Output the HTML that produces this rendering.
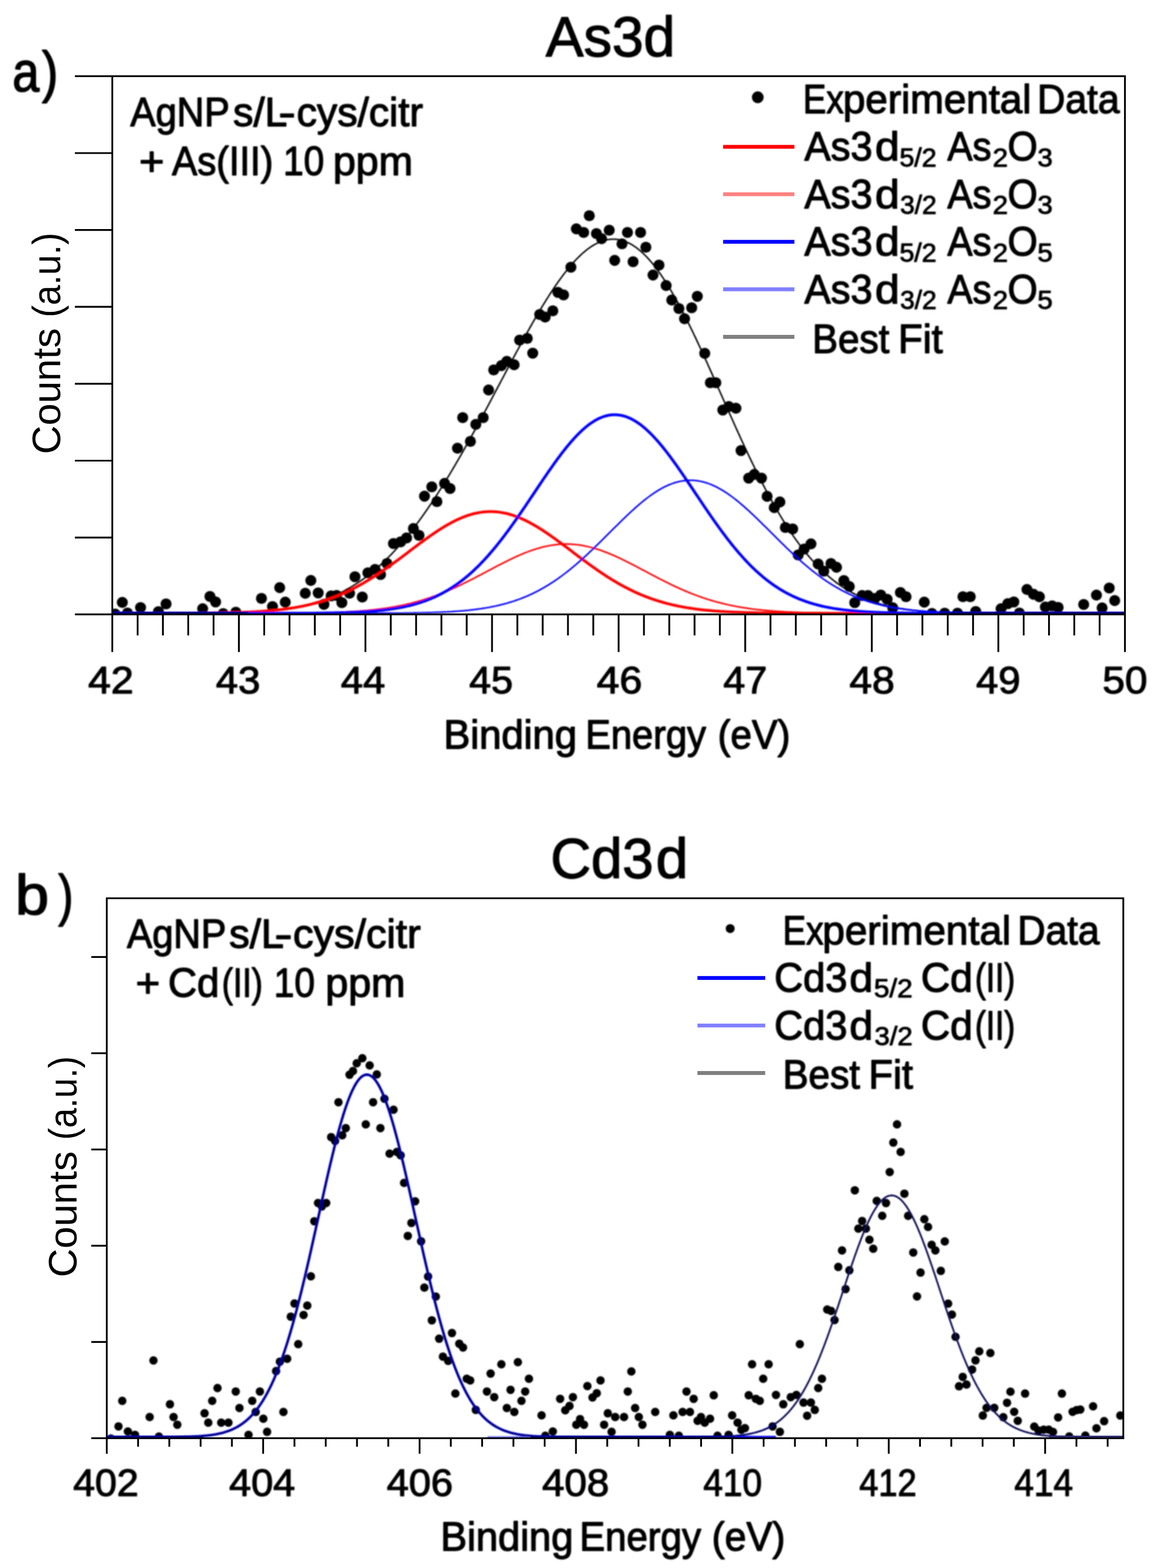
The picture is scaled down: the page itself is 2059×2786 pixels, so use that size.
<!DOCTYPE html>
<html lang="en">
<head>
<meta charset="utf-8">
<title>XPS spectra: As3d and Cd3d</title>
<style>
html,body{margin:0;padding:0;background:#fff;}
body{width:2059px;height:2786px;overflow:hidden;}
svg{display:block;}
text{font-family:"Liberation Sans", "DejaVu Sans", sans-serif;fill:#000;}
.ax{stroke:#000;stroke-width:3.2;fill:none;stroke-linecap:butt;}
.tk text{stroke:#000;stroke-width:1.6;stroke-linejoin:round;}
</style>
</head>
<body>
<svg xmlns="http://www.w3.org/2000/svg" width="2059" height="2786" viewBox="0 0 2059 2786">
<rect width="2059" height="2786" fill="#fff"/>
<defs>
<filter id="soft" x="0" y="0" width="2059" height="2786" filterUnits="userSpaceOnUse"><feGaussianBlur stdDeviation="0.9"/></filter>
<filter id="softY" x="0" y="0" width="2059" height="2786" filterUnits="userSpaceOnUse"><feGaussianBlur stdDeviation="0.45"/></filter>
<filter id="softT" x="0" y="0" width="2059" height="2786" filterUnits="userSpaceOnUse"><feGaussianBlur stdDeviation="0.8"/></filter>
<clipPath id="clipA"><rect x="199.5" y="135.4" width="1799.0" height="954.85"/></clipPath>
<clipPath id="clipB"><rect x="189.7" y="1596.0" width="1805.8999999999999" height="957.9500000000003"/></clipPath>
</defs>

<g id="chartA">
<g clip-path="url(#clipA)" filter="url(#soft)">
<path d="M199.5,1089.7 L201.5,1089.7 L203.5,1089.7 L205.5,1089.7 L207.5,1089.7 L209.5,1089.7 L211.5,1089.7 L213.5,1089.7 L215.5,1089.7 L217.5,1089.7 L219.5,1089.7 L221.5,1089.7 L223.5,1089.7 L225.5,1089.7 L227.5,1089.7 L229.5,1089.7 L231.5,1089.7 L233.5,1089.7 L235.5,1089.7 L237.5,1089.7 L239.5,1089.7 L241.5,1089.7 L243.5,1089.7 L245.5,1089.7 L247.5,1089.7 L249.5,1089.7 L251.5,1089.7 L253.5,1089.7 L255.5,1089.7 L257.5,1089.7 L259.5,1089.7 L261.5,1089.7 L263.5,1089.7 L265.5,1089.7 L267.5,1089.7 L269.5,1089.7 L271.5,1089.7 L273.5,1089.7 L275.5,1089.7 L277.5,1089.7 L279.5,1089.7 L281.5,1089.7 L283.5,1089.7 L285.5,1089.6 L287.5,1089.6 L289.5,1089.6 L291.5,1089.6 L293.5,1089.6 L295.5,1089.6 L297.5,1089.6 L299.5,1089.6 L301.5,1089.6 L303.5,1089.6 L305.5,1089.6 L307.5,1089.6 L309.5,1089.6 L311.5,1089.6 L313.5,1089.6 L315.5,1089.6 L317.5,1089.6 L319.5,1089.6 L321.5,1089.6 L323.5,1089.6 L325.5,1089.5 L327.5,1089.5 L329.5,1089.5 L331.5,1089.5 L333.5,1089.5 L335.5,1089.5 L337.5,1089.5 L339.5,1089.5 L341.5,1089.5 L343.5,1089.5 L345.5,1089.4 L347.5,1089.4 L349.5,1089.4 L351.5,1089.4 L353.5,1089.4 L355.5,1089.4 L357.5,1089.4 L359.5,1089.3 L361.5,1089.3 L363.5,1089.3 L365.5,1089.3 L367.5,1089.3 L369.5,1089.2 L371.5,1089.2 L373.5,1089.2 L375.5,1089.2 L377.5,1089.1 L379.5,1089.1 L381.5,1089.1 L383.5,1089.1 L385.5,1089.0 L387.5,1089.0 L389.5,1089.0 L391.5,1088.9 L393.5,1088.9 L395.5,1088.9 L397.5,1088.8 L399.5,1088.8 L401.5,1088.7 L403.5,1088.7 L405.5,1088.6 L407.5,1088.6 L409.5,1088.6 L411.5,1088.5 L413.5,1088.4 L415.5,1088.4 L417.5,1088.3 L419.5,1088.3 L421.5,1088.2 L423.5,1088.1 L425.5,1088.1 L427.5,1088.0 L429.5,1087.9 L431.5,1087.9 L433.5,1087.8 L435.5,1087.7 L437.5,1087.6 L439.5,1087.5 L441.5,1087.4 L443.5,1087.3 L445.5,1087.2 L447.5,1087.1 L449.5,1087.0 L451.5,1086.9 L453.5,1086.8 L455.5,1086.7 L457.5,1086.6 L459.5,1086.4 L461.5,1086.3 L463.5,1086.2 L465.5,1086.0 L467.5,1085.9 L469.5,1085.7 L471.5,1085.6 L473.5,1085.4 L475.5,1085.2 L477.5,1085.1 L479.5,1084.9 L481.5,1084.7 L483.5,1084.5 L485.5,1084.3 L487.5,1084.1 L489.5,1083.9 L491.5,1083.7 L493.5,1083.4 L495.5,1083.2 L497.5,1083.0 L499.5,1082.7 L501.5,1082.5 L503.5,1082.2 L505.5,1081.9 L507.5,1081.6 L509.5,1081.4 L511.5,1081.1 L513.5,1080.8 L515.5,1080.4 L517.5,1080.1 L519.5,1079.8 L521.5,1079.4 L523.5,1079.1 L525.5,1078.7 L527.5,1078.3 L529.5,1077.9 L531.5,1077.6 L533.5,1077.1 L535.5,1076.7 L537.5,1076.3 L539.5,1075.8 L541.5,1075.4 L543.5,1074.9 L545.5,1074.4 L547.5,1073.9 L549.5,1073.4 L551.5,1072.9 L553.5,1072.4 L555.5,1071.8 L557.5,1071.3 L559.5,1070.7 L561.5,1070.1 L563.5,1069.5 L565.5,1068.9 L567.5,1068.2 L569.5,1067.6 L571.5,1066.9 L573.5,1066.2 L575.5,1065.5 L577.5,1064.8 L579.5,1064.1 L581.5,1063.3 L583.5,1062.6 L585.5,1061.8 L587.5,1061.0 L589.5,1060.1 L591.5,1059.3 L593.5,1058.4 L595.5,1057.6 L597.5,1056.7 L599.5,1055.7 L601.5,1054.8 L603.5,1053.8 L605.5,1052.9 L607.5,1051.9 L609.5,1050.8 L611.5,1049.8 L613.5,1048.7 L615.5,1047.6 L617.5,1046.5 L619.5,1045.4 L621.5,1044.3 L623.5,1043.1 L625.5,1041.9 L627.5,1040.7 L629.5,1039.4 L631.5,1038.2 L633.5,1036.9 L635.5,1035.6 L637.5,1034.2 L639.5,1032.9 L641.5,1031.5 L643.5,1030.1 L645.5,1028.7 L647.5,1027.2 L649.5,1025.7 L651.5,1024.2 L653.5,1022.7 L655.5,1021.1 L657.5,1019.6 L659.5,1018.0 L661.5,1016.3 L663.5,1014.7 L665.5,1013.0 L667.5,1011.3 L669.5,1009.5 L671.5,1007.8 L673.5,1006.0 L675.5,1004.2 L677.5,1002.3 L679.5,1000.5 L681.5,998.6 L683.5,996.7 L685.5,994.7 L687.5,992.7 L689.5,990.7 L691.5,988.7 L693.5,986.7 L695.5,984.6 L697.5,982.5 L699.5,980.3 L701.5,978.2 L703.5,976.0 L705.5,973.8 L707.5,971.5 L709.5,969.3 L711.5,967.0 L713.5,964.7 L715.5,962.3 L717.5,960.0 L719.5,957.6 L721.5,955.1 L723.5,952.7 L725.5,950.2 L727.5,947.7 L729.5,945.2 L731.5,942.6 L733.5,940.0 L735.5,937.4 L737.5,934.8 L739.5,932.1 L741.5,929.5 L743.5,926.7 L745.5,924.0 L747.5,921.3 L749.5,918.5 L751.5,915.7 L753.5,912.8 L755.5,910.0 L757.5,907.1 L759.5,904.2 L761.5,901.3 L763.5,898.3 L765.5,895.4 L767.5,892.4 L769.5,889.4 L771.5,886.3 L773.5,883.3 L775.5,880.2 L777.5,877.1 L779.5,873.9 L781.5,870.8 L783.5,867.6 L785.5,864.4 L787.5,861.2 L789.5,858.0 L791.5,854.8 L793.5,851.5 L795.5,848.2 L797.5,844.9 L799.5,841.6 L801.5,838.2 L803.5,834.9 L805.5,831.5 L807.5,828.1 L809.5,824.7 L811.5,821.2 L813.5,817.8 L815.5,814.3 L817.5,810.9 L819.5,807.4 L821.5,803.8 L823.5,800.3 L825.5,796.8 L827.5,793.2 L829.5,789.7 L831.5,786.1 L833.5,782.5 L835.5,778.9 L837.5,775.3 L839.5,771.6 L841.5,768.0 L843.5,764.3 L845.5,760.7 L847.5,757.0 L849.5,753.3 L851.5,749.6 L853.5,745.9 L855.5,742.2 L857.5,738.5 L859.5,734.8 L861.5,731.0 L863.5,727.3 L865.5,723.6 L867.5,719.8 L869.5,716.1 L871.5,712.3 L873.5,708.5 L875.5,704.8 L877.5,701.0 L879.5,697.2 L881.5,693.4 L883.5,689.7 L885.5,685.9 L887.5,682.1 L889.5,678.3 L891.5,674.5 L893.5,670.8 L895.5,667.0 L897.5,663.2 L899.5,659.4 L901.5,655.7 L903.5,651.9 L905.5,648.1 L907.5,644.4 L909.5,640.6 L911.5,636.9 L913.5,633.2 L915.5,629.4 L917.5,625.7 L919.5,622.0 L921.5,618.3 L923.5,614.6 L925.5,610.9 L927.5,607.3 L929.5,603.6 L931.5,600.0 L933.5,596.3 L935.5,592.7 L937.5,589.1 L939.5,585.6 L941.5,582.0 L943.5,578.5 L945.5,574.9 L947.5,571.4 L949.5,568.0 L951.5,564.5 L953.5,561.1 L955.5,557.6 L957.5,554.2 L959.5,550.9 L961.5,547.5 L963.5,544.2 L965.5,540.9 L967.5,537.7 L969.5,534.4 L971.5,531.2 L973.5,528.1 L975.5,524.9 L977.5,521.8 L979.5,518.7 L981.5,515.7 L983.5,512.7 L985.5,509.7 L987.5,506.8 L989.5,503.9 L991.5,501.0 L993.5,498.2 L995.5,495.4 L997.5,492.7 L999.5,490.0 L1001.5,487.3 L1003.5,484.7 L1005.5,482.2 L1007.5,479.6 L1009.5,477.2 L1011.5,474.8 L1013.5,472.4 L1015.5,470.0 L1017.5,467.8 L1019.5,465.5 L1021.5,463.4 L1023.5,461.2 L1025.5,459.2 L1027.5,457.1 L1029.5,455.2 L1031.5,453.3 L1033.5,451.4 L1035.5,449.6 L1037.5,447.9 L1039.5,446.2 L1041.5,444.6 L1043.5,443.0 L1045.5,441.5 L1047.5,440.1 L1049.5,438.7 L1051.5,437.4 L1053.5,436.1 L1055.5,435.0 L1057.5,433.8 L1059.5,432.8 L1061.5,431.8 L1063.5,430.8 L1065.5,430.0 L1067.5,429.2 L1069.5,428.5 L1071.5,427.8 L1073.5,427.2 L1075.5,426.7 L1077.5,426.2 L1079.5,425.8 L1081.5,425.5 L1083.5,425.3 L1085.5,425.1 L1087.5,425.0 L1089.5,425.0 L1091.5,425.0 L1093.5,425.1 L1095.5,425.3 L1097.5,425.5 L1099.5,425.9 L1101.5,426.3 L1103.5,426.7 L1105.5,427.3 L1107.5,427.9 L1109.5,428.6 L1111.5,429.3 L1113.5,430.2 L1115.5,431.1 L1117.5,432.0 L1119.5,433.1 L1121.5,434.2 L1123.5,435.4 L1125.5,436.6 L1127.5,438.0 L1129.5,439.4 L1131.5,440.8 L1133.5,442.4 L1135.5,444.0 L1137.5,445.7 L1139.5,447.4 L1141.5,449.2 L1143.5,451.1 L1145.5,453.1 L1147.5,455.1 L1149.5,457.2 L1151.5,459.4 L1153.5,461.6 L1155.5,463.9 L1157.5,466.2 L1159.5,468.6 L1161.5,471.1 L1163.5,473.7 L1165.5,476.3 L1167.5,478.9 L1169.5,481.7 L1171.5,484.4 L1173.5,487.3 L1175.5,490.2 L1177.5,493.2 L1179.5,496.2 L1181.5,499.2 L1183.5,502.4 L1185.5,505.6 L1187.5,508.8 L1189.5,512.1 L1191.5,515.4 L1193.5,518.8 L1195.5,522.3 L1197.5,525.8 L1199.5,529.3 L1201.5,532.9 L1203.5,536.5 L1205.5,540.2 L1207.5,543.9 L1209.5,547.7 L1211.5,551.5 L1213.5,555.3 L1215.5,559.2 L1217.5,563.1 L1219.5,567.1 L1221.5,571.1 L1223.5,575.1 L1225.5,579.1 L1227.5,583.2 L1229.5,587.4 L1231.5,591.5 L1233.5,595.7 L1235.5,599.9 L1237.5,604.1 L1239.5,608.4 L1241.5,612.7 L1243.5,617.0 L1245.5,621.3 L1247.5,625.7 L1249.5,630.1 L1251.5,634.5 L1253.5,638.9 L1255.5,643.3 L1257.5,647.7 L1259.5,652.2 L1261.5,656.6 L1263.5,661.1 L1265.5,665.6 L1267.5,670.1 L1269.5,674.6 L1271.5,679.1 L1273.5,683.6 L1275.5,688.2 L1277.5,692.7 L1279.5,697.2 L1281.5,701.7 L1283.5,706.3 L1285.5,710.8 L1287.5,715.3 L1289.5,719.8 L1291.5,724.3 L1293.5,728.8 L1295.5,733.4 L1297.5,737.8 L1299.5,742.3 L1301.5,746.8 L1303.5,751.3 L1305.5,755.7 L1307.5,760.2 L1309.5,764.6 L1311.5,769.0 L1313.5,773.4 L1315.5,777.8 L1317.5,782.2 L1319.5,786.5 L1321.5,790.8 L1323.5,795.2 L1325.5,799.4 L1327.5,803.7 L1329.5,808.0 L1331.5,812.2 L1333.5,816.4 L1335.5,820.6 L1337.5,824.7 L1339.5,828.8 L1341.5,832.9 L1343.5,837.0 L1345.5,841.0 L1347.5,845.0 L1349.5,849.0 L1351.5,853.0 L1353.5,856.9 L1355.5,860.8 L1357.5,864.6 L1359.5,868.5 L1361.5,872.3 L1363.5,876.0 L1365.5,879.8 L1367.5,883.5 L1369.5,887.1 L1371.5,890.7 L1373.5,894.3 L1375.5,897.9 L1377.5,901.4 L1379.5,904.9 L1381.5,908.3 L1383.5,911.7 L1385.5,915.1 L1387.5,918.4 L1389.5,921.7 L1391.5,925.0 L1393.5,928.2 L1395.5,931.4 L1397.5,934.5 L1399.5,937.6 L1401.5,940.7 L1403.5,943.7 L1405.5,946.7 L1407.5,949.6 L1409.5,952.6 L1411.5,955.4 L1413.5,958.3 L1415.5,961.0 L1417.5,963.8 L1419.5,966.5 L1421.5,969.2 L1423.5,971.8 L1425.5,974.4 L1427.5,977.0 L1429.5,979.5 L1431.5,982.0 L1433.5,984.4 L1435.5,986.8 L1437.5,989.2 L1439.5,991.5 L1441.5,993.8 L1443.5,996.0 L1445.5,998.2 L1447.5,1000.4 L1449.5,1002.5 L1451.5,1004.6 L1453.5,1006.7 L1455.5,1008.7 L1457.5,1010.7 L1459.5,1012.7 L1461.5,1014.6 L1463.5,1016.5 L1465.5,1018.3 L1467.5,1020.1 L1469.5,1021.9 L1471.5,1023.6 L1473.5,1025.3 L1475.5,1027.0 L1477.5,1028.6 L1479.5,1030.3 L1481.5,1031.8 L1483.5,1033.4 L1485.5,1034.9 L1487.5,1036.4 L1489.5,1037.8 L1491.5,1039.2 L1493.5,1040.6 L1495.5,1042.0 L1497.5,1043.3 L1499.5,1044.6 L1501.5,1045.9 L1503.5,1047.1 L1505.5,1048.3 L1507.5,1049.5 L1509.5,1050.7 L1511.5,1051.8 L1513.5,1052.9 L1515.5,1054.0 L1517.5,1055.0 L1519.5,1056.1 L1521.5,1057.1 L1523.5,1058.0 L1525.5,1059.0 L1527.5,1059.9 L1529.5,1060.8 L1531.5,1061.7 L1533.5,1062.6 L1535.5,1063.4 L1537.5,1064.2 L1539.5,1065.0 L1541.5,1065.8 L1543.5,1066.6 L1545.5,1067.3 L1547.5,1068.0 L1549.5,1068.7 L1551.5,1069.4 L1553.5,1070.1 L1555.5,1070.7 L1557.5,1071.3 L1559.5,1071.9 L1561.5,1072.5 L1563.5,1073.1 L1565.5,1073.7 L1567.5,1074.2 L1569.5,1074.7 L1571.5,1075.2 L1573.5,1075.7 L1575.5,1076.2 L1577.5,1076.7 L1579.5,1077.1 L1581.5,1077.6 L1583.5,1078.0 L1585.5,1078.4 L1587.5,1078.8 L1589.5,1079.2 L1591.5,1079.6 L1593.5,1079.9 L1595.5,1080.3 L1597.5,1080.6 L1599.5,1081.0 L1601.5,1081.3 L1603.5,1081.6 L1605.5,1081.9 L1607.5,1082.2 L1609.5,1082.5 L1611.5,1082.7 L1613.5,1083.0 L1615.5,1083.3 L1617.5,1083.5 L1619.5,1083.7 L1621.5,1084.0 L1623.5,1084.2 L1625.5,1084.4 L1627.5,1084.6 L1629.5,1084.8 L1631.5,1085.0 L1633.5,1085.2 L1635.5,1085.4 L1637.5,1085.5 L1639.5,1085.7 L1641.5,1085.9 L1643.5,1086.0 L1645.5,1086.2 L1647.5,1086.3 L1649.5,1086.4 L1651.5,1086.6 L1653.5,1086.7 L1655.5,1086.8 L1657.5,1087.0 L1659.5,1087.1 L1661.5,1087.2 L1663.5,1087.3 L1665.5,1087.4 L1667.5,1087.5 L1669.5,1087.6 L1671.5,1087.7 L1673.5,1087.8 L1675.5,1087.8 L1677.5,1087.9 L1679.5,1088.0 L1681.5,1088.1 L1683.5,1088.1 L1685.5,1088.2 L1687.5,1088.3 L1689.5,1088.3 L1691.5,1088.4 L1693.5,1088.5 L1695.5,1088.5 L1697.5,1088.6 L1699.5,1088.6 L1701.5,1088.7 L1703.5,1088.7 L1705.5,1088.8 L1707.5,1088.8 L1709.5,1088.8 L1711.5,1088.9 L1713.5,1088.9 L1715.5,1089.0 L1717.5,1089.0 L1719.5,1089.0 L1721.5,1089.1 L1723.5,1089.1 L1725.5,1089.1 L1727.5,1089.1 L1729.5,1089.2 L1731.5,1089.2 L1733.5,1089.2 L1735.5,1089.2 L1737.5,1089.3 L1739.5,1089.3 L1741.5,1089.3 L1743.5,1089.3 L1745.5,1089.3 L1747.5,1089.4 L1749.5,1089.4 L1751.5,1089.4 L1753.5,1089.4 L1755.5,1089.4 L1757.5,1089.4 L1759.5,1089.5 L1761.5,1089.5 L1763.5,1089.5 L1765.5,1089.5 L1767.5,1089.5 L1769.5,1089.5 L1771.5,1089.5 L1773.5,1089.5 L1775.5,1089.5 L1777.5,1089.5 L1779.5,1089.6 L1781.5,1089.6 L1783.5,1089.6 L1785.5,1089.6 L1787.5,1089.6 L1789.5,1089.6 L1791.5,1089.6 L1793.5,1089.6 L1795.5,1089.6 L1797.5,1089.6 L1799.5,1089.6 L1801.5,1089.6 L1803.5,1089.6 L1805.5,1089.6 L1807.5,1089.6 L1809.5,1089.6 L1811.5,1089.6 L1813.5,1089.6 L1815.5,1089.6 L1817.5,1089.7 L1819.5,1089.7 L1821.5,1089.7 L1823.5,1089.7 L1825.5,1089.7 L1827.5,1089.7 L1829.5,1089.7 L1831.5,1089.7 L1833.5,1089.7 L1835.5,1089.7 L1837.5,1089.7 L1839.5,1089.7 L1841.5,1089.7 L1843.5,1089.7 L1845.5,1089.7 L1847.5,1089.7 L1849.5,1089.7 L1851.5,1089.7 L1853.5,1089.7 L1855.5,1089.7 L1857.5,1089.7 L1859.5,1089.7 L1861.5,1089.7 L1863.5,1089.7 L1865.5,1089.7 L1867.5,1089.7 L1869.5,1089.7 L1871.5,1089.7 L1873.5,1089.7 L1875.5,1089.7 L1877.5,1089.7 L1879.5,1089.7 L1881.5,1089.7 L1883.5,1089.7 L1885.5,1089.7 L1887.5,1089.7 L1889.5,1089.7 L1891.5,1089.7 L1893.5,1089.7 L1895.5,1089.7 L1897.5,1089.7 L1899.5,1089.7 L1901.5,1089.7 L1903.5,1089.7 L1905.5,1089.7 L1907.5,1089.7 L1909.5,1089.7 L1911.5,1089.7 L1913.5,1089.7 L1915.5,1089.7 L1917.5,1089.7 L1919.5,1089.7 L1921.5,1089.7 L1923.5,1089.7 L1925.5,1089.7 L1927.5,1089.7 L1929.5,1089.7 L1931.5,1089.7 L1933.5,1089.7 L1935.5,1089.7 L1937.5,1089.7 L1939.5,1089.7 L1941.5,1089.7 L1943.5,1089.7 L1945.5,1089.7 L1947.5,1089.7 L1949.5,1089.7 L1951.5,1089.7 L1953.5,1089.7 L1955.5,1089.7 L1957.5,1089.7 L1959.5,1089.7 L1961.5,1089.7 L1963.5,1089.7 L1965.5,1089.7 L1967.5,1089.7 L1969.5,1089.7 L1971.5,1089.7 L1973.5,1089.7 L1975.5,1089.7 L1977.5,1089.7 L1979.5,1089.7 L1981.5,1089.7 L1983.5,1089.7 L1985.5,1089.7 L1987.5,1089.7 L1989.5,1089.7 L1991.5,1089.7 L1993.5,1089.7 L1995.5,1089.7 L1997.5,1089.7 L1998.5,1089.7" fill="none" stroke="#000000" stroke-width="2.6" stroke-linejoin="round"/>
<g id="dotsA" fill="#000">
<circle cx="217.3" cy="1070.4" r="9.8"/>
<circle cx="204.5" cy="1091" r="9.8"/>
<circle cx="226.5" cy="1089.3" r="9.8"/>
<circle cx="249.7" cy="1079.5" r="9.8"/>
<circle cx="281.5" cy="1086.8" r="9.8"/>
<circle cx="295" cy="1073" r="9.8"/>
<circle cx="360" cy="1081.6" r="9.8"/>
<circle cx="373" cy="1059.8" r="9.8"/>
<circle cx="383" cy="1069.5" r="9.8"/>
<circle cx="396.5" cy="1090.2" r="9.8"/>
<circle cx="419" cy="1087.8" r="9.8"/>
<circle cx="464.5" cy="1063.2" r="9.8"/>
<circle cx="484.1" cy="1077.7" r="9.8"/>
<circle cx="496.9" cy="1044.1" r="9.8"/>
<circle cx="506.8" cy="1069.9" r="9.8"/>
<circle cx="542.3" cy="1054.1" r="9.8"/>
<circle cx="552.2" cy="1031.4" r="9.8"/>
<circle cx="565.3" cy="1053.5" r="9.8"/>
<circle cx="575.5" cy="1073.8" r="9.8"/>
<circle cx="588.3" cy="1058.7" r="9.8"/>
<circle cx="598" cy="1058" r="9.8"/>
<circle cx="607.3" cy="1070.8" r="9.8"/>
<circle cx="621" cy="1054" r="9.8"/>
<circle cx="630.6" cy="1024.8" r="9.8"/>
<circle cx="643.6" cy="1060.8" r="9.8"/>
<circle cx="653.6" cy="1017.8" r="9.8"/>
<circle cx="666.3" cy="1011.7" r="9.8"/>
<circle cx="676" cy="1020.8" r="9.8"/>
<circle cx="687.5" cy="1001.2" r="9.8"/>
<circle cx="699" cy="965.7" r="9.8"/>
<circle cx="711.7" cy="962.7" r="9.8"/>
<circle cx="722.3" cy="955.8" r="9.8"/>
<circle cx="734.4" cy="939.1" r="9.8"/>
<circle cx="744.4" cy="951.2" r="9.8"/>
<circle cx="754.1" cy="881.6" r="9.8"/>
<circle cx="767.1" cy="865" r="9.8"/>
<circle cx="776.2" cy="891.3" r="9.8"/>
<circle cx="789.8" cy="858.9" r="9.8"/>
<circle cx="799.5" cy="868" r="9.8"/>
<circle cx="812.7" cy="796.4" r="9.8"/>
<circle cx="822" cy="742" r="9.8"/>
<circle cx="835.7" cy="784.3" r="9.8"/>
<circle cx="845.3" cy="754" r="9.8"/>
<circle cx="858.4" cy="742" r="9.8"/>
<circle cx="868" cy="692.9" r="9.8"/>
<circle cx="877.1" cy="657.2" r="9.8"/>
<circle cx="890.7" cy="649.6" r="9.8"/>
<circle cx="900.4" cy="642" r="9.8"/>
<circle cx="913.4" cy="648.1" r="9.8"/>
<circle cx="923.1" cy="604.2" r="9.8"/>
<circle cx="936.7" cy="601.2" r="9.8"/>
<circle cx="946.4" cy="627.5" r="9.8"/>
<circle cx="958.8" cy="558.8" r="9.8"/>
<circle cx="968.5" cy="563.4" r="9.8"/>
<circle cx="982.1" cy="552.2" r="9.8"/>
<circle cx="991.2" cy="519.5" r="9.8"/>
<circle cx="1001.2" cy="524" r="9.8"/>
<circle cx="1014.2" cy="474.7" r="9.8"/>
<circle cx="1023.9" cy="406.6" r="9.8"/>
<circle cx="1036.9" cy="413" r="9.8"/>
<circle cx="1046.9" cy="383.3" r="9.8"/>
<circle cx="1059.6" cy="415" r="9.8"/>
<circle cx="1068.7" cy="424.1" r="9.8"/>
<circle cx="1082.3" cy="409" r="9.8"/>
<circle cx="1092" cy="462.6" r="9.8"/>
<circle cx="1105" cy="433.2" r="9.8"/>
<circle cx="1114.7" cy="413" r="9.8"/>
<circle cx="1124.7" cy="465" r="9.8"/>
<circle cx="1138" cy="413" r="9.8"/>
<circle cx="1147.4" cy="439.3" r="9.8"/>
<circle cx="1160.1" cy="488.6" r="9.8"/>
<circle cx="1170.7" cy="471" r="9.8"/>
<circle cx="1183.4" cy="507.4" r="9.8"/>
<circle cx="1193.4" cy="533.1" r="9.8"/>
<circle cx="1206.1" cy="548.2" r="9.8"/>
<circle cx="1216.1" cy="566.4" r="9.8"/>
<circle cx="1228.8" cy="546.7" r="9.8"/>
<circle cx="1238.8" cy="526.5" r="9.8"/>
<circle cx="1252" cy="627.7" r="9.8"/>
<circle cx="1262" cy="680" r="9.8"/>
<circle cx="1271.7" cy="680" r="9.8"/>
<circle cx="1284.1" cy="728.5" r="9.8"/>
<circle cx="1294.7" cy="722.4" r="9.8"/>
<circle cx="1307.4" cy="725.4" r="9.8"/>
<circle cx="1316.5" cy="800.5" r="9.8"/>
<circle cx="1330.1" cy="849.5" r="9.8"/>
<circle cx="1340.1" cy="842.9" r="9.8"/>
<circle cx="1352.8" cy="849.5" r="9.8"/>
<circle cx="1362.8" cy="881.9" r="9.8"/>
<circle cx="1375.5" cy="901.9" r="9.8"/>
<circle cx="1385.5" cy="891.9" r="9.8"/>
<circle cx="1395.2" cy="937.3" r="9.8"/>
<circle cx="1408.2" cy="939.7" r="9.8"/>
<circle cx="1418" cy="986" r="9.8"/>
<circle cx="1428.6" cy="975.5" r="9.8"/>
<circle cx="1440.7" cy="966.4" r="9.8"/>
<circle cx="1453.5" cy="1002.1" r="9.8"/>
<circle cx="1463.4" cy="1014.8" r="9.8"/>
<circle cx="1476.2" cy="1001.2" r="9.8"/>
<circle cx="1486.1" cy="1007.9" r="9.8"/>
<circle cx="1499.2" cy="1031.5" r="9.8"/>
<circle cx="1508.8" cy="1042.1" r="9.8"/>
<circle cx="1518.5" cy="1070.8" r="9.8"/>
<circle cx="1531.5" cy="1058.1" r="9.8"/>
<circle cx="1542.1" cy="1058.1" r="9.8"/>
<circle cx="1554.2" cy="1063.3" r="9.8"/>
<circle cx="1564.8" cy="1057.2" r="9.8"/>
<circle cx="1576" cy="1064.8" r="9.8"/>
<circle cx="1586" cy="1079.9" r="9.8"/>
<circle cx="1599.6" cy="1052.7" r="9.8"/>
<circle cx="1609.6" cy="1060.2" r="9.8"/>
<circle cx="1642" cy="1069.9" r="9.8"/>
<circle cx="1655.6" cy="1090" r="9.8"/>
<circle cx="1678.3" cy="1089.5" r="9.8"/>
<circle cx="1701" cy="1089.5" r="9.8"/>
<circle cx="1710.7" cy="1060.2" r="9.8"/>
<circle cx="1723.7" cy="1060.2" r="9.8"/>
<circle cx="1733.4" cy="1086.5" r="9.8"/>
<circle cx="1778.4" cy="1081.6" r="9.8"/>
<circle cx="1790.5" cy="1072.5" r="9.8"/>
<circle cx="1801.1" cy="1069.5" r="9.8"/>
<circle cx="1811" cy="1089.2" r="9.8"/>
<circle cx="1824.4" cy="1047.4" r="9.8"/>
<circle cx="1836" cy="1055.9" r="9.8"/>
<circle cx="1846.5" cy="1060.4" r="9.8"/>
<circle cx="1857.1" cy="1078.6" r="9.8"/>
<circle cx="1869.2" cy="1076.5" r="9.8"/>
<circle cx="1879.8" cy="1079.2" r="9.8"/>
<circle cx="1925.2" cy="1074" r="9.8"/>
<circle cx="1947.9" cy="1057.4" r="9.8"/>
<circle cx="1957.9" cy="1080.1" r="9.8"/>
<circle cx="1970.6" cy="1044.7" r="9.8"/>
<circle cx="1980.3" cy="1067.1" r="9.8"/>
</g>
<path d="M199.5,1089.7 L201.5,1089.7 L203.5,1089.7 L205.5,1089.7 L207.5,1089.7 L209.5,1089.7 L211.5,1089.7 L213.5,1089.7 L215.5,1089.7 L217.5,1089.7 L219.5,1089.7 L221.5,1089.7 L223.5,1089.7 L225.5,1089.7 L227.5,1089.7 L229.5,1089.7 L231.5,1089.7 L233.5,1089.7 L235.5,1089.7 L237.5,1089.7 L239.5,1089.7 L241.5,1089.7 L243.5,1089.7 L245.5,1089.7 L247.5,1089.7 L249.5,1089.7 L251.5,1089.7 L253.5,1089.7 L255.5,1089.7 L257.5,1089.7 L259.5,1089.7 L261.5,1089.7 L263.5,1089.7 L265.5,1089.7 L267.5,1089.7 L269.5,1089.7 L271.5,1089.7 L273.5,1089.7 L275.5,1089.7 L277.5,1089.7 L279.5,1089.7 L281.5,1089.7 L283.5,1089.7 L285.5,1089.6 L287.5,1089.6 L289.5,1089.6 L291.5,1089.6 L293.5,1089.6 L295.5,1089.6 L297.5,1089.6 L299.5,1089.6 L301.5,1089.6 L303.5,1089.6 L305.5,1089.6 L307.5,1089.6 L309.5,1089.6 L311.5,1089.6 L313.5,1089.6 L315.5,1089.6 L317.5,1089.6 L319.5,1089.6 L321.5,1089.6 L323.5,1089.6 L325.5,1089.5 L327.5,1089.5 L329.5,1089.5 L331.5,1089.5 L333.5,1089.5 L335.5,1089.5 L337.5,1089.5 L339.5,1089.5 L341.5,1089.5 L343.5,1089.5 L345.5,1089.4 L347.5,1089.4 L349.5,1089.4 L351.5,1089.4 L353.5,1089.4 L355.5,1089.4 L357.5,1089.4 L359.5,1089.3 L361.5,1089.3 L363.5,1089.3 L365.5,1089.3 L367.5,1089.3 L369.5,1089.2 L371.5,1089.2 L373.5,1089.2 L375.5,1089.2 L377.5,1089.2 L379.5,1089.1 L381.5,1089.1 L383.5,1089.1 L385.5,1089.0 L387.5,1089.0 L389.5,1089.0 L391.5,1088.9 L393.5,1088.9 L395.5,1088.9 L397.5,1088.8 L399.5,1088.8 L401.5,1088.8 L403.5,1088.7 L405.5,1088.7 L407.5,1088.6 L409.5,1088.6 L411.5,1088.5 L413.5,1088.5 L415.5,1088.4 L417.5,1088.4 L419.5,1088.3 L421.5,1088.2 L423.5,1088.2 L425.5,1088.1 L427.5,1088.0 L429.5,1088.0 L431.5,1087.9 L433.5,1087.8 L435.5,1087.7 L437.5,1087.7 L439.5,1087.6 L441.5,1087.5 L443.5,1087.4 L445.5,1087.3 L447.5,1087.2 L449.5,1087.1 L451.5,1087.0 L453.5,1086.9 L455.5,1086.8 L457.5,1086.6 L459.5,1086.5 L461.5,1086.4 L463.5,1086.3 L465.5,1086.1 L467.5,1086.0 L469.5,1085.8 L471.5,1085.7 L473.5,1085.5 L475.5,1085.4 L477.5,1085.2 L479.5,1085.0 L481.5,1084.8 L483.5,1084.7 L485.5,1084.5 L487.5,1084.3 L489.5,1084.1 L491.5,1083.9 L493.5,1083.7 L495.5,1083.4 L497.5,1083.2 L499.5,1083.0 L501.5,1082.7 L503.5,1082.5 L505.5,1082.2 L507.5,1082.0 L509.5,1081.7 L511.5,1081.4 L513.5,1081.1 L515.5,1080.8 L517.5,1080.5 L519.5,1080.2 L521.5,1079.9 L523.5,1079.6 L525.5,1079.2 L527.5,1078.9 L529.5,1078.5 L531.5,1078.1 L533.5,1077.8 L535.5,1077.4 L537.5,1077.0 L539.5,1076.6 L541.5,1076.1 L543.5,1075.7 L545.5,1075.3 L547.5,1074.8 L549.5,1074.4 L551.5,1073.9 L553.5,1073.4 L555.5,1072.9 L557.5,1072.4 L559.5,1071.9 L561.5,1071.3 L563.5,1070.8 L565.5,1070.2 L567.5,1069.6 L569.5,1069.0 L571.5,1068.4 L573.5,1067.8 L575.5,1067.2 L577.5,1066.6 L579.5,1065.9 L581.5,1065.2 L583.5,1064.6 L585.5,1063.9 L587.5,1063.2 L589.5,1062.4 L591.5,1061.7 L593.5,1060.9 L595.5,1060.2 L597.5,1059.4 L599.5,1058.6 L601.5,1057.8 L603.5,1057.0 L605.5,1056.1 L607.5,1055.3 L609.5,1054.4 L611.5,1053.5 L613.5,1052.6 L615.5,1051.7 L617.5,1050.7 L619.5,1049.8 L621.5,1048.8 L623.5,1047.8 L625.5,1046.9 L627.5,1045.8 L629.5,1044.8 L631.5,1043.8 L633.5,1042.7 L635.5,1041.6 L637.5,1040.6 L639.5,1039.5 L641.5,1038.3 L643.5,1037.2 L645.5,1036.1 L647.5,1034.9 L649.5,1033.7 L651.5,1032.5 L653.5,1031.3 L655.5,1030.1 L657.5,1028.9 L659.5,1027.6 L661.5,1026.4 L663.5,1025.1 L665.5,1023.8 L667.5,1022.5 L669.5,1021.2 L671.5,1019.9 L673.5,1018.6 L675.5,1017.2 L677.5,1015.9 L679.5,1014.5 L681.5,1013.1 L683.5,1011.7 L685.5,1010.3 L687.5,1008.9 L689.5,1007.5 L691.5,1006.1 L693.5,1004.6 L695.5,1003.2 L697.5,1001.7 L699.5,1000.3 L701.5,998.8 L703.5,997.3 L705.5,995.9 L707.5,994.4 L709.5,992.9 L711.5,991.4 L713.5,989.9 L715.5,988.4 L717.5,986.9 L719.5,985.4 L721.5,983.9 L723.5,982.4 L725.5,980.9 L727.5,979.3 L729.5,977.8 L731.5,976.3 L733.5,974.8 L735.5,973.3 L737.5,971.8 L739.5,970.3 L741.5,968.8 L743.5,967.3 L745.5,965.8 L747.5,964.3 L749.5,962.9 L751.5,961.4 L753.5,959.9 L755.5,958.5 L757.5,957.0 L759.5,955.6 L761.5,954.2 L763.5,952.8 L765.5,951.4 L767.5,950.0 L769.5,948.6 L771.5,947.2 L773.5,945.9 L775.5,944.6 L777.5,943.2 L779.5,941.9 L781.5,940.7 L783.5,939.4 L785.5,938.1 L787.5,936.9 L789.5,935.7 L791.5,934.5 L793.5,933.3 L795.5,932.2 L797.5,931.1 L799.5,930.0 L801.5,928.9 L803.5,927.8 L805.5,926.8 L807.5,925.8 L809.5,924.8 L811.5,923.8 L813.5,922.9 L815.5,922.0 L817.5,921.1 L819.5,920.3 L821.5,919.4 L823.5,918.6 L825.5,917.9 L827.5,917.1 L829.5,916.4 L831.5,915.7 L833.5,915.1 L835.5,914.5 L837.5,913.9 L839.5,913.3 L841.5,912.8 L843.5,912.3 L845.5,911.9 L847.5,911.5 L849.5,911.1 L851.5,910.7 L853.5,910.4 L855.5,910.1 L857.5,909.8 L859.5,909.6 L861.5,909.4 L863.5,909.3 L865.5,909.2 L867.5,909.1 L869.5,909.0 L871.5,909.0 L873.5,909.0 L875.5,909.1 L877.5,909.2 L879.5,909.3 L881.5,909.4 L883.5,909.6 L885.5,909.8 L887.5,910.1 L889.5,910.4 L891.5,910.7 L893.5,911.1 L895.5,911.5 L897.5,911.9 L899.5,912.3 L901.5,912.8 L903.5,913.3 L905.5,913.9 L907.5,914.5 L909.5,915.1 L911.5,915.7 L913.5,916.4 L915.5,917.1 L917.5,917.9 L919.5,918.6 L921.5,919.4 L923.5,920.3 L925.5,921.1 L927.5,922.0 L929.5,922.9 L931.5,923.8 L933.5,924.8 L935.5,925.8 L937.5,926.8 L939.5,927.8 L941.5,928.9 L943.5,930.0 L945.5,931.1 L947.5,932.2 L949.5,933.3 L951.5,934.5 L953.5,935.7 L955.5,936.9 L957.5,938.1 L959.5,939.4 L961.5,940.7 L963.5,941.9 L965.5,943.2 L967.5,944.6 L969.5,945.9 L971.5,947.2 L973.5,948.6 L975.5,950.0 L977.5,951.4 L979.5,952.8 L981.5,954.2 L983.5,955.6 L985.5,957.0 L987.5,958.5 L989.5,959.9 L991.5,961.4 L993.5,962.9 L995.5,964.3 L997.5,965.8 L999.5,967.3 L1001.5,968.8 L1003.5,970.3 L1005.5,971.8 L1007.5,973.3 L1009.5,974.8 L1011.5,976.3 L1013.5,977.8 L1015.5,979.3 L1017.5,980.9 L1019.5,982.4 L1021.5,983.9 L1023.5,985.4 L1025.5,986.9 L1027.5,988.4 L1029.5,989.9 L1031.5,991.4 L1033.5,992.9 L1035.5,994.4 L1037.5,995.9 L1039.5,997.3 L1041.5,998.8 L1043.5,1000.3 L1045.5,1001.7 L1047.5,1003.2 L1049.5,1004.6 L1051.5,1006.1 L1053.5,1007.5 L1055.5,1008.9 L1057.5,1010.3 L1059.5,1011.7 L1061.5,1013.1 L1063.5,1014.5 L1065.5,1015.9 L1067.5,1017.2 L1069.5,1018.6 L1071.5,1019.9 L1073.5,1021.2 L1075.5,1022.5 L1077.5,1023.8 L1079.5,1025.1 L1081.5,1026.4 L1083.5,1027.6 L1085.5,1028.9 L1087.5,1030.1 L1089.5,1031.3 L1091.5,1032.5 L1093.5,1033.7 L1095.5,1034.9 L1097.5,1036.1 L1099.5,1037.2 L1101.5,1038.3 L1103.5,1039.5 L1105.5,1040.6 L1107.5,1041.6 L1109.5,1042.7 L1111.5,1043.8 L1113.5,1044.8 L1115.5,1045.8 L1117.5,1046.9 L1119.5,1047.8 L1121.5,1048.8 L1123.5,1049.8 L1125.5,1050.7 L1127.5,1051.7 L1129.5,1052.6 L1131.5,1053.5 L1133.5,1054.4 L1135.5,1055.3 L1137.5,1056.1 L1139.5,1057.0 L1141.5,1057.8 L1143.5,1058.6 L1145.5,1059.4 L1147.5,1060.2 L1149.5,1060.9 L1151.5,1061.7 L1153.5,1062.4 L1155.5,1063.2 L1157.5,1063.9 L1159.5,1064.6 L1161.5,1065.2 L1163.5,1065.9 L1165.5,1066.6 L1167.5,1067.2 L1169.5,1067.8 L1171.5,1068.4 L1173.5,1069.0 L1175.5,1069.6 L1177.5,1070.2 L1179.5,1070.8 L1181.5,1071.3 L1183.5,1071.9 L1185.5,1072.4 L1187.5,1072.9 L1189.5,1073.4 L1191.5,1073.9 L1193.5,1074.4 L1195.5,1074.8 L1197.5,1075.3 L1199.5,1075.7 L1201.5,1076.1 L1203.5,1076.6 L1205.5,1077.0 L1207.5,1077.4 L1209.5,1077.8 L1211.5,1078.1 L1213.5,1078.5 L1215.5,1078.9 L1217.5,1079.2 L1219.5,1079.6 L1221.5,1079.9 L1223.5,1080.2 L1225.5,1080.5 L1227.5,1080.8 L1229.5,1081.1 L1231.5,1081.4 L1233.5,1081.7 L1235.5,1082.0 L1237.5,1082.2 L1239.5,1082.5 L1241.5,1082.7 L1243.5,1083.0 L1245.5,1083.2 L1247.5,1083.4 L1249.5,1083.7 L1251.5,1083.9 L1253.5,1084.1 L1255.5,1084.3 L1257.5,1084.5 L1259.5,1084.7 L1261.5,1084.8 L1263.5,1085.0 L1265.5,1085.2 L1267.5,1085.4 L1269.5,1085.5 L1271.5,1085.7 L1273.5,1085.8 L1275.5,1086.0 L1277.5,1086.1 L1279.5,1086.3 L1281.5,1086.4 L1283.5,1086.5 L1285.5,1086.6 L1287.5,1086.8 L1289.5,1086.9 L1291.5,1087.0 L1293.5,1087.1 L1295.5,1087.2 L1297.5,1087.3 L1299.5,1087.4 L1301.5,1087.5 L1303.5,1087.6 L1305.5,1087.7 L1307.5,1087.7 L1309.5,1087.8 L1311.5,1087.9 L1313.5,1088.0 L1315.5,1088.0 L1317.5,1088.1 L1319.5,1088.2 L1321.5,1088.2 L1323.5,1088.3 L1325.5,1088.4 L1327.5,1088.4 L1329.5,1088.5 L1331.5,1088.5 L1333.5,1088.6 L1335.5,1088.6 L1337.5,1088.7 L1339.5,1088.7 L1341.5,1088.8 L1343.5,1088.8 L1345.5,1088.8 L1347.5,1088.9 L1349.5,1088.9 L1351.5,1088.9 L1353.5,1089.0 L1355.5,1089.0 L1357.5,1089.0 L1359.5,1089.1 L1361.5,1089.1 L1363.5,1089.1 L1365.5,1089.2 L1367.5,1089.2 L1369.5,1089.2 L1371.5,1089.2 L1373.5,1089.2 L1375.5,1089.3 L1377.5,1089.3 L1379.5,1089.3 L1381.5,1089.3 L1383.5,1089.3 L1385.5,1089.4 L1387.5,1089.4 L1389.5,1089.4 L1391.5,1089.4 L1393.5,1089.4 L1395.5,1089.4 L1397.5,1089.4 L1399.5,1089.5 L1401.5,1089.5 L1403.5,1089.5 L1405.5,1089.5 L1407.5,1089.5 L1409.5,1089.5 L1411.5,1089.5 L1413.5,1089.5 L1415.5,1089.5 L1417.5,1089.5 L1419.5,1089.6 L1421.5,1089.6 L1423.5,1089.6 L1425.5,1089.6 L1427.5,1089.6 L1429.5,1089.6 L1431.5,1089.6 L1433.5,1089.6 L1435.5,1089.6 L1437.5,1089.6 L1439.5,1089.6 L1441.5,1089.6 L1443.5,1089.6 L1445.5,1089.6 L1447.5,1089.6 L1449.5,1089.6 L1451.5,1089.6 L1453.5,1089.6 L1455.5,1089.6 L1457.5,1089.6 L1459.5,1089.7 L1461.5,1089.7 L1463.5,1089.7 L1465.5,1089.7 L1467.5,1089.7 L1469.5,1089.7 L1471.5,1089.7 L1473.5,1089.7 L1475.5,1089.7 L1477.5,1089.7 L1479.5,1089.7 L1481.5,1089.7 L1483.5,1089.7 L1485.5,1089.7 L1487.5,1089.7 L1489.5,1089.7 L1491.5,1089.7 L1493.5,1089.7 L1495.5,1089.7 L1497.5,1089.7 L1499.5,1089.7 L1501.5,1089.7 L1503.5,1089.7 L1505.5,1089.7 L1507.5,1089.7 L1509.5,1089.7 L1511.5,1089.7 L1513.5,1089.7 L1515.5,1089.7 L1517.5,1089.7 L1519.5,1089.7 L1521.5,1089.7 L1523.5,1089.7 L1525.5,1089.7 L1527.5,1089.7 L1529.5,1089.7 L1531.5,1089.7 L1533.5,1089.7 L1535.5,1089.7 L1537.5,1089.7 L1539.5,1089.7 L1541.5,1089.7 L1543.5,1089.7 L1545.5,1089.7 L1547.5,1089.7 L1549.5,1089.7 L1551.5,1089.7 L1553.5,1089.7 L1555.5,1089.7 L1557.5,1089.7 L1559.5,1089.7 L1561.5,1089.7 L1563.5,1089.7 L1565.5,1089.7 L1567.5,1089.7 L1569.5,1089.7 L1571.5,1089.7 L1573.5,1089.7 L1575.5,1089.7 L1577.5,1089.7 L1579.5,1089.7 L1581.5,1089.7 L1583.5,1089.7 L1585.5,1089.7 L1587.5,1089.7 L1589.5,1089.7 L1591.5,1089.7 L1593.5,1089.7 L1595.5,1089.7 L1597.5,1089.7 L1599.5,1089.7 L1601.5,1089.7 L1603.5,1089.7 L1605.5,1089.7 L1607.5,1089.7 L1609.5,1089.7 L1611.5,1089.7 L1613.5,1089.7 L1615.5,1089.7 L1617.5,1089.7 L1619.5,1089.7 L1621.5,1089.7 L1623.5,1089.7 L1625.5,1089.7 L1627.5,1089.7 L1629.5,1089.7 L1631.5,1089.7 L1633.5,1089.7 L1635.5,1089.7 L1637.5,1089.7 L1639.5,1089.7 L1641.5,1089.7 L1643.5,1089.7 L1645.5,1089.7 L1647.5,1089.7 L1649.5,1089.7 L1651.5,1089.7 L1653.5,1089.7 L1655.5,1089.7 L1657.5,1089.7 L1659.5,1089.7 L1661.5,1089.7 L1663.5,1089.7 L1665.5,1089.7 L1667.5,1089.7 L1669.5,1089.7 L1671.5,1089.7 L1673.5,1089.7 L1675.5,1089.7 L1677.5,1089.7 L1679.5,1089.7 L1681.5,1089.7 L1683.5,1089.7 L1685.5,1089.7 L1687.5,1089.7 L1689.5,1089.7 L1691.5,1089.7 L1693.5,1089.7 L1695.5,1089.7 L1697.5,1089.7 L1699.5,1089.7 L1701.5,1089.7 L1703.5,1089.7 L1705.5,1089.7 L1707.5,1089.7 L1709.5,1089.7 L1711.5,1089.7 L1713.5,1089.7 L1715.5,1089.7 L1717.5,1089.7 L1719.5,1089.7 L1721.5,1089.7 L1723.5,1089.7 L1725.5,1089.7 L1727.5,1089.7 L1729.5,1089.7 L1731.5,1089.7 L1733.5,1089.7 L1735.5,1089.7 L1737.5,1089.7 L1739.5,1089.7 L1741.5,1089.7 L1743.5,1089.7 L1745.5,1089.7 L1747.5,1089.7 L1749.5,1089.7 L1751.5,1089.7 L1753.5,1089.7 L1755.5,1089.7 L1757.5,1089.7 L1759.5,1089.7 L1761.5,1089.7 L1763.5,1089.7 L1765.5,1089.7 L1767.5,1089.7 L1769.5,1089.7 L1771.5,1089.7 L1773.5,1089.7 L1775.5,1089.7 L1777.5,1089.7 L1779.5,1089.7 L1781.5,1089.7 L1783.5,1089.7 L1785.5,1089.7 L1787.5,1089.7 L1789.5,1089.7 L1791.5,1089.7 L1793.5,1089.7 L1795.5,1089.7 L1797.5,1089.7 L1799.5,1089.7 L1801.5,1089.7 L1803.5,1089.7 L1805.5,1089.7 L1807.5,1089.7 L1809.5,1089.7 L1811.5,1089.7 L1813.5,1089.7 L1815.5,1089.7 L1817.5,1089.7 L1819.5,1089.7 L1821.5,1089.7 L1823.5,1089.7 L1825.5,1089.7 L1827.5,1089.7 L1829.5,1089.7 L1831.5,1089.7 L1833.5,1089.7 L1835.5,1089.7 L1837.5,1089.7 L1839.5,1089.7 L1841.5,1089.7 L1843.5,1089.7 L1845.5,1089.7 L1847.5,1089.7 L1849.5,1089.7 L1851.5,1089.7 L1853.5,1089.7 L1855.5,1089.7 L1857.5,1089.7 L1859.5,1089.7 L1861.5,1089.7 L1863.5,1089.7 L1865.5,1089.7 L1867.5,1089.7 L1869.5,1089.7 L1871.5,1089.7 L1873.5,1089.7 L1875.5,1089.7 L1877.5,1089.7 L1879.5,1089.7 L1881.5,1089.7 L1883.5,1089.7 L1885.5,1089.7 L1887.5,1089.7 L1889.5,1089.7 L1891.5,1089.7 L1893.5,1089.7 L1895.5,1089.7 L1897.5,1089.7 L1899.5,1089.7 L1901.5,1089.7 L1903.5,1089.7 L1905.5,1089.7 L1907.5,1089.7 L1909.5,1089.7 L1911.5,1089.7 L1913.5,1089.7 L1915.5,1089.7 L1917.5,1089.7 L1919.5,1089.7 L1921.5,1089.7 L1923.5,1089.7 L1925.5,1089.7 L1927.5,1089.7 L1929.5,1089.7 L1931.5,1089.7 L1933.5,1089.7 L1935.5,1089.7 L1937.5,1089.7 L1939.5,1089.7 L1941.5,1089.7 L1943.5,1089.7 L1945.5,1089.7 L1947.5,1089.7 L1949.5,1089.7 L1951.5,1089.7 L1953.5,1089.7 L1955.5,1089.7 L1957.5,1089.7 L1959.5,1089.7 L1961.5,1089.7 L1963.5,1089.7 L1965.5,1089.7 L1967.5,1089.7 L1969.5,1089.7 L1971.5,1089.7 L1973.5,1089.7 L1975.5,1089.7 L1977.5,1089.7 L1979.5,1089.7 L1981.5,1089.7 L1983.5,1089.7 L1985.5,1089.7 L1987.5,1089.7 L1989.5,1089.7 L1991.5,1089.7 L1993.5,1089.7 L1995.5,1089.7 L1997.5,1089.7 L1998.5,1089.7" fill="none" stroke="#ff0000" stroke-width="5.0" stroke-linejoin="round"/>
<path d="M199.5,1089.7 L201.5,1089.7 L203.5,1089.7 L205.5,1089.7 L207.5,1089.7 L209.5,1089.7 L211.5,1089.7 L213.5,1089.7 L215.5,1089.7 L217.5,1089.7 L219.5,1089.7 L221.5,1089.7 L223.5,1089.7 L225.5,1089.7 L227.5,1089.7 L229.5,1089.7 L231.5,1089.7 L233.5,1089.7 L235.5,1089.7 L237.5,1089.7 L239.5,1089.7 L241.5,1089.7 L243.5,1089.7 L245.5,1089.7 L247.5,1089.7 L249.5,1089.7 L251.5,1089.7 L253.5,1089.7 L255.5,1089.7 L257.5,1089.7 L259.5,1089.7 L261.5,1089.7 L263.5,1089.7 L265.5,1089.7 L267.5,1089.7 L269.5,1089.7 L271.5,1089.7 L273.5,1089.7 L275.5,1089.7 L277.5,1089.7 L279.5,1089.7 L281.5,1089.7 L283.5,1089.7 L285.5,1089.7 L287.5,1089.7 L289.5,1089.7 L291.5,1089.7 L293.5,1089.7 L295.5,1089.7 L297.5,1089.7 L299.5,1089.7 L301.5,1089.7 L303.5,1089.7 L305.5,1089.7 L307.5,1089.7 L309.5,1089.7 L311.5,1089.7 L313.5,1089.7 L315.5,1089.7 L317.5,1089.7 L319.5,1089.7 L321.5,1089.7 L323.5,1089.7 L325.5,1089.7 L327.5,1089.7 L329.5,1089.7 L331.5,1089.7 L333.5,1089.7 L335.5,1089.7 L337.5,1089.7 L339.5,1089.7 L341.5,1089.7 L343.5,1089.7 L345.5,1089.7 L347.5,1089.7 L349.5,1089.7 L351.5,1089.7 L353.5,1089.7 L355.5,1089.7 L357.5,1089.7 L359.5,1089.7 L361.5,1089.7 L363.5,1089.7 L365.5,1089.7 L367.5,1089.7 L369.5,1089.7 L371.5,1089.7 L373.5,1089.7 L375.5,1089.7 L377.5,1089.7 L379.5,1089.7 L381.5,1089.7 L383.5,1089.7 L385.5,1089.7 L387.5,1089.7 L389.5,1089.7 L391.5,1089.7 L393.5,1089.7 L395.5,1089.7 L397.5,1089.7 L399.5,1089.7 L401.5,1089.7 L403.5,1089.7 L405.5,1089.7 L407.5,1089.7 L409.5,1089.7 L411.5,1089.7 L413.5,1089.7 L415.5,1089.7 L417.5,1089.7 L419.5,1089.7 L421.5,1089.7 L423.5,1089.7 L425.5,1089.7 L427.5,1089.7 L429.5,1089.7 L431.5,1089.7 L433.5,1089.7 L435.5,1089.7 L437.5,1089.7 L439.5,1089.7 L441.5,1089.7 L443.5,1089.7 L445.5,1089.7 L447.5,1089.7 L449.5,1089.7 L451.5,1089.6 L453.5,1089.6 L455.5,1089.6 L457.5,1089.6 L459.5,1089.6 L461.5,1089.6 L463.5,1089.6 L465.5,1089.6 L467.5,1089.6 L469.5,1089.6 L471.5,1089.6 L473.5,1089.6 L475.5,1089.6 L477.5,1089.6 L479.5,1089.6 L481.5,1089.6 L483.5,1089.6 L485.5,1089.6 L487.5,1089.6 L489.5,1089.6 L491.5,1089.5 L493.5,1089.5 L495.5,1089.5 L497.5,1089.5 L499.5,1089.5 L501.5,1089.5 L503.5,1089.5 L505.5,1089.5 L507.5,1089.5 L509.5,1089.5 L511.5,1089.4 L513.5,1089.4 L515.5,1089.4 L517.5,1089.4 L519.5,1089.4 L521.5,1089.4 L523.5,1089.4 L525.5,1089.3 L527.5,1089.3 L529.5,1089.3 L531.5,1089.3 L533.5,1089.3 L535.5,1089.2 L537.5,1089.2 L539.5,1089.2 L541.5,1089.2 L543.5,1089.2 L545.5,1089.1 L547.5,1089.1 L549.5,1089.1 L551.5,1089.0 L553.5,1089.0 L555.5,1089.0 L557.5,1088.9 L559.5,1088.9 L561.5,1088.9 L563.5,1088.8 L565.5,1088.8 L567.5,1088.8 L569.5,1088.7 L571.5,1088.7 L573.5,1088.6 L575.5,1088.6 L577.5,1088.5 L579.5,1088.5 L581.5,1088.4 L583.5,1088.4 L585.5,1088.3 L587.5,1088.2 L589.5,1088.2 L591.5,1088.1 L593.5,1088.0 L595.5,1088.0 L597.5,1087.9 L599.5,1087.8 L601.5,1087.7 L603.5,1087.7 L605.5,1087.6 L607.5,1087.5 L609.5,1087.4 L611.5,1087.3 L613.5,1087.2 L615.5,1087.1 L617.5,1087.0 L619.5,1086.9 L621.5,1086.8 L623.5,1086.7 L625.5,1086.6 L627.5,1086.4 L629.5,1086.3 L631.5,1086.2 L633.5,1086.0 L635.5,1085.9 L637.5,1085.8 L639.5,1085.6 L641.5,1085.4 L643.5,1085.3 L645.5,1085.1 L647.5,1085.0 L649.5,1084.8 L651.5,1084.6 L653.5,1084.4 L655.5,1084.2 L657.5,1084.0 L659.5,1083.8 L661.5,1083.6 L663.5,1083.4 L665.5,1083.2 L667.5,1082.9 L669.5,1082.7 L671.5,1082.5 L673.5,1082.2 L675.5,1082.0 L677.5,1081.7 L679.5,1081.4 L681.5,1081.2 L683.5,1080.9 L685.5,1080.6 L687.5,1080.3 L689.5,1080.0 L691.5,1079.7 L693.5,1079.3 L695.5,1079.0 L697.5,1078.7 L699.5,1078.3 L701.5,1078.0 L703.5,1077.6 L705.5,1077.2 L707.5,1076.8 L709.5,1076.4 L711.5,1076.0 L713.5,1075.6 L715.5,1075.2 L717.5,1074.8 L719.5,1074.3 L721.5,1073.9 L723.5,1073.4 L725.5,1072.9 L727.5,1072.5 L729.5,1072.0 L731.5,1071.5 L733.5,1070.9 L735.5,1070.4 L737.5,1069.9 L739.5,1069.3 L741.5,1068.8 L743.5,1068.2 L745.5,1067.6 L747.5,1067.1 L749.5,1066.5 L751.5,1065.9 L753.5,1065.2 L755.5,1064.6 L757.5,1064.0 L759.5,1063.3 L761.5,1062.6 L763.5,1062.0 L765.5,1061.3 L767.5,1060.6 L769.5,1059.9 L771.5,1059.2 L773.5,1058.4 L775.5,1057.7 L777.5,1056.9 L779.5,1056.2 L781.5,1055.4 L783.5,1054.6 L785.5,1053.8 L787.5,1053.0 L789.5,1052.2 L791.5,1051.3 L793.5,1050.5 L795.5,1049.7 L797.5,1048.8 L799.5,1047.9 L801.5,1047.1 L803.5,1046.2 L805.5,1045.3 L807.5,1044.4 L809.5,1043.4 L811.5,1042.5 L813.5,1041.6 L815.5,1040.6 L817.5,1039.7 L819.5,1038.7 L821.5,1037.8 L823.5,1036.8 L825.5,1035.8 L827.5,1034.8 L829.5,1033.8 L831.5,1032.8 L833.5,1031.8 L835.5,1030.8 L837.5,1029.8 L839.5,1028.8 L841.5,1027.7 L843.5,1026.7 L845.5,1025.6 L847.5,1024.6 L849.5,1023.6 L851.5,1022.5 L853.5,1021.5 L855.5,1020.4 L857.5,1019.3 L859.5,1018.3 L861.5,1017.2 L863.5,1016.2 L865.5,1015.1 L867.5,1014.0 L869.5,1013.0 L871.5,1011.9 L873.5,1010.9 L875.5,1009.8 L877.5,1008.7 L879.5,1007.7 L881.5,1006.6 L883.5,1005.6 L885.5,1004.6 L887.5,1003.5 L889.5,1002.5 L891.5,1001.5 L893.5,1000.4 L895.5,999.4 L897.5,998.4 L899.5,997.4 L901.5,996.4 L903.5,995.4 L905.5,994.5 L907.5,993.5 L909.5,992.5 L911.5,991.6 L913.5,990.7 L915.5,989.7 L917.5,988.8 L919.5,987.9 L921.5,987.0 L923.5,986.2 L925.5,985.3 L927.5,984.5 L929.5,983.6 L931.5,982.8 L933.5,982.0 L935.5,981.2 L937.5,980.5 L939.5,979.7 L941.5,979.0 L943.5,978.3 L945.5,977.6 L947.5,976.9 L949.5,976.3 L951.5,975.6 L953.5,975.0 L955.5,974.4 L957.5,973.8 L959.5,973.3 L961.5,972.7 L963.5,972.2 L965.5,971.7 L967.5,971.2 L969.5,970.8 L971.5,970.4 L973.5,969.9 L975.5,969.6 L977.5,969.2 L979.5,968.9 L981.5,968.6 L983.5,968.3 L985.5,968.0 L987.5,967.8 L989.5,967.5 L991.5,967.4 L993.5,967.2 L995.5,967.0 L997.5,966.9 L999.5,966.8 L1001.5,966.8 L1003.5,966.7 L1005.5,966.7 L1007.5,966.7 L1009.5,966.7 L1011.5,966.8 L1013.5,966.9 L1015.5,967.0 L1017.5,967.1 L1019.5,967.3 L1021.5,967.4 L1023.5,967.7 L1025.5,967.9 L1027.5,968.1 L1029.5,968.4 L1031.5,968.7 L1033.5,969.0 L1035.5,969.4 L1037.5,969.8 L1039.5,970.1 L1041.5,970.6 L1043.5,971.0 L1045.5,971.5 L1047.5,972.0 L1049.5,972.5 L1051.5,973.0 L1053.5,973.5 L1055.5,974.1 L1057.5,974.7 L1059.5,975.3 L1061.5,975.9 L1063.5,976.6 L1065.5,977.2 L1067.5,977.9 L1069.5,978.6 L1071.5,979.4 L1073.5,980.1 L1075.5,980.9 L1077.5,981.6 L1079.5,982.4 L1081.5,983.2 L1083.5,984.1 L1085.5,984.9 L1087.5,985.7 L1089.5,986.6 L1091.5,987.5 L1093.5,988.4 L1095.5,989.3 L1097.5,990.2 L1099.5,991.1 L1101.5,992.1 L1103.5,993.0 L1105.5,994.0 L1107.5,995.0 L1109.5,995.9 L1111.5,996.9 L1113.5,997.9 L1115.5,998.9 L1117.5,999.9 L1119.5,1000.9 L1121.5,1002.0 L1123.5,1003.0 L1125.5,1004.0 L1127.5,1005.1 L1129.5,1006.1 L1131.5,1007.2 L1133.5,1008.2 L1135.5,1009.3 L1137.5,1010.3 L1139.5,1011.4 L1141.5,1012.4 L1143.5,1013.5 L1145.5,1014.6 L1147.5,1015.6 L1149.5,1016.7 L1151.5,1017.8 L1153.5,1018.8 L1155.5,1019.9 L1157.5,1020.9 L1159.5,1022.0 L1161.5,1023.0 L1163.5,1024.1 L1165.5,1025.1 L1167.5,1026.2 L1169.5,1027.2 L1171.5,1028.2 L1173.5,1029.3 L1175.5,1030.3 L1177.5,1031.3 L1179.5,1032.3 L1181.5,1033.3 L1183.5,1034.3 L1185.5,1035.3 L1187.5,1036.3 L1189.5,1037.3 L1191.5,1038.3 L1193.5,1039.2 L1195.5,1040.2 L1197.5,1041.1 L1199.5,1042.1 L1201.5,1043.0 L1203.5,1043.9 L1205.5,1044.8 L1207.5,1045.7 L1209.5,1046.6 L1211.5,1047.5 L1213.5,1048.4 L1215.5,1049.2 L1217.5,1050.1 L1219.5,1050.9 L1221.5,1051.8 L1223.5,1052.6 L1225.5,1053.4 L1227.5,1054.2 L1229.5,1055.0 L1231.5,1055.8 L1233.5,1056.5 L1235.5,1057.3 L1237.5,1058.0 L1239.5,1058.8 L1241.5,1059.5 L1243.5,1060.2 L1245.5,1060.9 L1247.5,1061.6 L1249.5,1062.3 L1251.5,1063.0 L1253.5,1063.6 L1255.5,1064.3 L1257.5,1064.9 L1259.5,1065.5 L1261.5,1066.2 L1263.5,1066.8 L1265.5,1067.4 L1267.5,1067.9 L1269.5,1068.5 L1271.5,1069.1 L1273.5,1069.6 L1275.5,1070.2 L1277.5,1070.7 L1279.5,1071.2 L1281.5,1071.7 L1283.5,1072.2 L1285.5,1072.7 L1287.5,1073.2 L1289.5,1073.6 L1291.5,1074.1 L1293.5,1074.5 L1295.5,1075.0 L1297.5,1075.4 L1299.5,1075.8 L1301.5,1076.2 L1303.5,1076.6 L1305.5,1077.0 L1307.5,1077.4 L1309.5,1077.8 L1311.5,1078.1 L1313.5,1078.5 L1315.5,1078.8 L1317.5,1079.2 L1319.5,1079.5 L1321.5,1079.8 L1323.5,1080.1 L1325.5,1080.4 L1327.5,1080.7 L1329.5,1081.0 L1331.5,1081.3 L1333.5,1081.6 L1335.5,1081.8 L1337.5,1082.1 L1339.5,1082.3 L1341.5,1082.6 L1343.5,1082.8 L1345.5,1083.1 L1347.5,1083.3 L1349.5,1083.5 L1351.5,1083.7 L1353.5,1083.9 L1355.5,1084.1 L1357.5,1084.3 L1359.5,1084.5 L1361.5,1084.7 L1363.5,1084.9 L1365.5,1085.0 L1367.5,1085.2 L1369.5,1085.4 L1371.5,1085.5 L1373.5,1085.7 L1375.5,1085.8 L1377.5,1086.0 L1379.5,1086.1 L1381.5,1086.2 L1383.5,1086.4 L1385.5,1086.5 L1387.5,1086.6 L1389.5,1086.7 L1391.5,1086.8 L1393.5,1087.0 L1395.5,1087.1 L1397.5,1087.2 L1399.5,1087.3 L1401.5,1087.4 L1403.5,1087.5 L1405.5,1087.5 L1407.5,1087.6 L1409.5,1087.7 L1411.5,1087.8 L1413.5,1087.9 L1415.5,1087.9 L1417.5,1088.0 L1419.5,1088.1 L1421.5,1088.1 L1423.5,1088.2 L1425.5,1088.3 L1427.5,1088.3 L1429.5,1088.4 L1431.5,1088.4 L1433.5,1088.5 L1435.5,1088.6 L1437.5,1088.6 L1439.5,1088.6 L1441.5,1088.7 L1443.5,1088.7 L1445.5,1088.8 L1447.5,1088.8 L1449.5,1088.9 L1451.5,1088.9 L1453.5,1088.9 L1455.5,1089.0 L1457.5,1089.0 L1459.5,1089.0 L1461.5,1089.1 L1463.5,1089.1 L1465.5,1089.1 L1467.5,1089.1 L1469.5,1089.2 L1471.5,1089.2 L1473.5,1089.2 L1475.5,1089.2 L1477.5,1089.3 L1479.5,1089.3 L1481.5,1089.3 L1483.5,1089.3 L1485.5,1089.3 L1487.5,1089.4 L1489.5,1089.4 L1491.5,1089.4 L1493.5,1089.4 L1495.5,1089.4 L1497.5,1089.4 L1499.5,1089.4 L1501.5,1089.5 L1503.5,1089.5 L1505.5,1089.5 L1507.5,1089.5 L1509.5,1089.5 L1511.5,1089.5 L1513.5,1089.5 L1515.5,1089.5 L1517.5,1089.5 L1519.5,1089.5 L1521.5,1089.6 L1523.5,1089.6 L1525.5,1089.6 L1527.5,1089.6 L1529.5,1089.6 L1531.5,1089.6 L1533.5,1089.6 L1535.5,1089.6 L1537.5,1089.6 L1539.5,1089.6 L1541.5,1089.6 L1543.5,1089.6 L1545.5,1089.6 L1547.5,1089.6 L1549.5,1089.6 L1551.5,1089.6 L1553.5,1089.6 L1555.5,1089.6 L1557.5,1089.6 L1559.5,1089.6 L1561.5,1089.7 L1563.5,1089.7 L1565.5,1089.7 L1567.5,1089.7 L1569.5,1089.7 L1571.5,1089.7 L1573.5,1089.7 L1575.5,1089.7 L1577.5,1089.7 L1579.5,1089.7 L1581.5,1089.7 L1583.5,1089.7 L1585.5,1089.7 L1587.5,1089.7 L1589.5,1089.7 L1591.5,1089.7 L1593.5,1089.7 L1595.5,1089.7 L1597.5,1089.7 L1599.5,1089.7 L1601.5,1089.7 L1603.5,1089.7 L1605.5,1089.7 L1607.5,1089.7 L1609.5,1089.7 L1611.5,1089.7 L1613.5,1089.7 L1615.5,1089.7 L1617.5,1089.7 L1619.5,1089.7 L1621.5,1089.7 L1623.5,1089.7 L1625.5,1089.7 L1627.5,1089.7 L1629.5,1089.7 L1631.5,1089.7 L1633.5,1089.7 L1635.5,1089.7 L1637.5,1089.7 L1639.5,1089.7 L1641.5,1089.7 L1643.5,1089.7 L1645.5,1089.7 L1647.5,1089.7 L1649.5,1089.7 L1651.5,1089.7 L1653.5,1089.7 L1655.5,1089.7 L1657.5,1089.7 L1659.5,1089.7 L1661.5,1089.7 L1663.5,1089.7 L1665.5,1089.7 L1667.5,1089.7 L1669.5,1089.7 L1671.5,1089.7 L1673.5,1089.7 L1675.5,1089.7 L1677.5,1089.7 L1679.5,1089.7 L1681.5,1089.7 L1683.5,1089.7 L1685.5,1089.7 L1687.5,1089.7 L1689.5,1089.7 L1691.5,1089.7 L1693.5,1089.7 L1695.5,1089.7 L1697.5,1089.7 L1699.5,1089.7 L1701.5,1089.7 L1703.5,1089.7 L1705.5,1089.7 L1707.5,1089.7 L1709.5,1089.7 L1711.5,1089.7 L1713.5,1089.7 L1715.5,1089.7 L1717.5,1089.7 L1719.5,1089.7 L1721.5,1089.7 L1723.5,1089.7 L1725.5,1089.7 L1727.5,1089.7 L1729.5,1089.7 L1731.5,1089.7 L1733.5,1089.7 L1735.5,1089.7 L1737.5,1089.7 L1739.5,1089.7 L1741.5,1089.7 L1743.5,1089.7 L1745.5,1089.7 L1747.5,1089.7 L1749.5,1089.7 L1751.5,1089.7 L1753.5,1089.7 L1755.5,1089.7 L1757.5,1089.7 L1759.5,1089.7 L1761.5,1089.7 L1763.5,1089.7 L1765.5,1089.7 L1767.5,1089.7 L1769.5,1089.7 L1771.5,1089.7 L1773.5,1089.7 L1775.5,1089.7 L1777.5,1089.7 L1779.5,1089.7 L1781.5,1089.7 L1783.5,1089.7 L1785.5,1089.7 L1787.5,1089.7 L1789.5,1089.7 L1791.5,1089.7 L1793.5,1089.7 L1795.5,1089.7 L1797.5,1089.7 L1799.5,1089.7 L1801.5,1089.7 L1803.5,1089.7 L1805.5,1089.7 L1807.5,1089.7 L1809.5,1089.7 L1811.5,1089.7 L1813.5,1089.7 L1815.5,1089.7 L1817.5,1089.7 L1819.5,1089.7 L1821.5,1089.7 L1823.5,1089.7 L1825.5,1089.7 L1827.5,1089.7 L1829.5,1089.7 L1831.5,1089.7 L1833.5,1089.7 L1835.5,1089.7 L1837.5,1089.7 L1839.5,1089.7 L1841.5,1089.7 L1843.5,1089.7 L1845.5,1089.7 L1847.5,1089.7 L1849.5,1089.7 L1851.5,1089.7 L1853.5,1089.7 L1855.5,1089.7 L1857.5,1089.7 L1859.5,1089.7 L1861.5,1089.7 L1863.5,1089.7 L1865.5,1089.7 L1867.5,1089.7 L1869.5,1089.7 L1871.5,1089.7 L1873.5,1089.7 L1875.5,1089.7 L1877.5,1089.7 L1879.5,1089.7 L1881.5,1089.7 L1883.5,1089.7 L1885.5,1089.7 L1887.5,1089.7 L1889.5,1089.7 L1891.5,1089.7 L1893.5,1089.7 L1895.5,1089.7 L1897.5,1089.7 L1899.5,1089.7 L1901.5,1089.7 L1903.5,1089.7 L1905.5,1089.7 L1907.5,1089.7 L1909.5,1089.7 L1911.5,1089.7 L1913.5,1089.7 L1915.5,1089.7 L1917.5,1089.7 L1919.5,1089.7 L1921.5,1089.7 L1923.5,1089.7 L1925.5,1089.7 L1927.5,1089.7 L1929.5,1089.7 L1931.5,1089.7 L1933.5,1089.7 L1935.5,1089.7 L1937.5,1089.7 L1939.5,1089.7 L1941.5,1089.7 L1943.5,1089.7 L1945.5,1089.7 L1947.5,1089.7 L1949.5,1089.7 L1951.5,1089.7 L1953.5,1089.7 L1955.5,1089.7 L1957.5,1089.7 L1959.5,1089.7 L1961.5,1089.7 L1963.5,1089.7 L1965.5,1089.7 L1967.5,1089.7 L1969.5,1089.7 L1971.5,1089.7 L1973.5,1089.7 L1975.5,1089.7 L1977.5,1089.7 L1979.5,1089.7 L1981.5,1089.7 L1983.5,1089.7 L1985.5,1089.7 L1987.5,1089.7 L1989.5,1089.7 L1991.5,1089.7 L1993.5,1089.7 L1995.5,1089.7 L1997.5,1089.7 L1998.5,1089.7" fill="none" stroke="#ff0000" stroke-width="2.8" stroke-linejoin="round"/>
<path d="M199.5,1089.7 L201.5,1089.7 L203.5,1089.7 L205.5,1089.7 L207.5,1089.7 L209.5,1089.7 L211.5,1089.7 L213.5,1089.7 L215.5,1089.7 L217.5,1089.7 L219.5,1089.7 L221.5,1089.7 L223.5,1089.7 L225.5,1089.7 L227.5,1089.7 L229.5,1089.7 L231.5,1089.7 L233.5,1089.7 L235.5,1089.7 L237.5,1089.7 L239.5,1089.7 L241.5,1089.7 L243.5,1089.7 L245.5,1089.7 L247.5,1089.7 L249.5,1089.7 L251.5,1089.7 L253.5,1089.7 L255.5,1089.7 L257.5,1089.7 L259.5,1089.7 L261.5,1089.7 L263.5,1089.7 L265.5,1089.7 L267.5,1089.7 L269.5,1089.7 L271.5,1089.7 L273.5,1089.7 L275.5,1089.7 L277.5,1089.7 L279.5,1089.7 L281.5,1089.7 L283.5,1089.7 L285.5,1089.7 L287.5,1089.7 L289.5,1089.7 L291.5,1089.7 L293.5,1089.7 L295.5,1089.7 L297.5,1089.7 L299.5,1089.7 L301.5,1089.7 L303.5,1089.7 L305.5,1089.7 L307.5,1089.7 L309.5,1089.7 L311.5,1089.7 L313.5,1089.7 L315.5,1089.7 L317.5,1089.7 L319.5,1089.7 L321.5,1089.7 L323.5,1089.7 L325.5,1089.7 L327.5,1089.7 L329.5,1089.7 L331.5,1089.7 L333.5,1089.7 L335.5,1089.7 L337.5,1089.7 L339.5,1089.7 L341.5,1089.7 L343.5,1089.7 L345.5,1089.7 L347.5,1089.7 L349.5,1089.7 L351.5,1089.7 L353.5,1089.7 L355.5,1089.7 L357.5,1089.7 L359.5,1089.7 L361.5,1089.7 L363.5,1089.7 L365.5,1089.7 L367.5,1089.7 L369.5,1089.7 L371.5,1089.7 L373.5,1089.7 L375.5,1089.7 L377.5,1089.7 L379.5,1089.7 L381.5,1089.7 L383.5,1089.7 L385.5,1089.7 L387.5,1089.7 L389.5,1089.7 L391.5,1089.7 L393.5,1089.7 L395.5,1089.7 L397.5,1089.7 L399.5,1089.7 L401.5,1089.7 L403.5,1089.7 L405.5,1089.7 L407.5,1089.7 L409.5,1089.7 L411.5,1089.7 L413.5,1089.7 L415.5,1089.7 L417.5,1089.7 L419.5,1089.7 L421.5,1089.7 L423.5,1089.7 L425.5,1089.7 L427.5,1089.7 L429.5,1089.7 L431.5,1089.7 L433.5,1089.7 L435.5,1089.7 L437.5,1089.7 L439.5,1089.7 L441.5,1089.7 L443.5,1089.7 L445.5,1089.7 L447.5,1089.7 L449.5,1089.7 L451.5,1089.7 L453.5,1089.7 L455.5,1089.7 L457.5,1089.7 L459.5,1089.7 L461.5,1089.7 L463.5,1089.7 L465.5,1089.7 L467.5,1089.7 L469.5,1089.7 L471.5,1089.7 L473.5,1089.7 L475.5,1089.7 L477.5,1089.7 L479.5,1089.7 L481.5,1089.7 L483.5,1089.7 L485.5,1089.7 L487.5,1089.7 L489.5,1089.7 L491.5,1089.6 L493.5,1089.6 L495.5,1089.6 L497.5,1089.6 L499.5,1089.6 L501.5,1089.6 L503.5,1089.6 L505.5,1089.6 L507.5,1089.6 L509.5,1089.6 L511.5,1089.6 L513.5,1089.6 L515.5,1089.6 L517.5,1089.6 L519.5,1089.6 L521.5,1089.6 L523.5,1089.6 L525.5,1089.6 L527.5,1089.6 L529.5,1089.5 L531.5,1089.5 L533.5,1089.5 L535.5,1089.5 L537.5,1089.5 L539.5,1089.5 L541.5,1089.5 L543.5,1089.5 L545.5,1089.5 L547.5,1089.4 L549.5,1089.4 L551.5,1089.4 L553.5,1089.4 L555.5,1089.4 L557.5,1089.4 L559.5,1089.4 L561.5,1089.3 L563.5,1089.3 L565.5,1089.3 L567.5,1089.3 L569.5,1089.3 L571.5,1089.2 L573.5,1089.2 L575.5,1089.2 L577.5,1089.2 L579.5,1089.1 L581.5,1089.1 L583.5,1089.1 L585.5,1089.0 L587.5,1089.0 L589.5,1089.0 L591.5,1088.9 L593.5,1088.9 L595.5,1088.8 L597.5,1088.8 L599.5,1088.8 L601.5,1088.7 L603.5,1088.7 L605.5,1088.6 L607.5,1088.6 L609.5,1088.5 L611.5,1088.5 L613.5,1088.4 L615.5,1088.3 L617.5,1088.3 L619.5,1088.2 L621.5,1088.1 L623.5,1088.1 L625.5,1088.0 L627.5,1087.9 L629.5,1087.8 L631.5,1087.7 L633.5,1087.6 L635.5,1087.5 L637.5,1087.4 L639.5,1087.3 L641.5,1087.2 L643.5,1087.1 L645.5,1087.0 L647.5,1086.9 L649.5,1086.8 L651.5,1086.6 L653.5,1086.5 L655.5,1086.4 L657.5,1086.2 L659.5,1086.1 L661.5,1085.9 L663.5,1085.7 L665.5,1085.6 L667.5,1085.4 L669.5,1085.2 L671.5,1085.0 L673.5,1084.8 L675.5,1084.6 L677.5,1084.4 L679.5,1084.2 L681.5,1084.0 L683.5,1083.7 L685.5,1083.5 L687.5,1083.2 L689.5,1083.0 L691.5,1082.7 L693.5,1082.4 L695.5,1082.1 L697.5,1081.8 L699.5,1081.5 L701.5,1081.2 L703.5,1080.9 L705.5,1080.6 L707.5,1080.2 L709.5,1079.8 L711.5,1079.5 L713.5,1079.1 L715.5,1078.7 L717.5,1078.3 L719.5,1077.8 L721.5,1077.4 L723.5,1076.9 L725.5,1076.5 L727.5,1076.0 L729.5,1075.5 L731.5,1075.0 L733.5,1074.5 L735.5,1073.9 L737.5,1073.4 L739.5,1072.8 L741.5,1072.2 L743.5,1071.6 L745.5,1071.0 L747.5,1070.3 L749.5,1069.7 L751.5,1069.0 L753.5,1068.3 L755.5,1067.6 L757.5,1066.8 L759.5,1066.1 L761.5,1065.3 L763.5,1064.5 L765.5,1063.7 L767.5,1062.8 L769.5,1062.0 L771.5,1061.1 L773.5,1060.2 L775.5,1059.2 L777.5,1058.3 L779.5,1057.3 L781.5,1056.3 L783.5,1055.3 L785.5,1054.2 L787.5,1053.1 L789.5,1052.0 L791.5,1050.9 L793.5,1049.8 L795.5,1048.6 L797.5,1047.4 L799.5,1046.1 L801.5,1044.9 L803.5,1043.6 L805.5,1042.3 L807.5,1040.9 L809.5,1039.6 L811.5,1038.2 L813.5,1036.7 L815.5,1035.3 L817.5,1033.8 L819.5,1032.3 L821.5,1030.7 L823.5,1029.2 L825.5,1027.6 L827.5,1025.9 L829.5,1024.3 L831.5,1022.6 L833.5,1020.8 L835.5,1019.1 L837.5,1017.3 L839.5,1015.5 L841.5,1013.6 L843.5,1011.8 L845.5,1009.8 L847.5,1007.9 L849.5,1005.9 L851.5,1003.9 L853.5,1001.9 L855.5,999.8 L857.5,997.7 L859.5,995.6 L861.5,993.5 L863.5,991.3 L865.5,989.1 L867.5,986.8 L869.5,984.5 L871.5,982.2 L873.5,979.9 L875.5,977.6 L877.5,975.2 L879.5,972.7 L881.5,970.3 L883.5,967.8 L885.5,965.3 L887.5,962.8 L889.5,960.3 L891.5,957.7 L893.5,955.1 L895.5,952.5 L897.5,949.8 L899.5,947.1 L901.5,944.4 L903.5,941.7 L905.5,939.0 L907.5,936.2 L909.5,933.4 L911.5,930.6 L913.5,927.8 L915.5,925.0 L917.5,922.1 L919.5,919.3 L921.5,916.4 L923.5,913.5 L925.5,910.6 L927.5,907.7 L929.5,904.7 L931.5,901.8 L933.5,898.8 L935.5,895.9 L937.5,892.9 L939.5,889.9 L941.5,886.9 L943.5,883.9 L945.5,881.0 L947.5,878.0 L949.5,875.0 L951.5,872.0 L953.5,869.0 L955.5,866.0 L957.5,863.0 L959.5,860.0 L961.5,857.1 L963.5,854.1 L965.5,851.1 L967.5,848.2 L969.5,845.3 L971.5,842.3 L973.5,839.4 L975.5,836.5 L977.5,833.7 L979.5,830.8 L981.5,828.0 L983.5,825.1 L985.5,822.3 L987.5,819.6 L989.5,816.8 L991.5,814.1 L993.5,811.4 L995.5,808.7 L997.5,806.1 L999.5,803.5 L1001.5,800.9 L1003.5,798.4 L1005.5,795.9 L1007.5,793.4 L1009.5,791.0 L1011.5,788.6 L1013.5,786.2 L1015.5,783.9 L1017.5,781.7 L1019.5,779.4 L1021.5,777.3 L1023.5,775.1 L1025.5,773.1 L1027.5,771.0 L1029.5,769.0 L1031.5,767.1 L1033.5,765.2 L1035.5,763.4 L1037.5,761.6 L1039.5,759.9 L1041.5,758.2 L1043.5,756.6 L1045.5,755.1 L1047.5,753.6 L1049.5,752.1 L1051.5,750.8 L1053.5,749.5 L1055.5,748.2 L1057.5,747.0 L1059.5,745.9 L1061.5,744.8 L1063.5,743.8 L1065.5,742.9 L1067.5,742.0 L1069.5,741.2 L1071.5,740.5 L1073.5,739.8 L1075.5,739.2 L1077.5,738.7 L1079.5,738.2 L1081.5,737.8 L1083.5,737.5 L1085.5,737.3 L1087.5,737.1 L1089.5,737.0 L1091.5,736.9 L1093.5,736.9 L1095.5,737.0 L1097.5,737.2 L1099.5,737.4 L1101.5,737.7 L1103.5,738.0 L1105.5,738.5 L1107.5,739.0 L1109.5,739.5 L1111.5,740.2 L1113.5,740.9 L1115.5,741.6 L1117.5,742.5 L1119.5,743.4 L1121.5,744.3 L1123.5,745.4 L1125.5,746.4 L1127.5,747.6 L1129.5,748.8 L1131.5,750.1 L1133.5,751.4 L1135.5,752.9 L1137.5,754.3 L1139.5,755.8 L1141.5,757.4 L1143.5,759.1 L1145.5,760.7 L1147.5,762.5 L1149.5,764.3 L1151.5,766.2 L1153.5,768.1 L1155.5,770.0 L1157.5,772.0 L1159.5,774.1 L1161.5,776.2 L1163.5,778.4 L1165.5,780.6 L1167.5,782.8 L1169.5,785.1 L1171.5,787.4 L1173.5,789.8 L1175.5,792.2 L1177.5,794.6 L1179.5,797.1 L1181.5,799.7 L1183.5,802.2 L1185.5,804.8 L1187.5,807.4 L1189.5,810.1 L1191.5,812.8 L1193.5,815.5 L1195.5,818.2 L1197.5,821.0 L1199.5,823.7 L1201.5,826.5 L1203.5,829.4 L1205.5,832.2 L1207.5,835.1 L1209.5,838.0 L1211.5,840.9 L1213.5,843.8 L1215.5,846.7 L1217.5,849.7 L1219.5,852.6 L1221.5,855.6 L1223.5,858.5 L1225.5,861.5 L1227.5,864.5 L1229.5,867.5 L1231.5,870.5 L1233.5,873.5 L1235.5,876.5 L1237.5,879.5 L1239.5,882.4 L1241.5,885.4 L1243.5,888.4 L1245.5,891.4 L1247.5,894.4 L1249.5,897.3 L1251.5,900.3 L1253.5,903.3 L1255.5,906.2 L1257.5,909.1 L1259.5,912.0 L1261.5,914.9 L1263.5,917.8 L1265.5,920.7 L1267.5,923.6 L1269.5,926.4 L1271.5,929.2 L1273.5,932.0 L1275.5,934.8 L1277.5,937.6 L1279.5,940.3 L1281.5,943.1 L1283.5,945.8 L1285.5,948.5 L1287.5,951.1 L1289.5,953.8 L1291.5,956.4 L1293.5,959.0 L1295.5,961.5 L1297.5,964.1 L1299.5,966.6 L1301.5,969.1 L1303.5,971.5 L1305.5,974.0 L1307.5,976.4 L1309.5,978.7 L1311.5,981.1 L1313.5,983.4 L1315.5,985.7 L1317.5,987.9 L1319.5,990.2 L1321.5,992.4 L1323.5,994.5 L1325.5,996.7 L1327.5,998.8 L1329.5,1000.9 L1331.5,1002.9 L1333.5,1004.9 L1335.5,1006.9 L1337.5,1008.9 L1339.5,1010.8 L1341.5,1012.7 L1343.5,1014.6 L1345.5,1016.4 L1347.5,1018.2 L1349.5,1020.0 L1351.5,1021.7 L1353.5,1023.4 L1355.5,1025.1 L1357.5,1026.8 L1359.5,1028.4 L1361.5,1030.0 L1363.5,1031.5 L1365.5,1033.0 L1367.5,1034.5 L1369.5,1036.0 L1371.5,1037.5 L1373.5,1038.9 L1375.5,1040.3 L1377.5,1041.6 L1379.5,1042.9 L1381.5,1044.2 L1383.5,1045.5 L1385.5,1046.8 L1387.5,1048.0 L1389.5,1049.2 L1391.5,1050.3 L1393.5,1051.5 L1395.5,1052.6 L1397.5,1053.7 L1399.5,1054.8 L1401.5,1055.8 L1403.5,1056.8 L1405.5,1057.8 L1407.5,1058.8 L1409.5,1059.7 L1411.5,1060.6 L1413.5,1061.5 L1415.5,1062.4 L1417.5,1063.2 L1419.5,1064.1 L1421.5,1064.9 L1423.5,1065.7 L1425.5,1066.4 L1427.5,1067.2 L1429.5,1067.9 L1431.5,1068.6 L1433.5,1069.3 L1435.5,1070.0 L1437.5,1070.6 L1439.5,1071.3 L1441.5,1071.9 L1443.5,1072.5 L1445.5,1073.1 L1447.5,1073.6 L1449.5,1074.2 L1451.5,1074.7 L1453.5,1075.3 L1455.5,1075.8 L1457.5,1076.2 L1459.5,1076.7 L1461.5,1077.2 L1463.5,1077.6 L1465.5,1078.1 L1467.5,1078.5 L1469.5,1078.9 L1471.5,1079.3 L1473.5,1079.7 L1475.5,1080.0 L1477.5,1080.4 L1479.5,1080.7 L1481.5,1081.1 L1483.5,1081.4 L1485.5,1081.7 L1487.5,1082.0 L1489.5,1082.3 L1491.5,1082.6 L1493.5,1082.8 L1495.5,1083.1 L1497.5,1083.4 L1499.5,1083.6 L1501.5,1083.9 L1503.5,1084.1 L1505.5,1084.3 L1507.5,1084.5 L1509.5,1084.7 L1511.5,1084.9 L1513.5,1085.1 L1515.5,1085.3 L1517.5,1085.5 L1519.5,1085.7 L1521.5,1085.8 L1523.5,1086.0 L1525.5,1086.1 L1527.5,1086.3 L1529.5,1086.4 L1531.5,1086.6 L1533.5,1086.7 L1535.5,1086.8 L1537.5,1086.9 L1539.5,1087.1 L1541.5,1087.2 L1543.5,1087.3 L1545.5,1087.4 L1547.5,1087.5 L1549.5,1087.6 L1551.5,1087.7 L1553.5,1087.8 L1555.5,1087.9 L1557.5,1087.9 L1559.5,1088.0 L1561.5,1088.1 L1563.5,1088.2 L1565.5,1088.2 L1567.5,1088.3 L1569.5,1088.4 L1571.5,1088.4 L1573.5,1088.5 L1575.5,1088.5 L1577.5,1088.6 L1579.5,1088.6 L1581.5,1088.7 L1583.5,1088.7 L1585.5,1088.8 L1587.5,1088.8 L1589.5,1088.9 L1591.5,1088.9 L1593.5,1088.9 L1595.5,1089.0 L1597.5,1089.0 L1599.5,1089.1 L1601.5,1089.1 L1603.5,1089.1 L1605.5,1089.1 L1607.5,1089.2 L1609.5,1089.2 L1611.5,1089.2 L1613.5,1089.2 L1615.5,1089.3 L1617.5,1089.3 L1619.5,1089.3 L1621.5,1089.3 L1623.5,1089.3 L1625.5,1089.4 L1627.5,1089.4 L1629.5,1089.4 L1631.5,1089.4 L1633.5,1089.4 L1635.5,1089.4 L1637.5,1089.5 L1639.5,1089.5 L1641.5,1089.5 L1643.5,1089.5 L1645.5,1089.5 L1647.5,1089.5 L1649.5,1089.5 L1651.5,1089.5 L1653.5,1089.5 L1655.5,1089.6 L1657.5,1089.6 L1659.5,1089.6 L1661.5,1089.6 L1663.5,1089.6 L1665.5,1089.6 L1667.5,1089.6 L1669.5,1089.6 L1671.5,1089.6 L1673.5,1089.6 L1675.5,1089.6 L1677.5,1089.6 L1679.5,1089.6 L1681.5,1089.6 L1683.5,1089.6 L1685.5,1089.6 L1687.5,1089.6 L1689.5,1089.6 L1691.5,1089.6 L1693.5,1089.6 L1695.5,1089.7 L1697.5,1089.7 L1699.5,1089.7 L1701.5,1089.7 L1703.5,1089.7 L1705.5,1089.7 L1707.5,1089.7 L1709.5,1089.7 L1711.5,1089.7 L1713.5,1089.7 L1715.5,1089.7 L1717.5,1089.7 L1719.5,1089.7 L1721.5,1089.7 L1723.5,1089.7 L1725.5,1089.7 L1727.5,1089.7 L1729.5,1089.7 L1731.5,1089.7 L1733.5,1089.7 L1735.5,1089.7 L1737.5,1089.7 L1739.5,1089.7 L1741.5,1089.7 L1743.5,1089.7 L1745.5,1089.7 L1747.5,1089.7 L1749.5,1089.7 L1751.5,1089.7 L1753.5,1089.7 L1755.5,1089.7 L1757.5,1089.7 L1759.5,1089.7 L1761.5,1089.7 L1763.5,1089.7 L1765.5,1089.7 L1767.5,1089.7 L1769.5,1089.7 L1771.5,1089.7 L1773.5,1089.7 L1775.5,1089.7 L1777.5,1089.7 L1779.5,1089.7 L1781.5,1089.7 L1783.5,1089.7 L1785.5,1089.7 L1787.5,1089.7 L1789.5,1089.7 L1791.5,1089.7 L1793.5,1089.7 L1795.5,1089.7 L1797.5,1089.7 L1799.5,1089.7 L1801.5,1089.7 L1803.5,1089.7 L1805.5,1089.7 L1807.5,1089.7 L1809.5,1089.7 L1811.5,1089.7 L1813.5,1089.7 L1815.5,1089.7 L1817.5,1089.7 L1819.5,1089.7 L1821.5,1089.7 L1823.5,1089.7 L1825.5,1089.7 L1827.5,1089.7 L1829.5,1089.7 L1831.5,1089.7 L1833.5,1089.7 L1835.5,1089.7 L1837.5,1089.7 L1839.5,1089.7 L1841.5,1089.7 L1843.5,1089.7 L1845.5,1089.7 L1847.5,1089.7 L1849.5,1089.7 L1851.5,1089.7 L1853.5,1089.7 L1855.5,1089.7 L1857.5,1089.7 L1859.5,1089.7 L1861.5,1089.7 L1863.5,1089.7 L1865.5,1089.7 L1867.5,1089.7 L1869.5,1089.7 L1871.5,1089.7 L1873.5,1089.7 L1875.5,1089.7 L1877.5,1089.7 L1879.5,1089.7 L1881.5,1089.7 L1883.5,1089.7 L1885.5,1089.7 L1887.5,1089.7 L1889.5,1089.7 L1891.5,1089.7 L1893.5,1089.7 L1895.5,1089.7 L1897.5,1089.7 L1899.5,1089.7 L1901.5,1089.7 L1903.5,1089.7 L1905.5,1089.7 L1907.5,1089.7 L1909.5,1089.7 L1911.5,1089.7 L1913.5,1089.7 L1915.5,1089.7 L1917.5,1089.7 L1919.5,1089.7 L1921.5,1089.7 L1923.5,1089.7 L1925.5,1089.7 L1927.5,1089.7 L1929.5,1089.7 L1931.5,1089.7 L1933.5,1089.7 L1935.5,1089.7 L1937.5,1089.7 L1939.5,1089.7 L1941.5,1089.7 L1943.5,1089.7 L1945.5,1089.7 L1947.5,1089.7 L1949.5,1089.7 L1951.5,1089.7 L1953.5,1089.7 L1955.5,1089.7 L1957.5,1089.7 L1959.5,1089.7 L1961.5,1089.7 L1963.5,1089.7 L1965.5,1089.7 L1967.5,1089.7 L1969.5,1089.7 L1971.5,1089.7 L1973.5,1089.7 L1975.5,1089.7 L1977.5,1089.7 L1979.5,1089.7 L1981.5,1089.7 L1983.5,1089.7 L1985.5,1089.7 L1987.5,1089.7 L1989.5,1089.7 L1991.5,1089.7 L1993.5,1089.7 L1995.5,1089.7 L1997.5,1089.7 L1998.5,1089.7" fill="none" stroke="#0000ff" stroke-width="5.0" stroke-linejoin="round"/>
<path d="M199.5,1089.7 L201.5,1089.7 L203.5,1089.7 L205.5,1089.7 L207.5,1089.7 L209.5,1089.7 L211.5,1089.7 L213.5,1089.7 L215.5,1089.7 L217.5,1089.7 L219.5,1089.7 L221.5,1089.7 L223.5,1089.7 L225.5,1089.7 L227.5,1089.7 L229.5,1089.7 L231.5,1089.7 L233.5,1089.7 L235.5,1089.7 L237.5,1089.7 L239.5,1089.7 L241.5,1089.7 L243.5,1089.7 L245.5,1089.7 L247.5,1089.7 L249.5,1089.7 L251.5,1089.7 L253.5,1089.7 L255.5,1089.7 L257.5,1089.7 L259.5,1089.7 L261.5,1089.7 L263.5,1089.7 L265.5,1089.7 L267.5,1089.7 L269.5,1089.7 L271.5,1089.7 L273.5,1089.7 L275.5,1089.7 L277.5,1089.7 L279.5,1089.7 L281.5,1089.7 L283.5,1089.7 L285.5,1089.7 L287.5,1089.7 L289.5,1089.7 L291.5,1089.7 L293.5,1089.7 L295.5,1089.7 L297.5,1089.7 L299.5,1089.7 L301.5,1089.7 L303.5,1089.7 L305.5,1089.7 L307.5,1089.7 L309.5,1089.7 L311.5,1089.7 L313.5,1089.7 L315.5,1089.7 L317.5,1089.7 L319.5,1089.7 L321.5,1089.7 L323.5,1089.7 L325.5,1089.7 L327.5,1089.7 L329.5,1089.7 L331.5,1089.7 L333.5,1089.7 L335.5,1089.7 L337.5,1089.7 L339.5,1089.7 L341.5,1089.7 L343.5,1089.7 L345.5,1089.7 L347.5,1089.7 L349.5,1089.7 L351.5,1089.7 L353.5,1089.7 L355.5,1089.7 L357.5,1089.7 L359.5,1089.7 L361.5,1089.7 L363.5,1089.7 L365.5,1089.7 L367.5,1089.7 L369.5,1089.7 L371.5,1089.7 L373.5,1089.7 L375.5,1089.7 L377.5,1089.7 L379.5,1089.7 L381.5,1089.7 L383.5,1089.7 L385.5,1089.7 L387.5,1089.7 L389.5,1089.7 L391.5,1089.7 L393.5,1089.7 L395.5,1089.7 L397.5,1089.7 L399.5,1089.7 L401.5,1089.7 L403.5,1089.7 L405.5,1089.7 L407.5,1089.7 L409.5,1089.7 L411.5,1089.7 L413.5,1089.7 L415.5,1089.7 L417.5,1089.7 L419.5,1089.7 L421.5,1089.7 L423.5,1089.7 L425.5,1089.7 L427.5,1089.7 L429.5,1089.7 L431.5,1089.7 L433.5,1089.7 L435.5,1089.7 L437.5,1089.7 L439.5,1089.7 L441.5,1089.7 L443.5,1089.7 L445.5,1089.7 L447.5,1089.7 L449.5,1089.7 L451.5,1089.7 L453.5,1089.7 L455.5,1089.7 L457.5,1089.7 L459.5,1089.7 L461.5,1089.7 L463.5,1089.7 L465.5,1089.7 L467.5,1089.7 L469.5,1089.7 L471.5,1089.7 L473.5,1089.7 L475.5,1089.7 L477.5,1089.7 L479.5,1089.7 L481.5,1089.7 L483.5,1089.7 L485.5,1089.7 L487.5,1089.7 L489.5,1089.7 L491.5,1089.7 L493.5,1089.7 L495.5,1089.7 L497.5,1089.7 L499.5,1089.7 L501.5,1089.7 L503.5,1089.7 L505.5,1089.7 L507.5,1089.7 L509.5,1089.7 L511.5,1089.7 L513.5,1089.7 L515.5,1089.7 L517.5,1089.7 L519.5,1089.7 L521.5,1089.7 L523.5,1089.7 L525.5,1089.7 L527.5,1089.7 L529.5,1089.7 L531.5,1089.7 L533.5,1089.7 L535.5,1089.7 L537.5,1089.7 L539.5,1089.7 L541.5,1089.7 L543.5,1089.7 L545.5,1089.7 L547.5,1089.7 L549.5,1089.7 L551.5,1089.7 L553.5,1089.7 L555.5,1089.7 L557.5,1089.7 L559.5,1089.7 L561.5,1089.7 L563.5,1089.7 L565.5,1089.7 L567.5,1089.7 L569.5,1089.7 L571.5,1089.7 L573.5,1089.7 L575.5,1089.7 L577.5,1089.7 L579.5,1089.7 L581.5,1089.7 L583.5,1089.7 L585.5,1089.7 L587.5,1089.7 L589.5,1089.7 L591.5,1089.7 L593.5,1089.7 L595.5,1089.7 L597.5,1089.7 L599.5,1089.7 L601.5,1089.7 L603.5,1089.7 L605.5,1089.7 L607.5,1089.7 L609.5,1089.7 L611.5,1089.7 L613.5,1089.7 L615.5,1089.7 L617.5,1089.7 L619.5,1089.7 L621.5,1089.7 L623.5,1089.7 L625.5,1089.7 L627.5,1089.7 L629.5,1089.7 L631.5,1089.7 L633.5,1089.7 L635.5,1089.7 L637.5,1089.6 L639.5,1089.6 L641.5,1089.6 L643.5,1089.6 L645.5,1089.6 L647.5,1089.6 L649.5,1089.6 L651.5,1089.6 L653.5,1089.6 L655.5,1089.6 L657.5,1089.6 L659.5,1089.6 L661.5,1089.6 L663.5,1089.6 L665.5,1089.6 L667.5,1089.6 L669.5,1089.6 L671.5,1089.6 L673.5,1089.6 L675.5,1089.6 L677.5,1089.5 L679.5,1089.5 L681.5,1089.5 L683.5,1089.5 L685.5,1089.5 L687.5,1089.5 L689.5,1089.5 L691.5,1089.5 L693.5,1089.5 L695.5,1089.4 L697.5,1089.4 L699.5,1089.4 L701.5,1089.4 L703.5,1089.4 L705.5,1089.4 L707.5,1089.4 L709.5,1089.3 L711.5,1089.3 L713.5,1089.3 L715.5,1089.3 L717.5,1089.3 L719.5,1089.2 L721.5,1089.2 L723.5,1089.2 L725.5,1089.2 L727.5,1089.1 L729.5,1089.1 L731.5,1089.1 L733.5,1089.1 L735.5,1089.0 L737.5,1089.0 L739.5,1089.0 L741.5,1088.9 L743.5,1088.9 L745.5,1088.8 L747.5,1088.8 L749.5,1088.8 L751.5,1088.7 L753.5,1088.7 L755.5,1088.6 L757.5,1088.6 L759.5,1088.5 L761.5,1088.5 L763.5,1088.4 L765.5,1088.3 L767.5,1088.3 L769.5,1088.2 L771.5,1088.1 L773.5,1088.1 L775.5,1088.0 L777.5,1087.9 L779.5,1087.9 L781.5,1087.8 L783.5,1087.7 L785.5,1087.6 L787.5,1087.5 L789.5,1087.4 L791.5,1087.3 L793.5,1087.2 L795.5,1087.1 L797.5,1087.0 L799.5,1086.9 L801.5,1086.8 L803.5,1086.6 L805.5,1086.5 L807.5,1086.4 L809.5,1086.2 L811.5,1086.1 L813.5,1085.9 L815.5,1085.8 L817.5,1085.6 L819.5,1085.5 L821.5,1085.3 L823.5,1085.1 L825.5,1084.9 L827.5,1084.7 L829.5,1084.6 L831.5,1084.4 L833.5,1084.1 L835.5,1083.9 L837.5,1083.7 L839.5,1083.5 L841.5,1083.2 L843.5,1083.0 L845.5,1082.7 L847.5,1082.5 L849.5,1082.2 L851.5,1081.9 L853.5,1081.6 L855.5,1081.3 L857.5,1081.0 L859.5,1080.7 L861.5,1080.4 L863.5,1080.1 L865.5,1079.7 L867.5,1079.4 L869.5,1079.0 L871.5,1078.6 L873.5,1078.2 L875.5,1077.8 L877.5,1077.4 L879.5,1077.0 L881.5,1076.6 L883.5,1076.1 L885.5,1075.7 L887.5,1075.2 L889.5,1074.7 L891.5,1074.2 L893.5,1073.7 L895.5,1073.2 L897.5,1072.6 L899.5,1072.1 L901.5,1071.5 L903.5,1070.9 L905.5,1070.3 L907.5,1069.7 L909.5,1069.1 L911.5,1068.5 L913.5,1067.8 L915.5,1067.1 L917.5,1066.4 L919.5,1065.7 L921.5,1065.0 L923.5,1064.3 L925.5,1063.5 L927.5,1062.7 L929.5,1061.9 L931.5,1061.1 L933.5,1060.3 L935.5,1059.5 L937.5,1058.6 L939.5,1057.7 L941.5,1056.8 L943.5,1055.9 L945.5,1054.9 L947.5,1054.0 L949.5,1053.0 L951.5,1052.0 L953.5,1051.0 L955.5,1050.0 L957.5,1048.9 L959.5,1047.8 L961.5,1046.7 L963.5,1045.6 L965.5,1044.5 L967.5,1043.3 L969.5,1042.1 L971.5,1041.0 L973.5,1039.7 L975.5,1038.5 L977.5,1037.2 L979.5,1036.0 L981.5,1034.7 L983.5,1033.3 L985.5,1032.0 L987.5,1030.6 L989.5,1029.3 L991.5,1027.9 L993.5,1026.4 L995.5,1025.0 L997.5,1023.5 L999.5,1022.0 L1001.5,1020.5 L1003.5,1019.0 L1005.5,1017.5 L1007.5,1015.9 L1009.5,1014.3 L1011.5,1012.8 L1013.5,1011.1 L1015.5,1009.5 L1017.5,1007.8 L1019.5,1006.2 L1021.5,1004.5 L1023.5,1002.8 L1025.5,1001.1 L1027.5,999.3 L1029.5,997.6 L1031.5,995.8 L1033.5,994.0 L1035.5,992.2 L1037.5,990.4 L1039.5,988.6 L1041.5,986.7 L1043.5,984.9 L1045.5,983.0 L1047.5,981.1 L1049.5,979.2 L1051.5,977.3 L1053.5,975.4 L1055.5,973.5 L1057.5,971.5 L1059.5,969.6 L1061.5,967.6 L1063.5,965.7 L1065.5,963.7 L1067.5,961.7 L1069.5,959.8 L1071.5,957.8 L1073.5,955.8 L1075.5,953.8 L1077.5,951.8 L1079.5,949.8 L1081.5,947.8 L1083.5,945.8 L1085.5,943.8 L1087.5,941.8 L1089.5,939.8 L1091.5,937.8 L1093.5,935.8 L1095.5,933.9 L1097.5,931.9 L1099.5,929.9 L1101.5,927.9 L1103.5,926.0 L1105.5,924.0 L1107.5,922.1 L1109.5,920.2 L1111.5,918.2 L1113.5,916.3 L1115.5,914.4 L1117.5,912.5 L1119.5,910.7 L1121.5,908.8 L1123.5,907.0 L1125.5,905.2 L1127.5,903.4 L1129.5,901.6 L1131.5,899.8 L1133.5,898.1 L1135.5,896.4 L1137.5,894.7 L1139.5,893.0 L1141.5,891.3 L1143.5,889.7 L1145.5,888.1 L1147.5,886.5 L1149.5,885.0 L1151.5,883.5 L1153.5,882.0 L1155.5,880.5 L1157.5,879.1 L1159.5,877.7 L1161.5,876.3 L1163.5,875.0 L1165.5,873.7 L1167.5,872.5 L1169.5,871.2 L1171.5,870.0 L1173.5,868.9 L1175.5,867.8 L1177.5,866.7 L1179.5,865.6 L1181.5,864.6 L1183.5,863.7 L1185.5,862.8 L1187.5,861.9 L1189.5,861.0 L1191.5,860.2 L1193.5,859.5 L1195.5,858.8 L1197.5,858.1 L1199.5,857.4 L1201.5,856.9 L1203.5,856.3 L1205.5,855.8 L1207.5,855.4 L1209.5,855.0 L1211.5,854.6 L1213.5,854.3 L1215.5,854.0 L1217.5,853.8 L1219.5,853.6 L1221.5,853.4 L1223.5,853.4 L1225.5,853.3 L1227.5,853.3 L1229.5,853.4 L1231.5,853.4 L1233.5,853.6 L1235.5,853.8 L1237.5,854.0 L1239.5,854.3 L1241.5,854.6 L1243.5,855.0 L1245.5,855.4 L1247.5,855.8 L1249.5,856.3 L1251.5,856.9 L1253.5,857.4 L1255.5,858.1 L1257.5,858.8 L1259.5,859.5 L1261.5,860.2 L1263.5,861.0 L1265.5,861.9 L1267.5,862.8 L1269.5,863.7 L1271.5,864.6 L1273.5,865.6 L1275.5,866.7 L1277.5,867.8 L1279.5,868.9 L1281.5,870.0 L1283.5,871.2 L1285.5,872.5 L1287.5,873.7 L1289.5,875.0 L1291.5,876.3 L1293.5,877.7 L1295.5,879.1 L1297.5,880.5 L1299.5,882.0 L1301.5,883.5 L1303.5,885.0 L1305.5,886.5 L1307.5,888.1 L1309.5,889.7 L1311.5,891.3 L1313.5,893.0 L1315.5,894.7 L1317.5,896.4 L1319.5,898.1 L1321.5,899.8 L1323.5,901.6 L1325.5,903.4 L1327.5,905.2 L1329.5,907.0 L1331.5,908.8 L1333.5,910.7 L1335.5,912.5 L1337.5,914.4 L1339.5,916.3 L1341.5,918.2 L1343.5,920.2 L1345.5,922.1 L1347.5,924.0 L1349.5,926.0 L1351.5,927.9 L1353.5,929.9 L1355.5,931.9 L1357.5,933.9 L1359.5,935.8 L1361.5,937.8 L1363.5,939.8 L1365.5,941.8 L1367.5,943.8 L1369.5,945.8 L1371.5,947.8 L1373.5,949.8 L1375.5,951.8 L1377.5,953.8 L1379.5,955.8 L1381.5,957.8 L1383.5,959.8 L1385.5,961.7 L1387.5,963.7 L1389.5,965.7 L1391.5,967.6 L1393.5,969.6 L1395.5,971.5 L1397.5,973.5 L1399.5,975.4 L1401.5,977.3 L1403.5,979.2 L1405.5,981.1 L1407.5,983.0 L1409.5,984.9 L1411.5,986.7 L1413.5,988.6 L1415.5,990.4 L1417.5,992.2 L1419.5,994.0 L1421.5,995.8 L1423.5,997.6 L1425.5,999.3 L1427.5,1001.1 L1429.5,1002.8 L1431.5,1004.5 L1433.5,1006.2 L1435.5,1007.8 L1437.5,1009.5 L1439.5,1011.1 L1441.5,1012.8 L1443.5,1014.3 L1445.5,1015.9 L1447.5,1017.5 L1449.5,1019.0 L1451.5,1020.5 L1453.5,1022.0 L1455.5,1023.5 L1457.5,1025.0 L1459.5,1026.4 L1461.5,1027.9 L1463.5,1029.3 L1465.5,1030.6 L1467.5,1032.0 L1469.5,1033.3 L1471.5,1034.7 L1473.5,1036.0 L1475.5,1037.2 L1477.5,1038.5 L1479.5,1039.7 L1481.5,1041.0 L1483.5,1042.1 L1485.5,1043.3 L1487.5,1044.5 L1489.5,1045.6 L1491.5,1046.7 L1493.5,1047.8 L1495.5,1048.9 L1497.5,1050.0 L1499.5,1051.0 L1501.5,1052.0 L1503.5,1053.0 L1505.5,1054.0 L1507.5,1054.9 L1509.5,1055.9 L1511.5,1056.8 L1513.5,1057.7 L1515.5,1058.6 L1517.5,1059.5 L1519.5,1060.3 L1521.5,1061.1 L1523.5,1061.9 L1525.5,1062.7 L1527.5,1063.5 L1529.5,1064.3 L1531.5,1065.0 L1533.5,1065.7 L1535.5,1066.4 L1537.5,1067.1 L1539.5,1067.8 L1541.5,1068.5 L1543.5,1069.1 L1545.5,1069.7 L1547.5,1070.3 L1549.5,1070.9 L1551.5,1071.5 L1553.5,1072.1 L1555.5,1072.6 L1557.5,1073.2 L1559.5,1073.7 L1561.5,1074.2 L1563.5,1074.7 L1565.5,1075.2 L1567.5,1075.7 L1569.5,1076.1 L1571.5,1076.6 L1573.5,1077.0 L1575.5,1077.4 L1577.5,1077.8 L1579.5,1078.2 L1581.5,1078.6 L1583.5,1079.0 L1585.5,1079.4 L1587.5,1079.7 L1589.5,1080.1 L1591.5,1080.4 L1593.5,1080.7 L1595.5,1081.0 L1597.5,1081.3 L1599.5,1081.6 L1601.5,1081.9 L1603.5,1082.2 L1605.5,1082.5 L1607.5,1082.7 L1609.5,1083.0 L1611.5,1083.2 L1613.5,1083.5 L1615.5,1083.7 L1617.5,1083.9 L1619.5,1084.1 L1621.5,1084.4 L1623.5,1084.6 L1625.5,1084.7 L1627.5,1084.9 L1629.5,1085.1 L1631.5,1085.3 L1633.5,1085.5 L1635.5,1085.6 L1637.5,1085.8 L1639.5,1085.9 L1641.5,1086.1 L1643.5,1086.2 L1645.5,1086.4 L1647.5,1086.5 L1649.5,1086.6 L1651.5,1086.8 L1653.5,1086.9 L1655.5,1087.0 L1657.5,1087.1 L1659.5,1087.2 L1661.5,1087.3 L1663.5,1087.4 L1665.5,1087.5 L1667.5,1087.6 L1669.5,1087.7 L1671.5,1087.8 L1673.5,1087.9 L1675.5,1087.9 L1677.5,1088.0 L1679.5,1088.1 L1681.5,1088.1 L1683.5,1088.2 L1685.5,1088.3 L1687.5,1088.3 L1689.5,1088.4 L1691.5,1088.5 L1693.5,1088.5 L1695.5,1088.6 L1697.5,1088.6 L1699.5,1088.7 L1701.5,1088.7 L1703.5,1088.8 L1705.5,1088.8 L1707.5,1088.8 L1709.5,1088.9 L1711.5,1088.9 L1713.5,1089.0 L1715.5,1089.0 L1717.5,1089.0 L1719.5,1089.1 L1721.5,1089.1 L1723.5,1089.1 L1725.5,1089.1 L1727.5,1089.2 L1729.5,1089.2 L1731.5,1089.2 L1733.5,1089.2 L1735.5,1089.3 L1737.5,1089.3 L1739.5,1089.3 L1741.5,1089.3 L1743.5,1089.3 L1745.5,1089.4 L1747.5,1089.4 L1749.5,1089.4 L1751.5,1089.4 L1753.5,1089.4 L1755.5,1089.4 L1757.5,1089.4 L1759.5,1089.5 L1761.5,1089.5 L1763.5,1089.5 L1765.5,1089.5 L1767.5,1089.5 L1769.5,1089.5 L1771.5,1089.5 L1773.5,1089.5 L1775.5,1089.5 L1777.5,1089.6 L1779.5,1089.6 L1781.5,1089.6 L1783.5,1089.6 L1785.5,1089.6 L1787.5,1089.6 L1789.5,1089.6 L1791.5,1089.6 L1793.5,1089.6 L1795.5,1089.6 L1797.5,1089.6 L1799.5,1089.6 L1801.5,1089.6 L1803.5,1089.6 L1805.5,1089.6 L1807.5,1089.6 L1809.5,1089.6 L1811.5,1089.6 L1813.5,1089.6 L1815.5,1089.6 L1817.5,1089.7 L1819.5,1089.7 L1821.5,1089.7 L1823.5,1089.7 L1825.5,1089.7 L1827.5,1089.7 L1829.5,1089.7 L1831.5,1089.7 L1833.5,1089.7 L1835.5,1089.7 L1837.5,1089.7 L1839.5,1089.7 L1841.5,1089.7 L1843.5,1089.7 L1845.5,1089.7 L1847.5,1089.7 L1849.5,1089.7 L1851.5,1089.7 L1853.5,1089.7 L1855.5,1089.7 L1857.5,1089.7 L1859.5,1089.7 L1861.5,1089.7 L1863.5,1089.7 L1865.5,1089.7 L1867.5,1089.7 L1869.5,1089.7 L1871.5,1089.7 L1873.5,1089.7 L1875.5,1089.7 L1877.5,1089.7 L1879.5,1089.7 L1881.5,1089.7 L1883.5,1089.7 L1885.5,1089.7 L1887.5,1089.7 L1889.5,1089.7 L1891.5,1089.7 L1893.5,1089.7 L1895.5,1089.7 L1897.5,1089.7 L1899.5,1089.7 L1901.5,1089.7 L1903.5,1089.7 L1905.5,1089.7 L1907.5,1089.7 L1909.5,1089.7 L1911.5,1089.7 L1913.5,1089.7 L1915.5,1089.7 L1917.5,1089.7 L1919.5,1089.7 L1921.5,1089.7 L1923.5,1089.7 L1925.5,1089.7 L1927.5,1089.7 L1929.5,1089.7 L1931.5,1089.7 L1933.5,1089.7 L1935.5,1089.7 L1937.5,1089.7 L1939.5,1089.7 L1941.5,1089.7 L1943.5,1089.7 L1945.5,1089.7 L1947.5,1089.7 L1949.5,1089.7 L1951.5,1089.7 L1953.5,1089.7 L1955.5,1089.7 L1957.5,1089.7 L1959.5,1089.7 L1961.5,1089.7 L1963.5,1089.7 L1965.5,1089.7 L1967.5,1089.7 L1969.5,1089.7 L1971.5,1089.7 L1973.5,1089.7 L1975.5,1089.7 L1977.5,1089.7 L1979.5,1089.7 L1981.5,1089.7 L1983.5,1089.7 L1985.5,1089.7 L1987.5,1089.7 L1989.5,1089.7 L1991.5,1089.7 L1993.5,1089.7 L1995.5,1089.7 L1997.5,1089.7 L1998.5,1089.7" fill="none" stroke="#0000ff" stroke-width="2.8" stroke-linejoin="round"/>
</g>
<g clip-path="url(#clipA)">
<path d="M199.5,1088.7 H440.5" stroke="#00008c" stroke-width="3.2" fill="none"/>
<path d="M1668.5,1088.7 H1998.5" stroke="#00008c" stroke-width="3.2" fill="none"/>
</g>
<g class="ax">
<path d="M133,135.4 H2000.0"/>
<path d="M199.5,133.9 V1158.4"/>
<path d="M1998.5,133.9 V1158.4"/>
<path d="M133,1091.7 H1998.5"/>
<path d="M133,272.0 H199.5 M133,408.6 H199.5 M133,545.2 H199.5 M133,681.9 H199.5 M133,818.5 H199.5 M133,955.1 H199.5 "/>
<path d="M244.5,1091.7 V1129 M289.4,1091.7 V1129 M334.4,1091.7 V1129 M379.4,1091.7 V1129 M424.4,1091.7 V1158.4 M469.4,1091.7 V1129 M514.3,1091.7 V1129 M559.3,1091.7 V1129 M604.3,1091.7 V1129 M649.2,1091.7 V1158.4 M694.2,1091.7 V1129 M739.2,1091.7 V1129 M784.2,1091.7 V1129 M829.1,1091.7 V1129 M874.1,1091.7 V1158.4 M919.1,1091.7 V1129 M964.1,1091.7 V1129 M1009.0,1091.7 V1129 M1054.0,1091.7 V1129 M1099.0,1091.7 V1158.4 M1144.0,1091.7 V1129 M1189.0,1091.7 V1129 M1233.9,1091.7 V1129 M1278.9,1091.7 V1129 M1323.9,1091.7 V1158.4 M1368.8,1091.7 V1129 M1413.8,1091.7 V1129 M1458.8,1091.7 V1129 M1503.8,1091.7 V1129 M1548.8,1091.7 V1158.4 M1593.7,1091.7 V1129 M1638.7,1091.7 V1129 M1683.7,1091.7 V1129 M1728.7,1091.7 V1129 M1773.6,1091.7 V1158.4 M1818.6,1091.7 V1129 M1863.6,1091.7 V1129 M1908.5,1091.7 V1129 M1953.5,1091.7 V1129 "/>
</g>
<g filter="url(#softT)">
<text><tspan x="156.5" y="1232.30" font-size="68.5" textLength="80.86" lengthAdjust="spacingAndGlyphs" stroke="#000" stroke-width="1.6" stroke-linejoin="round">42</tspan></text>
<text><tspan x="383.5" y="1232.30" font-size="68.5" textLength="78.88" lengthAdjust="spacingAndGlyphs" stroke="#000" stroke-width="1.6" stroke-linejoin="round">43</tspan></text>
<text><tspan x="605.5" y="1232.30" font-size="68.5" textLength="78.9" lengthAdjust="spacingAndGlyphs" stroke="#000" stroke-width="1.6" stroke-linejoin="round">44</tspan></text>
<text><tspan x="833.5" y="1232.30" font-size="68.5" textLength="77.86" lengthAdjust="spacingAndGlyphs" stroke="#000" stroke-width="1.6" stroke-linejoin="round">45</tspan></text>
<text><tspan x="1060.0" y="1232.30" font-size="68.5" textLength="80.89" lengthAdjust="spacingAndGlyphs" stroke="#000" stroke-width="1.6" stroke-linejoin="round">46</tspan></text>
<text><tspan x="1285.0" y="1232.30" font-size="68.5" textLength="77.88" lengthAdjust="spacingAndGlyphs" stroke="#000" stroke-width="1.6" stroke-linejoin="round">47</tspan></text>
<text><tspan x="1509.0" y="1232.30" font-size="68.5" textLength="80.42" lengthAdjust="spacingAndGlyphs" stroke="#000" stroke-width="1.6" stroke-linejoin="round">48</tspan></text>
<text><tspan x="1734.0" y="1232.30" font-size="68.5" textLength="78.88" lengthAdjust="spacingAndGlyphs" stroke="#000" stroke-width="1.6" stroke-linejoin="round">49</tspan></text>
<text><tspan x="1958.5" y="1232.30" font-size="68.5" textLength="79.91" lengthAdjust="spacingAndGlyphs" stroke="#000" stroke-width="1.6" stroke-linejoin="round">50</tspan></text>
</g>
<g filter="url(#softT)">
<text><tspan x="788.0" y="1329.90" font-size="72.8" textLength="237.11" lengthAdjust="spacingAndGlyphs" stroke="#000" stroke-width="1.8" stroke-linejoin="round">Binding</tspan> <tspan x="1040.0" y="1329.90" font-size="72.8" textLength="214.46" lengthAdjust="spacingAndGlyphs" stroke="#000" stroke-width="1.8" stroke-linejoin="round">Energy</tspan> <tspan x="1275.0" y="1329.90" font-size="72.8" textLength="129.04" lengthAdjust="spacingAndGlyphs" stroke="#000" stroke-width="1.8" stroke-linejoin="round">(eV)</tspan></text>
</g>
<g filter="url(#softT)">
<text><tspan x="969.5" y="99.50" font-size="100.4" textLength="229.99" lengthAdjust="spacingAndGlyphs" stroke="#000" stroke-width="1.8" stroke-linejoin="round">As3d</tspan></text>
</g>
<g filter="url(#softT)">
<text><tspan x="22.0" y="161.80" font-size="101" textLength="47.84" lengthAdjust="spacingAndGlyphs" stroke="#000" stroke-width="2.2" stroke-linejoin="round">a</tspan><tspan x="74.5" y="161.80" font-size="101" textLength="28.77" lengthAdjust="spacingAndGlyphs" stroke="#000" stroke-width="2.2" stroke-linejoin="round">)</tspan></text>
</g>
<g filter="url(#softY)">
<text transform="translate(106.8,0) rotate(-90)"><tspan x="-807.0" y="0.00" font-size="70.5" textLength="224.02" lengthAdjust="spacingAndGlyphs">Counts</tspan> <tspan x="-564.0" y="0.00" font-size="70.5" textLength="150.69" lengthAdjust="spacingAndGlyphs">(a.u.)</tspan></text>
</g>
<g filter="url(#softT)">
<text><tspan x="231.5" y="223.60" font-size="72.8" textLength="176.45" lengthAdjust="spacingAndGlyphs" stroke="#000" stroke-width="1.8" stroke-linejoin="round">AgNP</tspan><tspan x="414.0" y="223.60" font-size="72.8" textLength="96.4" lengthAdjust="spacingAndGlyphs" stroke="#000" stroke-width="1.8" stroke-linejoin="round">s/L</tspan><tspan x="494.5" y="223.60" font-size="72.8" textLength="30.93" lengthAdjust="spacingAndGlyphs" stroke="#000" stroke-width="1.8" stroke-linejoin="round">-</tspan><tspan x="527.0" y="223.60" font-size="72.8" textLength="224.46" lengthAdjust="spacingAndGlyphs" stroke="#000" stroke-width="1.8" stroke-linejoin="round">cys/citr</tspan></text>
<text><tspan x="247.0" y="310.70" font-size="72.8" textLength="45.0" lengthAdjust="spacingAndGlyphs" stroke="#000" stroke-width="1.8" stroke-linejoin="round">+</tspan> <tspan x="305.5" y="310.70" font-size="72.8" textLength="179.97" lengthAdjust="spacingAndGlyphs" stroke="#000" stroke-width="1.8" stroke-linejoin="round">As(III)</tspan> <tspan x="503.0" y="310.70" font-size="72.8" textLength="73.0" lengthAdjust="spacingAndGlyphs" stroke="#000" stroke-width="1.8" stroke-linejoin="round">10</tspan> <tspan x="591.5" y="310.70" font-size="72.8" textLength="142.1" lengthAdjust="spacingAndGlyphs" stroke="#000" stroke-width="1.8" stroke-linejoin="round">ppm</tspan></text>
</g>
<g id="legendA">
<circle cx="1346.2" cy="172.8" r="10.5" filter="url(#soft)"/>
<g filter="url(#softT)">
<text><tspan x="1426.5" y="200.80" font-size="72.8" textLength="72.41" lengthAdjust="spacingAndGlyphs" stroke="#000" stroke-width="1.8" stroke-linejoin="round">Ex</tspan><tspan x="1497.5" y="200.80" font-size="72.8" textLength="334.56" lengthAdjust="spacingAndGlyphs" stroke="#000" stroke-width="1.8" stroke-linejoin="round">perimental</tspan> <tspan x="1842.5" y="200.80" font-size="72.8" textLength="146.44" lengthAdjust="spacingAndGlyphs" stroke="#000" stroke-width="1.8" stroke-linejoin="round">Data</tspan></text>
</g>
<path d="M1284.6,260.8 H1411.3" stroke="#ff0000" stroke-width="6.8" fill="none"/>
<g filter="url(#softT)">
<text><tspan x="1429.0" y="285.30" font-size="72.8" textLength="120.93" lengthAdjust="spacingAndGlyphs" stroke="#000" stroke-width="1.8" stroke-linejoin="round">As3</tspan><tspan x="1554.5" y="285.30" font-size="72.8" textLength="43.66" lengthAdjust="spacingAndGlyphs" stroke="#000" stroke-width="1.8" stroke-linejoin="round">d</tspan><tspan x="1598.0" y="295.55" font-size="46" textLength="65.91" lengthAdjust="spacingAndGlyphs" stroke="#000" stroke-width="1.3" stroke-linejoin="round">5/2</tspan> <tspan x="1683.0" y="285.30" font-size="72.8" textLength="78.4" lengthAdjust="spacingAndGlyphs" stroke="#000" stroke-width="1.8" stroke-linejoin="round">As</tspan><tspan x="1763.5" y="295.55" font-size="46" textLength="27.21" lengthAdjust="spacingAndGlyphs" stroke="#000" stroke-width="1.3" stroke-linejoin="round">2</tspan><tspan x="1790.0" y="285.30" font-size="72.8" textLength="53.4" lengthAdjust="spacingAndGlyphs" stroke="#000" stroke-width="1.8" stroke-linejoin="round">O</tspan><tspan x="1843.0" y="295.55" font-size="46" textLength="27.13" lengthAdjust="spacingAndGlyphs" stroke="#000" stroke-width="1.3" stroke-linejoin="round">3</tspan></text>
</g>
<path d="M1284.6,345.2 H1411.3" stroke="#ff8080" stroke-width="6.8" fill="none"/>
<g filter="url(#softT)">
<text><tspan x="1429.0" y="369.80" font-size="72.8" textLength="120.93" lengthAdjust="spacingAndGlyphs" stroke="#000" stroke-width="1.8" stroke-linejoin="round">As3</tspan><tspan x="1554.5" y="369.80" font-size="72.8" textLength="43.66" lengthAdjust="spacingAndGlyphs" stroke="#000" stroke-width="1.8" stroke-linejoin="round">d</tspan><tspan x="1599.0" y="380.05" font-size="46" textLength="64.88" lengthAdjust="spacingAndGlyphs" stroke="#000" stroke-width="1.3" stroke-linejoin="round">3/2</tspan> <tspan x="1683.0" y="369.80" font-size="72.8" textLength="78.4" lengthAdjust="spacingAndGlyphs" stroke="#000" stroke-width="1.8" stroke-linejoin="round">As</tspan><tspan x="1763.5" y="380.05" font-size="46" textLength="27.21" lengthAdjust="spacingAndGlyphs" stroke="#000" stroke-width="1.3" stroke-linejoin="round">2</tspan><tspan x="1790.0" y="369.80" font-size="72.8" textLength="53.4" lengthAdjust="spacingAndGlyphs" stroke="#000" stroke-width="1.8" stroke-linejoin="round">O</tspan><tspan x="1843.0" y="380.05" font-size="46" textLength="27.13" lengthAdjust="spacingAndGlyphs" stroke="#000" stroke-width="1.3" stroke-linejoin="round">3</tspan></text>
</g>
<path d="M1284.6,429.6 H1411.3" stroke="#0000ff" stroke-width="6.8" fill="none"/>
<g filter="url(#softT)">
<text><tspan x="1429.0" y="454.30" font-size="72.8" textLength="120.93" lengthAdjust="spacingAndGlyphs" stroke="#000" stroke-width="1.8" stroke-linejoin="round">As3</tspan><tspan x="1554.5" y="454.30" font-size="72.8" textLength="43.66" lengthAdjust="spacingAndGlyphs" stroke="#000" stroke-width="1.8" stroke-linejoin="round">d</tspan><tspan x="1598.0" y="464.55" font-size="46" textLength="65.91" lengthAdjust="spacingAndGlyphs" stroke="#000" stroke-width="1.3" stroke-linejoin="round">5/2</tspan> <tspan x="1683.0" y="454.30" font-size="72.8" textLength="78.4" lengthAdjust="spacingAndGlyphs" stroke="#000" stroke-width="1.8" stroke-linejoin="round">As</tspan><tspan x="1763.5" y="464.55" font-size="46" textLength="27.21" lengthAdjust="spacingAndGlyphs" stroke="#000" stroke-width="1.3" stroke-linejoin="round">2</tspan><tspan x="1790.0" y="454.30" font-size="72.8" textLength="53.4" lengthAdjust="spacingAndGlyphs" stroke="#000" stroke-width="1.8" stroke-linejoin="round">O</tspan><tspan x="1843.0" y="464.55" font-size="46" textLength="27.13" lengthAdjust="spacingAndGlyphs" stroke="#000" stroke-width="1.3" stroke-linejoin="round">5</tspan></text>
</g>
<path d="M1284.6,514.0 H1411.3" stroke="#8080ff" stroke-width="6.8" fill="none"/>
<g filter="url(#softT)">
<text><tspan x="1429.0" y="538.70" font-size="72.8" textLength="120.93" lengthAdjust="spacingAndGlyphs" stroke="#000" stroke-width="1.8" stroke-linejoin="round">As3</tspan><tspan x="1554.5" y="538.70" font-size="72.8" textLength="43.66" lengthAdjust="spacingAndGlyphs" stroke="#000" stroke-width="1.8" stroke-linejoin="round">d</tspan><tspan x="1599.0" y="548.95" font-size="46" textLength="64.88" lengthAdjust="spacingAndGlyphs" stroke="#000" stroke-width="1.3" stroke-linejoin="round">3/2</tspan> <tspan x="1683.0" y="538.70" font-size="72.8" textLength="78.4" lengthAdjust="spacingAndGlyphs" stroke="#000" stroke-width="1.8" stroke-linejoin="round">As</tspan><tspan x="1763.5" y="548.95" font-size="46" textLength="27.21" lengthAdjust="spacingAndGlyphs" stroke="#000" stroke-width="1.3" stroke-linejoin="round">2</tspan><tspan x="1790.0" y="538.70" font-size="72.8" textLength="53.4" lengthAdjust="spacingAndGlyphs" stroke="#000" stroke-width="1.8" stroke-linejoin="round">O</tspan><tspan x="1843.0" y="548.95" font-size="46" textLength="27.13" lengthAdjust="spacingAndGlyphs" stroke="#000" stroke-width="1.3" stroke-linejoin="round">5</tspan></text>
</g>
<path d="M1284.6,598.5 H1411.3" stroke="#808080" stroke-width="6.8" fill="none"/>
<g filter="url(#softT)">
<text><tspan x="1443.0" y="626.50" font-size="72.8" textLength="136.95" lengthAdjust="spacingAndGlyphs" stroke="#000" stroke-width="1.8" stroke-linejoin="round">Best</tspan> <tspan x="1595.5" y="626.50" font-size="72.8" textLength="79.45" lengthAdjust="spacingAndGlyphs" stroke="#000" stroke-width="1.8" stroke-linejoin="round">Fit</tspan></text>
</g>
</g>
</g>
<g id="chartB">
<g class="ax">
<path d="M162.2,2555.4 H1995.6"/>
</g>
<g clip-path="url(#clipB)" filter="url(#soft)">
<g id="dotsB" fill="#000">
<circle cx="197" cy="2556" r="7.5"/>
<circle cx="210.5" cy="2534.4" r="7.5"/>
<circle cx="217.2" cy="2489" r="7.5"/>
<circle cx="227.2" cy="2543.5" r="7.5"/>
<circle cx="239.9" cy="2549.6" r="7.5"/>
<circle cx="265.9" cy="2517.8" r="7.5"/>
<circle cx="272.6" cy="2417.3" r="7.5"/>
<circle cx="282.3" cy="2552.6" r="7.5"/>
<circle cx="301.9" cy="2495.1" r="7.5"/>
<circle cx="308.3" cy="2517.8" r="7.5"/>
<circle cx="315" cy="2531.4" r="7.5"/>
<circle cx="363.4" cy="2511.1" r="7.5"/>
<circle cx="370" cy="2527.8" r="7.5"/>
<circle cx="377" cy="2489" r="7.5"/>
<circle cx="386.4" cy="2466.3" r="7.5"/>
<circle cx="393" cy="2527.8" r="7.5"/>
<circle cx="405.8" cy="2527.8" r="7.5"/>
<circle cx="418.8" cy="2472.4" r="7.5"/>
<circle cx="425.4" cy="2501.8" r="7.5"/>
<circle cx="441.5" cy="2549.6" r="7.5"/>
<circle cx="448.1" cy="2489" r="7.5"/>
<circle cx="454.2" cy="2508.7" r="7.5"/>
<circle cx="461.7" cy="2472.4" r="7.5"/>
<circle cx="467.8" cy="2520.8" r="7.5"/>
<circle cx="474.5" cy="2544.1" r="7.5"/>
<circle cx="490.5" cy="2436.1" r="7.5"/>
<circle cx="497.2" cy="2419.4" r="7.5"/>
<circle cx="503.5" cy="2508.7" r="7.5"/>
<circle cx="510.2" cy="2414.3" r="7.5"/>
<circle cx="516.6" cy="2339.4" r="7.5"/>
<circle cx="523.2" cy="2316.1" r="7.5"/>
<circle cx="529.8" cy="2388.3" r="7.5"/>
<circle cx="539.3" cy="2336.4" r="7.5"/>
<circle cx="545.9" cy="2319.7" r="7.5"/>
<circle cx="552.3" cy="2267.7" r="7.5"/>
<circle cx="558.4" cy="2169.9" r="7.5"/>
<circle cx="565" cy="2137.5" r="7.5"/>
<circle cx="571.7" cy="2143.6" r="7.5"/>
<circle cx="579.5" cy="2137.5" r="7.5"/>
<circle cx="588.3" cy="2020.4" r="7.5"/>
<circle cx="595.3" cy="2027.1" r="7.5"/>
<circle cx="601.3" cy="1958.4" r="7.5"/>
<circle cx="608" cy="2017.1" r="7.5"/>
<circle cx="614.3" cy="2004.4" r="7.5"/>
<circle cx="621" cy="1909.6" r="7.5"/>
<circle cx="627.1" cy="1903" r="7.5"/>
<circle cx="633.7" cy="1889.3" r="7.5"/>
<circle cx="643.7" cy="1880.3" r="7.5"/>
<circle cx="649.8" cy="1997.7" r="7.5"/>
<circle cx="656.7" cy="1893" r="7.5"/>
<circle cx="662.8" cy="1958.4" r="7.5"/>
<circle cx="669.4" cy="1909" r="7.5"/>
<circle cx="675.8" cy="2004.4" r="7.5"/>
<circle cx="683" cy="1952.3" r="7.5"/>
<circle cx="692.1" cy="2049.8" r="7.5"/>
<circle cx="699.1" cy="1971.7" r="7.5"/>
<circle cx="705.1" cy="2046.7" r="7.5"/>
<circle cx="711.8" cy="2052.8" r="7.5"/>
<circle cx="717.9" cy="2101.8" r="7.5"/>
<circle cx="724.5" cy="2195.9" r="7.5"/>
<circle cx="730.9" cy="2172.9" r="7.5"/>
<circle cx="737.5" cy="2134.5" r="7.5"/>
<circle cx="748.1" cy="2205.6" r="7.5"/>
<circle cx="753.9" cy="2287.8" r="7.5"/>
<circle cx="760.5" cy="2268.1" r="7.5"/>
<circle cx="767.2" cy="2345.9" r="7.5"/>
<circle cx="774.2" cy="2303.8" r="7.5"/>
<circle cx="780.2" cy="2378.6" r="7.5"/>
<circle cx="786.9" cy="2410.4" r="7.5"/>
<circle cx="796.2" cy="2417.9" r="7.5"/>
<circle cx="802.9" cy="2368.6" r="7.5"/>
<circle cx="809" cy="2476" r="7.5"/>
<circle cx="815.9" cy="2387.6" r="7.5"/>
<circle cx="822.6" cy="2394.3" r="7.5"/>
<circle cx="829.2" cy="2449.7" r="7.5"/>
<circle cx="835.3" cy="2452.7" r="7.5"/>
<circle cx="845.3" cy="2505.1" r="7.5"/>
<circle cx="865" cy="2472.4" r="7.5"/>
<circle cx="871.6" cy="2440.6" r="7.5"/>
<circle cx="878" cy="2482.4" r="7.5"/>
<circle cx="890.7" cy="2424" r="7.5"/>
<circle cx="900.4" cy="2501.8" r="7.5"/>
<circle cx="907" cy="2469.4" r="7.5"/>
<circle cx="913.7" cy="2508.7" r="7.5"/>
<circle cx="920" cy="2420.3" r="7.5"/>
<circle cx="926.4" cy="2489" r="7.5"/>
<circle cx="933" cy="2472.4" r="7.5"/>
<circle cx="939.7" cy="2449.7" r="7.5"/>
<circle cx="962.1" cy="2514.8" r="7.5"/>
<circle cx="968.8" cy="2551" r="7.5"/>
<circle cx="982.1" cy="2543.5" r="7.5"/>
<circle cx="995.1" cy="2485.4" r="7.5"/>
<circle cx="1004.2" cy="2505.7" r="7.5"/>
<circle cx="1011.7" cy="2498.1" r="7.5"/>
<circle cx="1017.8" cy="2482.4" r="7.5"/>
<circle cx="1023.8" cy="2531.4" r="7.5"/>
<circle cx="1030.5" cy="2521.4" r="7.5"/>
<circle cx="1037.5" cy="2531.4" r="7.5"/>
<circle cx="1043.5" cy="2462.7" r="7.5"/>
<circle cx="1052.6" cy="2483" r="7.5"/>
<circle cx="1060.2" cy="2475.4" r="7.5"/>
<circle cx="1066.8" cy="2452.7" r="7.5"/>
<circle cx="1073.2" cy="2531.4" r="7.5"/>
<circle cx="1079.8" cy="2511.1" r="7.5"/>
<circle cx="1086.5" cy="2544.1" r="7.5"/>
<circle cx="1092.9" cy="2517.8" r="7.5"/>
<circle cx="1108.6" cy="2517.8" r="7.5"/>
<circle cx="1115.3" cy="2472.4" r="7.5"/>
<circle cx="1121.6" cy="2436.7" r="7.5"/>
<circle cx="1128.3" cy="2501.8" r="7.5"/>
<circle cx="1134.9" cy="2517.8" r="7.5"/>
<circle cx="1141.3" cy="2531.4" r="7.5"/>
<circle cx="1164" cy="2508.7" r="7.5"/>
<circle cx="1190" cy="2549.6" r="7.5"/>
<circle cx="1196.3" cy="2514.8" r="7.5"/>
<circle cx="1206" cy="2551" r="7.5"/>
<circle cx="1212.7" cy="2508.7" r="7.5"/>
<circle cx="1219.6" cy="2472.4" r="7.5"/>
<circle cx="1225.7" cy="2508.7" r="7.5"/>
<circle cx="1232.3" cy="2485.4" r="7.5"/>
<circle cx="1239.3" cy="2524.5" r="7.5"/>
<circle cx="1245.3" cy="2517.8" r="7.5"/>
<circle cx="1252" cy="2527.8" r="7.5"/>
<circle cx="1261.4" cy="2520.8" r="7.5"/>
<circle cx="1268" cy="2479.1" r="7.5"/>
<circle cx="1274.7" cy="2551" r="7.5"/>
<circle cx="1294.4" cy="2549.6" r="7.5"/>
<circle cx="1300.7" cy="2514.8" r="7.5"/>
<circle cx="1310.4" cy="2527.8" r="7.5"/>
<circle cx="1317.1" cy="2540.5" r="7.5"/>
<circle cx="1323.4" cy="2537.5" r="7.5"/>
<circle cx="1330.1" cy="2479.1" r="7.5"/>
<circle cx="1336.1" cy="2424" r="7.5"/>
<circle cx="1342.8" cy="2485.4" r="7.5"/>
<circle cx="1349.8" cy="2489" r="7.5"/>
<circle cx="1355.8" cy="2449.7" r="7.5"/>
<circle cx="1365.5" cy="2424" r="7.5"/>
<circle cx="1372.5" cy="2534.4" r="7.5"/>
<circle cx="1378.5" cy="2478.5" r="7.5"/>
<circle cx="1385.5" cy="2544.1" r="7.5"/>
<circle cx="1391.5" cy="2495.1" r="7.5"/>
<circle cx="1404.8" cy="2482.4" r="7.5"/>
<circle cx="1414.8" cy="2478.5" r="7.5"/>
<circle cx="1420.9" cy="2388.3" r="7.5"/>
<circle cx="1427.5" cy="2492.1" r="7.5"/>
<circle cx="1433.9" cy="2515.4" r="7.5"/>
<circle cx="1440.6" cy="2492.1" r="7.5"/>
<circle cx="1447.5" cy="2505.1" r="7.5"/>
<circle cx="1453.6" cy="2466.3" r="7.5"/>
<circle cx="1460.2" cy="2449.7" r="7.5"/>
<circle cx="1469.6" cy="2326.8" r="7.5"/>
<circle cx="1476.5" cy="2329.2" r="7.5"/>
<circle cx="1482.6" cy="2345.5" r="7.5"/>
<circle cx="1489.2" cy="2251.1" r="7.5"/>
<circle cx="1495.9" cy="2221.7" r="7.5"/>
<circle cx="1502.2" cy="2290.4" r="7.5"/>
<circle cx="1508.9" cy="2257.1" r="7.5"/>
<circle cx="1518.6" cy="2114.9" r="7.5"/>
<circle cx="1524.9" cy="2183" r="7.5"/>
<circle cx="1531.6" cy="2169.4" r="7.5"/>
<circle cx="1538.3" cy="2183" r="7.5"/>
<circle cx="1544.6" cy="2202.7" r="7.5"/>
<circle cx="1551.3" cy="2218.7" r="7.5"/>
<circle cx="1557.6" cy="2133.7" r="7.5"/>
<circle cx="1567.3" cy="2160.3" r="7.5"/>
<circle cx="1574" cy="2137.6" r="7.5"/>
<circle cx="1580.6" cy="2082.5" r="7.5"/>
<circle cx="1587" cy="2030.1" r="7.5"/>
<circle cx="1593.6" cy="1997.8" r="7.5"/>
<circle cx="1600" cy="2046.8" r="7.5"/>
<circle cx="1606.7" cy="2120.9" r="7.5"/>
<circle cx="1613.3" cy="2160.3" r="7.5"/>
<circle cx="1622.4" cy="2225.4" r="7.5"/>
<circle cx="1629.1" cy="2303.5" r="7.5"/>
<circle cx="1635.4" cy="2261.1" r="7.5"/>
<circle cx="1642.1" cy="2166.3" r="7.5"/>
<circle cx="1648.7" cy="2180" r="7.5"/>
<circle cx="1655.1" cy="2211.7" r="7.5"/>
<circle cx="1661.7" cy="2221.7" r="7.5"/>
<circle cx="1671.4" cy="2258.1" r="7.5"/>
<circle cx="1678.4" cy="2205.7" r="7.5"/>
<circle cx="1684.4" cy="2316.2" r="7.5"/>
<circle cx="1691.1" cy="2335.8" r="7.5"/>
<circle cx="1697.5" cy="2375.2" r="7.5"/>
<circle cx="1703.7" cy="2463.1" r="7.5"/>
<circle cx="1710.3" cy="2446.4" r="7.5"/>
<circle cx="1717" cy="2460" r="7.5"/>
<circle cx="1727" cy="2433.4" r="7.5"/>
<circle cx="1733" cy="2417.1" r="7.5"/>
<circle cx="1739.7" cy="2401" r="7.5"/>
<circle cx="1746" cy="2515.1" r="7.5"/>
<circle cx="1752.7" cy="2501.5" r="7.5"/>
<circle cx="1759.4" cy="2404" r="7.5"/>
<circle cx="1766.3" cy="2501.5" r="7.5"/>
<circle cx="1782.4" cy="2518.1" r="7.5"/>
<circle cx="1789" cy="2492.4" r="7.5"/>
<circle cx="1795.1" cy="2472.7" r="7.5"/>
<circle cx="1801.7" cy="2508.5" r="7.5"/>
<circle cx="1808.1" cy="2524.5" r="7.5"/>
<circle cx="1821.1" cy="2476.1" r="7.5"/>
<circle cx="1837.4" cy="2534.8" r="7.5"/>
<circle cx="1845" cy="2541.7" r="7.5"/>
<circle cx="1854.1" cy="2540.2" r="7.5"/>
<circle cx="1863.2" cy="2540.2" r="7.5"/>
<circle cx="1870.7" cy="2544.2" r="7.5"/>
<circle cx="1879.8" cy="2518.4" r="7.5"/>
<circle cx="1886.5" cy="2476.1" r="7.5"/>
<circle cx="1899.5" cy="2552.3" r="7.5"/>
<circle cx="1905.5" cy="2508.5" r="7.5"/>
<circle cx="1912.5" cy="2505.4" r="7.5"/>
<circle cx="1919.2" cy="2504.5" r="7.5"/>
<circle cx="1928.2" cy="2550.8" r="7.5"/>
<circle cx="1941.9" cy="2498.8" r="7.5"/>
<circle cx="1947.9" cy="2537.8" r="7.5"/>
<circle cx="1961.5" cy="2525.1" r="7.5"/>
<circle cx="1990.3" cy="2515.1" r="7.5"/>
</g>
<path d="M189.7,2553.5 L191.7,2553.5 L193.7,2553.5 L195.7,2553.5 L197.7,2553.5 L199.7,2553.5 L201.7,2553.5 L203.7,2553.5 L205.7,2553.5 L207.7,2553.5 L209.7,2553.5 L211.7,2553.5 L213.7,2553.5 L215.7,2553.5 L217.7,2553.5 L219.7,2553.5 L221.7,2553.5 L223.7,2553.5 L225.7,2553.5 L227.7,2553.5 L229.7,2553.5 L231.7,2553.5 L233.7,2553.5 L235.7,2553.5 L237.7,2553.5 L239.7,2553.5 L241.7,2553.5 L243.7,2553.5 L245.7,2553.5 L247.7,2553.5 L249.7,2553.5 L251.7,2553.5 L253.7,2553.5 L255.7,2553.5 L257.7,2553.5 L259.7,2553.5 L261.7,2553.5 L263.7,2553.5 L265.7,2553.5 L267.7,2553.5 L269.7,2553.5 L271.7,2553.5 L273.7,2553.5 L275.7,2553.5 L277.7,2553.4 L279.7,2553.4 L281.7,2553.4 L283.7,2553.4 L285.7,2553.4 L287.7,2553.4 L289.7,2553.4 L291.7,2553.4 L293.7,2553.4 L295.7,2553.4 L297.7,2553.4 L299.7,2553.3 L301.7,2553.3 L303.7,2553.3 L305.7,2553.3 L307.7,2553.3 L309.7,2553.3 L311.7,2553.2 L313.7,2553.2 L315.7,2553.2 L317.7,2553.1 L319.7,2553.1 L321.7,2553.1 L323.7,2553.0 L325.7,2553.0 L327.7,2552.9 L329.7,2552.9 L331.7,2552.8 L333.7,2552.8 L335.7,2552.7 L337.7,2552.7 L339.7,2552.6 L341.7,2552.5 L343.7,2552.4 L345.7,2552.3 L347.7,2552.2 L349.7,2552.1 L351.7,2552.0 L353.7,2551.9 L355.7,2551.7 L357.7,2551.6 L359.7,2551.4 L361.7,2551.3 L363.7,2551.1 L365.7,2550.9 L367.7,2550.7 L369.7,2550.4 L371.7,2550.2 L373.7,2549.9 L375.7,2549.7 L377.7,2549.4 L379.7,2549.1 L381.7,2548.7 L383.7,2548.4 L385.7,2548.0 L387.7,2547.6 L389.7,2547.1 L391.7,2546.7 L393.7,2546.2 L395.7,2545.7 L397.7,2545.1 L399.7,2544.5 L401.7,2543.9 L403.7,2543.2 L405.7,2542.5 L407.7,2541.8 L409.7,2541.0 L411.7,2540.1 L413.7,2539.3 L415.7,2538.3 L417.7,2537.3 L419.7,2536.3 L421.7,2535.2 L423.7,2534.0 L425.7,2532.8 L427.7,2531.5 L429.7,2530.1 L431.7,2528.7 L433.7,2527.2 L435.7,2525.6 L437.7,2523.9 L439.7,2522.2 L441.7,2520.4 L443.7,2518.5 L445.7,2516.4 L447.7,2514.3 L449.7,2512.1 L451.7,2509.8 L453.7,2507.4 L455.7,2504.9 L457.7,2502.3 L459.7,2499.6 L461.7,2496.7 L463.7,2493.8 L465.7,2490.7 L467.7,2487.5 L469.7,2484.2 L471.7,2480.7 L473.7,2477.1 L475.7,2473.4 L477.7,2469.5 L479.7,2465.5 L481.7,2461.4 L483.7,2457.1 L485.7,2452.7 L487.7,2448.1 L489.7,2443.3 L491.7,2438.5 L493.7,2433.4 L495.7,2428.3 L497.7,2422.9 L499.7,2417.4 L501.7,2411.8 L503.7,2406.0 L505.7,2400.0 L507.7,2393.9 L509.7,2387.7 L511.7,2381.2 L513.7,2374.7 L515.7,2368.0 L517.7,2361.1 L519.7,2354.1 L521.7,2346.9 L523.7,2339.6 L525.7,2332.2 L527.7,2324.6 L529.7,2316.9 L531.7,2309.1 L533.7,2301.1 L535.7,2293.1 L537.7,2284.9 L539.7,2276.6 L541.7,2268.2 L543.7,2259.7 L545.7,2251.1 L547.7,2242.4 L549.7,2233.7 L551.7,2224.9 L553.7,2216.0 L555.7,2207.1 L557.7,2198.1 L559.7,2189.1 L561.7,2180.0 L563.7,2171.0 L565.7,2161.9 L567.7,2152.9 L569.7,2143.8 L571.7,2134.8 L573.7,2125.8 L575.7,2116.8 L577.7,2107.9 L579.7,2099.1 L581.7,2090.3 L583.7,2081.6 L585.7,2073.0 L587.7,2064.6 L589.7,2056.2 L591.7,2048.0 L593.7,2039.9 L595.7,2031.9 L597.7,2024.2 L599.7,2016.6 L601.7,2009.1 L603.7,2001.9 L605.7,1994.9 L607.7,1988.1 L609.7,1981.5 L611.7,1975.1 L613.7,1969.0 L615.7,1963.2 L617.7,1957.6 L619.7,1952.3 L621.7,1947.3 L623.7,1942.5 L625.7,1938.0 L627.7,1933.9 L629.7,1930.0 L631.7,1926.5 L633.7,1923.3 L635.7,1920.4 L637.7,1917.8 L639.7,1915.6 L641.7,1913.7 L643.7,1912.2 L645.7,1911.0 L647.7,1910.1 L649.7,1909.6 L651.7,1909.4 L653.7,1909.6 L655.7,1910.1 L657.7,1911.0 L659.7,1912.2 L661.7,1913.7 L663.7,1915.6 L665.7,1917.8 L667.7,1920.4 L669.7,1923.3 L671.7,1926.5 L673.7,1930.0 L675.7,1933.9 L677.7,1938.0 L679.7,1942.5 L681.7,1947.3 L683.7,1952.3 L685.7,1957.6 L687.7,1963.2 L689.7,1969.0 L691.7,1975.1 L693.7,1981.5 L695.7,1988.1 L697.7,1994.9 L699.7,2001.9 L701.7,2009.1 L703.7,2016.6 L705.7,2024.2 L707.7,2031.9 L709.7,2039.9 L711.7,2048.0 L713.7,2056.2 L715.7,2064.6 L717.7,2073.0 L719.7,2081.6 L721.7,2090.3 L723.7,2099.1 L725.7,2107.9 L727.7,2116.8 L729.7,2125.8 L731.7,2134.8 L733.7,2143.8 L735.7,2152.9 L737.7,2161.9 L739.7,2171.0 L741.7,2180.0 L743.7,2189.1 L745.7,2198.1 L747.7,2207.1 L749.7,2216.0 L751.7,2224.9 L753.7,2233.7 L755.7,2242.4 L757.7,2251.1 L759.7,2259.7 L761.7,2268.2 L763.7,2276.6 L765.7,2284.9 L767.7,2293.1 L769.7,2301.1 L771.7,2309.1 L773.7,2316.9 L775.7,2324.6 L777.7,2332.2 L779.7,2339.6 L781.7,2346.9 L783.7,2354.1 L785.7,2361.1 L787.7,2368.0 L789.7,2374.7 L791.7,2381.2 L793.7,2387.7 L795.7,2393.9 L797.7,2400.0 L799.7,2406.0 L801.7,2411.8 L803.7,2417.4 L805.7,2422.9 L807.7,2428.3 L809.7,2433.4 L811.7,2438.5 L813.7,2443.3 L815.7,2448.1 L817.7,2452.7 L819.7,2457.1 L821.7,2461.4 L823.7,2465.5 L825.7,2469.5 L827.7,2473.4 L829.7,2477.1 L831.7,2480.7 L833.7,2484.2 L835.7,2487.5 L837.7,2490.7 L839.7,2493.8 L841.7,2496.7 L843.7,2499.6 L845.7,2502.3 L847.7,2504.9 L849.7,2507.4 L851.7,2509.8 L853.7,2512.1 L855.7,2514.3 L857.7,2516.4 L859.7,2518.5 L861.7,2520.4 L863.7,2522.2 L865.7,2523.9 L867.7,2525.6 L869.7,2527.2 L871.7,2528.7 L873.7,2530.1 L875.7,2531.5 L877.7,2532.8 L879.7,2534.0 L881.7,2535.2 L883.7,2536.3 L885.7,2537.3 L887.7,2538.3 L889.7,2539.3 L891.7,2540.1 L893.7,2541.0 L895.7,2541.8 L897.7,2542.5 L899.7,2543.2 L901.7,2543.9 L903.7,2544.5 L905.7,2545.1 L907.7,2545.7 L909.7,2546.2 L911.7,2546.7 L913.7,2547.1 L915.7,2547.6 L917.7,2548.0 L919.7,2548.4 L921.7,2548.7 L923.7,2549.1 L925.7,2549.4 L927.7,2549.7 L929.7,2549.9 L931.7,2550.2 L933.7,2550.4 L935.7,2550.7 L937.7,2550.9 L939.7,2551.1 L941.7,2551.3 L943.7,2551.4 L945.7,2551.6 L947.7,2551.7 L949.7,2551.9 L951.7,2552.0 L953.7,2552.1 L955.7,2552.2 L957.7,2552.3 L959.7,2552.4 L961.7,2552.5 L963.7,2552.6 L965.7,2552.7 L967.7,2552.7 L969.7,2552.8 L971.7,2552.8 L973.7,2552.9 L975.7,2552.9 L977.7,2553.0 L979.7,2553.0 L981.7,2553.1 L983.7,2553.1 L985.7,2553.1 L987.7,2553.2 L989.7,2553.2 L991.7,2553.2 L993.7,2553.3 L995.7,2553.3 L997.7,2553.3 L999.7,2553.3 L1001.7,2553.3 L1003.7,2553.3 L1005.7,2553.4 L1007.7,2553.4 L1009.7,2553.4 L1011.7,2553.4 L1013.7,2553.4 L1015.7,2553.4 L1017.7,2553.4 L1019.7,2553.4 L1021.7,2553.4 L1023.7,2553.4 L1025.7,2553.4 L1027.7,2553.5 L1029.7,2553.5 L1031.7,2553.5 L1033.7,2553.5 L1035.7,2553.5 L1037.7,2553.5 L1039.7,2553.5 L1041.7,2553.5 L1043.7,2553.5 L1045.7,2553.5 L1047.7,2553.5 L1049.7,2553.5 L1051.7,2553.5 L1053.7,2553.5 L1055.7,2553.5 L1057.7,2553.5 L1059.7,2553.5 L1061.7,2553.5 L1063.7,2553.5 L1065.7,2553.5 L1067.7,2553.5 L1069.7,2553.5 L1071.7,2553.5 L1073.7,2553.5 L1075.7,2553.5 L1077.7,2553.5 L1079.7,2553.5 L1081.7,2553.5 L1083.7,2553.5 L1085.7,2553.5 L1087.7,2553.5 L1089.7,2553.5 L1091.7,2553.5 L1093.7,2553.5 L1095.7,2553.5 L1097.7,2553.5 L1099.7,2553.5 L1101.7,2553.5 L1103.7,2553.5 L1105.7,2553.5 L1107.7,2553.5 L1109.7,2553.5 L1111.7,2553.5 L1113.7,2553.5 L1115.7,2553.5 L1117.7,2553.5 L1119.7,2553.5 L1121.7,2553.5 L1123.7,2553.5 L1125.7,2553.5 L1127.7,2553.5 L1129.7,2553.5 L1131.7,2553.5 L1133.7,2553.5 L1135.7,2553.5 L1137.7,2553.5 L1139.7,2553.5 L1141.7,2553.5 L1143.7,2553.5 L1145.7,2553.5 L1147.7,2553.5 L1149.7,2553.5 L1151.7,2553.5 L1153.7,2553.5 L1155.7,2553.5 L1157.7,2553.5 L1159.7,2553.5 L1161.7,2553.5 L1163.7,2553.5 L1165.7,2553.5 L1167.7,2553.5 L1169.7,2553.5 L1171.7,2553.5 L1173.7,2553.5 L1175.7,2553.5 L1177.7,2553.5 L1179.7,2553.5 L1181.7,2553.5 L1183.7,2553.5 L1185.7,2553.5 L1187.7,2553.5 L1189.7,2553.5 L1191.7,2553.5 L1193.7,2553.5 L1195.7,2553.5 L1197.7,2553.5 L1199.7,2553.5 L1201.7,2553.5 L1203.7,2553.5 L1205.7,2553.5 L1207.7,2553.5 L1209.7,2553.5 L1211.7,2553.5 L1213.7,2553.5 L1215.7,2553.5 L1217.7,2553.5 L1219.7,2553.5 L1221.7,2553.5 L1223.7,2553.5 L1225.7,2553.5 L1227.7,2553.5 L1229.7,2553.5 L1231.7,2553.5 L1233.7,2553.5 L1235.7,2553.5 L1237.7,2553.5 L1239.7,2553.5 L1241.7,2553.5 L1243.7,2553.5 L1245.7,2553.5 L1247.7,2553.5 L1249.7,2553.5 L1251.7,2553.5 L1253.7,2553.5 L1255.7,2553.5 L1257.7,2553.5 L1259.7,2553.5 L1261.7,2553.5 L1263.7,2553.5 L1265.7,2553.5 L1267.7,2553.5 L1269.7,2553.5 L1271.7,2553.5 L1273.7,2553.5 L1275.7,2553.5 L1277.7,2553.5 L1279.7,2553.5 L1281.7,2553.5 L1283.7,2553.5 L1285.7,2553.5 L1287.7,2553.5 L1289.7,2553.5 L1291.7,2553.5 L1293.7,2553.5 L1295.7,2553.5 L1297.7,2553.5 L1299.7,2553.5 L1301.7,2553.5 L1303.7,2553.5 L1305.7,2553.5 L1307.7,2553.5 L1309.7,2553.5 L1311.7,2553.5 L1313.7,2553.5 L1315.7,2553.5 L1317.7,2553.5 L1319.7,2553.5 L1321.7,2553.5 L1323.7,2553.5 L1325.7,2553.5 L1327.7,2553.5 L1329.7,2553.5 L1331.7,2553.5 L1333.7,2553.5 L1335.7,2553.5 L1337.7,2553.5 L1339.7,2553.5 L1341.7,2553.5 L1343.7,2553.5 L1345.7,2553.5 L1347.7,2553.5 L1349.7,2553.5 L1351.7,2553.5 L1353.7,2553.5 L1355.7,2553.5 L1357.7,2553.5 L1359.7,2553.5 L1361.7,2553.5 L1363.7,2553.5 L1365.7,2553.5 L1367.7,2553.5 L1369.7,2553.5 L1371.7,2553.5 L1373.7,2553.5 L1375.7,2553.5 L1377.7,2553.5 L1378.5,2553.5" fill="none" stroke="#0000ff" stroke-width="4.6" stroke-linejoin="round"/>
<path d="M866.0,2553.5 L868.0,2553.5 L870.0,2553.5 L872.0,2553.5 L874.0,2553.5 L876.0,2553.5 L878.0,2553.5 L880.0,2553.5 L882.0,2553.5 L884.0,2553.5 L886.0,2553.5 L888.0,2553.5 L890.0,2553.5 L892.0,2553.5 L894.0,2553.5 L896.0,2553.5 L898.0,2553.5 L900.0,2553.5 L902.0,2553.5 L904.0,2553.5 L906.0,2553.5 L908.0,2553.5 L910.0,2553.5 L912.0,2553.5 L914.0,2553.5 L916.0,2553.5 L918.0,2553.5 L920.0,2553.5 L922.0,2553.5 L924.0,2553.5 L926.0,2553.5 L928.0,2553.5 L930.0,2553.5 L932.0,2553.5 L934.0,2553.5 L936.0,2553.5 L938.0,2553.5 L940.0,2553.5 L942.0,2553.5 L944.0,2553.5 L946.0,2553.5 L948.0,2553.5 L950.0,2553.5 L952.0,2553.5 L954.0,2553.5 L956.0,2553.5 L958.0,2553.5 L960.0,2553.5 L962.0,2553.5 L964.0,2553.5 L966.0,2553.5 L968.0,2553.5 L970.0,2553.5 L972.0,2553.5 L974.0,2553.5 L976.0,2553.5 L978.0,2553.5 L980.0,2553.5 L982.0,2553.5 L984.0,2553.5 L986.0,2553.5 L988.0,2553.5 L990.0,2553.5 L992.0,2553.5 L994.0,2553.5 L996.0,2553.5 L998.0,2553.5 L1000.0,2553.5 L1002.0,2553.5 L1004.0,2553.5 L1006.0,2553.5 L1008.0,2553.5 L1010.0,2553.5 L1012.0,2553.5 L1014.0,2553.5 L1016.0,2553.5 L1018.0,2553.5 L1020.0,2553.5 L1022.0,2553.5 L1024.0,2553.5 L1026.0,2553.5 L1028.0,2553.5 L1030.0,2553.5 L1032.0,2553.5 L1034.0,2553.5 L1036.0,2553.5 L1038.0,2553.5 L1040.0,2553.5 L1042.0,2553.5 L1044.0,2553.5 L1046.0,2553.5 L1048.0,2553.5 L1050.0,2553.5 L1052.0,2553.5 L1054.0,2553.5 L1056.0,2553.5 L1058.0,2553.5 L1060.0,2553.5 L1062.0,2553.5 L1064.0,2553.5 L1066.0,2553.5 L1068.0,2553.5 L1070.0,2553.5 L1072.0,2553.5 L1074.0,2553.5 L1076.0,2553.5 L1078.0,2553.5 L1080.0,2553.5 L1082.0,2553.5 L1084.0,2553.5 L1086.0,2553.5 L1088.0,2553.5 L1090.0,2553.5 L1092.0,2553.5 L1094.0,2553.5 L1096.0,2553.5 L1098.0,2553.5 L1100.0,2553.5 L1102.0,2553.5 L1104.0,2553.5 L1106.0,2553.5 L1108.0,2553.5 L1110.0,2553.5 L1112.0,2553.5 L1114.0,2553.5 L1116.0,2553.5 L1118.0,2553.5 L1120.0,2553.5 L1122.0,2553.5 L1124.0,2553.5 L1126.0,2553.5 L1128.0,2553.5 L1130.0,2553.5 L1132.0,2553.5 L1134.0,2553.5 L1136.0,2553.5 L1138.0,2553.5 L1140.0,2553.5 L1142.0,2553.5 L1144.0,2553.5 L1146.0,2553.5 L1148.0,2553.5 L1150.0,2553.5 L1152.0,2553.5 L1154.0,2553.5 L1156.0,2553.5 L1158.0,2553.5 L1160.0,2553.5 L1162.0,2553.5 L1164.0,2553.5 L1166.0,2553.5 L1168.0,2553.5 L1170.0,2553.5 L1172.0,2553.5 L1174.0,2553.5 L1176.0,2553.5 L1178.0,2553.5 L1180.0,2553.5 L1182.0,2553.5 L1184.0,2553.5 L1186.0,2553.5 L1188.0,2553.5 L1190.0,2553.5 L1192.0,2553.5 L1194.0,2553.5 L1196.0,2553.5 L1198.0,2553.5 L1200.0,2553.5 L1202.0,2553.5 L1204.0,2553.5 L1206.0,2553.5 L1208.0,2553.5 L1210.0,2553.5 L1212.0,2553.5 L1214.0,2553.5 L1216.0,2553.5 L1218.0,2553.4 L1220.0,2553.4 L1222.0,2553.4 L1224.0,2553.4 L1226.0,2553.4 L1228.0,2553.4 L1230.0,2553.4 L1232.0,2553.4 L1234.0,2553.4 L1236.0,2553.4 L1238.0,2553.4 L1240.0,2553.4 L1242.0,2553.3 L1244.0,2553.3 L1246.0,2553.3 L1248.0,2553.3 L1250.0,2553.3 L1252.0,2553.3 L1254.0,2553.2 L1256.0,2553.2 L1258.0,2553.2 L1260.0,2553.1 L1262.0,2553.1 L1264.0,2553.1 L1266.0,2553.0 L1268.0,2553.0 L1270.0,2553.0 L1272.0,2552.9 L1274.0,2552.9 L1276.0,2552.8 L1278.0,2552.7 L1280.0,2552.7 L1282.0,2552.6 L1284.0,2552.5 L1286.0,2552.4 L1288.0,2552.4 L1290.0,2552.3 L1292.0,2552.2 L1294.0,2552.0 L1296.0,2551.9 L1298.0,2551.8 L1300.0,2551.7 L1302.0,2551.5 L1304.0,2551.4 L1306.0,2551.2 L1308.0,2551.0 L1310.0,2550.8 L1312.0,2550.6 L1314.0,2550.4 L1316.0,2550.2 L1318.0,2549.9 L1320.0,2549.6 L1322.0,2549.4 L1324.0,2549.1 L1326.0,2548.7 L1328.0,2548.4 L1330.0,2548.0 L1332.0,2547.6 L1334.0,2547.2 L1336.0,2546.8 L1338.0,2546.3 L1340.0,2545.8 L1342.0,2545.3 L1344.0,2544.8 L1346.0,2544.2 L1348.0,2543.6 L1350.0,2542.9 L1352.0,2542.2 L1354.0,2541.5 L1356.0,2540.7 L1358.0,2539.9 L1360.0,2539.1 L1362.0,2538.2 L1364.0,2537.2 L1366.0,2536.2 L1368.0,2535.2 L1370.0,2534.1 L1372.0,2532.9 L1374.0,2531.7 L1376.0,2530.4 L1378.0,2529.1 L1380.0,2527.7 L1382.0,2526.3 L1384.0,2524.8 L1386.0,2523.2 L1388.0,2521.5 L1390.0,2519.8 L1392.0,2518.0 L1394.0,2516.1 L1396.0,2514.1 L1398.0,2512.1 L1400.0,2510.0 L1402.0,2507.7 L1404.0,2505.4 L1406.0,2503.1 L1408.0,2500.6 L1410.0,2498.0 L1412.0,2495.4 L1414.0,2492.6 L1416.0,2489.8 L1418.0,2486.8 L1420.0,2483.8 L1422.0,2480.6 L1424.0,2477.4 L1426.0,2474.1 L1428.0,2470.6 L1430.0,2467.1 L1432.0,2463.4 L1434.0,2459.7 L1436.0,2455.8 L1438.0,2451.8 L1440.0,2447.8 L1442.0,2443.6 L1444.0,2439.3 L1446.0,2435.0 L1448.0,2430.5 L1450.0,2425.9 L1452.0,2421.3 L1454.0,2416.5 L1456.0,2411.6 L1458.0,2406.7 L1460.0,2401.6 L1462.0,2396.5 L1464.0,2391.3 L1466.0,2385.9 L1468.0,2380.6 L1470.0,2375.1 L1472.0,2369.6 L1474.0,2364.0 L1476.0,2358.3 L1478.0,2352.6 L1480.0,2346.8 L1482.0,2340.9 L1484.0,2335.0 L1486.0,2329.1 L1488.0,2323.2 L1490.0,2317.2 L1492.0,2311.1 L1494.0,2305.1 L1496.0,2299.1 L1498.0,2293.0 L1500.0,2286.9 L1502.0,2280.9 L1504.0,2274.9 L1506.0,2268.8 L1508.0,2262.8 L1510.0,2256.9 L1512.0,2251.0 L1514.0,2245.1 L1516.0,2239.3 L1518.0,2233.6 L1520.0,2227.9 L1522.0,2222.3 L1524.0,2216.8 L1526.0,2211.4 L1528.0,2206.1 L1530.0,2200.8 L1532.0,2195.8 L1534.0,2190.8 L1536.0,2185.9 L1538.0,2181.2 L1540.0,2176.7 L1542.0,2172.3 L1544.0,2168.0 L1546.0,2163.9 L1548.0,2160.0 L1550.0,2156.3 L1552.0,2152.7 L1554.0,2149.4 L1556.0,2146.2 L1558.0,2143.2 L1560.0,2140.4 L1562.0,2137.8 L1564.0,2135.5 L1566.0,2133.3 L1568.0,2131.4 L1570.0,2129.7 L1572.0,2128.2 L1574.0,2126.9 L1576.0,2125.9 L1578.0,2125.0 L1580.0,2124.5 L1582.0,2124.1 L1584.0,2124.0 L1586.0,2124.1 L1588.0,2124.5 L1590.0,2125.0 L1592.0,2125.9 L1594.0,2126.9 L1596.0,2128.2 L1598.0,2129.7 L1600.0,2131.4 L1602.0,2133.3 L1604.0,2135.5 L1606.0,2137.8 L1608.0,2140.4 L1610.0,2143.2 L1612.0,2146.2 L1614.0,2149.4 L1616.0,2152.7 L1618.0,2156.3 L1620.0,2160.0 L1622.0,2163.9 L1624.0,2168.0 L1626.0,2172.3 L1628.0,2176.7 L1630.0,2181.2 L1632.0,2185.9 L1634.0,2190.8 L1636.0,2195.8 L1638.0,2200.8 L1640.0,2206.1 L1642.0,2211.4 L1644.0,2216.8 L1646.0,2222.3 L1648.0,2227.9 L1650.0,2233.6 L1652.0,2239.3 L1654.0,2245.1 L1656.0,2251.0 L1658.0,2256.9 L1660.0,2262.8 L1662.0,2268.8 L1664.0,2274.9 L1666.0,2280.9 L1668.0,2286.9 L1670.0,2293.0 L1672.0,2299.1 L1674.0,2305.1 L1676.0,2311.1 L1678.0,2317.2 L1680.0,2323.2 L1682.0,2329.1 L1684.0,2335.0 L1686.0,2340.9 L1688.0,2346.8 L1690.0,2352.6 L1692.0,2358.3 L1694.0,2364.0 L1696.0,2369.6 L1698.0,2375.1 L1700.0,2380.6 L1702.0,2385.9 L1704.0,2391.3 L1706.0,2396.5 L1708.0,2401.6 L1710.0,2406.7 L1712.0,2411.6 L1714.0,2416.5 L1716.0,2421.3 L1718.0,2425.9 L1720.0,2430.5 L1722.0,2435.0 L1724.0,2439.3 L1726.0,2443.6 L1728.0,2447.8 L1730.0,2451.8 L1732.0,2455.8 L1734.0,2459.7 L1736.0,2463.4 L1738.0,2467.1 L1740.0,2470.6 L1742.0,2474.1 L1744.0,2477.4 L1746.0,2480.6 L1748.0,2483.8 L1750.0,2486.8 L1752.0,2489.8 L1754.0,2492.6 L1756.0,2495.4 L1758.0,2498.0 L1760.0,2500.6 L1762.0,2503.1 L1764.0,2505.4 L1766.0,2507.7 L1768.0,2510.0 L1770.0,2512.1 L1772.0,2514.1 L1774.0,2516.1 L1776.0,2518.0 L1778.0,2519.8 L1780.0,2521.5 L1782.0,2523.2 L1784.0,2524.8 L1786.0,2526.3 L1788.0,2527.7 L1790.0,2529.1 L1792.0,2530.4 L1794.0,2531.7 L1796.0,2532.9 L1798.0,2534.1 L1800.0,2535.2 L1802.0,2536.2 L1804.0,2537.2 L1806.0,2538.2 L1808.0,2539.1 L1810.0,2539.9 L1812.0,2540.7 L1814.0,2541.5 L1816.0,2542.2 L1818.0,2542.9 L1820.0,2543.6 L1822.0,2544.2 L1824.0,2544.8 L1826.0,2545.3 L1828.0,2545.8 L1830.0,2546.3 L1832.0,2546.8 L1834.0,2547.2 L1836.0,2547.6 L1838.0,2548.0 L1840.0,2548.4 L1842.0,2548.7 L1844.0,2549.1 L1846.0,2549.4 L1848.0,2549.6 L1850.0,2549.9 L1852.0,2550.2 L1854.0,2550.4 L1856.0,2550.6 L1858.0,2550.8 L1860.0,2551.0 L1862.0,2551.2 L1864.0,2551.4 L1866.0,2551.5 L1868.0,2551.7 L1870.0,2551.8 L1872.0,2551.9 L1874.0,2552.0 L1876.0,2552.2 L1878.0,2552.3 L1880.0,2552.4 L1882.0,2552.4 L1884.0,2552.5 L1886.0,2552.6 L1888.0,2552.7 L1890.0,2552.7 L1892.0,2552.8 L1894.0,2552.9 L1896.0,2552.9 L1898.0,2553.0 L1900.0,2553.0 L1902.0,2553.0 L1904.0,2553.1 L1906.0,2553.1 L1908.0,2553.1 L1910.0,2553.2 L1912.0,2553.2 L1914.0,2553.2 L1916.0,2553.3 L1918.0,2553.3 L1920.0,2553.3 L1922.0,2553.3 L1924.0,2553.3 L1926.0,2553.3 L1928.0,2553.4 L1930.0,2553.4 L1932.0,2553.4 L1934.0,2553.4 L1936.0,2553.4 L1938.0,2553.4 L1940.0,2553.4 L1942.0,2553.4 L1944.0,2553.4 L1946.0,2553.4 L1948.0,2553.4 L1950.0,2553.4 L1952.0,2553.5 L1954.0,2553.5 L1956.0,2553.5 L1958.0,2553.5 L1960.0,2553.5 L1962.0,2553.5 L1964.0,2553.5 L1966.0,2553.5 L1968.0,2553.5 L1970.0,2553.5 L1972.0,2553.5 L1974.0,2553.5 L1976.0,2553.5 L1978.0,2553.5 L1980.0,2553.5 L1982.0,2553.5 L1984.0,2553.5 L1986.0,2553.5 L1988.0,2553.5 L1990.0,2553.5 L1992.0,2553.5 L1994.0,2553.5 L1995.6,2553.5" fill="none" stroke="#5858e8" stroke-width="3.0" stroke-linejoin="round"/>
<path d="M189.7,2553.5 L191.7,2553.5 L193.7,2553.5 L195.7,2553.5 L197.7,2553.5 L199.7,2553.5 L201.7,2553.5 L203.7,2553.5 L205.7,2553.5 L207.7,2553.5 L209.7,2553.5 L211.7,2553.5 L213.7,2553.5 L215.7,2553.5 L217.7,2553.5 L219.7,2553.5 L221.7,2553.5 L223.7,2553.5 L225.7,2553.5 L227.7,2553.5 L229.7,2553.5 L231.7,2553.5 L233.7,2553.5 L235.7,2553.5 L237.7,2553.5 L239.7,2553.5 L241.7,2553.5 L243.7,2553.5 L245.7,2553.5 L247.7,2553.5 L249.7,2553.5 L251.7,2553.5 L253.7,2553.5 L255.7,2553.5 L257.7,2553.5 L259.7,2553.5 L261.7,2553.5 L263.7,2553.5 L265.7,2553.5 L267.7,2553.5 L269.7,2553.5 L271.7,2553.5 L273.7,2553.5 L275.7,2553.5 L277.7,2553.4 L279.7,2553.4 L281.7,2553.4 L283.7,2553.4 L285.7,2553.4 L287.7,2553.4 L289.7,2553.4 L291.7,2553.4 L293.7,2553.4 L295.7,2553.4 L297.7,2553.4 L299.7,2553.3 L301.7,2553.3 L303.7,2553.3 L305.7,2553.3 L307.7,2553.3 L309.7,2553.3 L311.7,2553.2 L313.7,2553.2 L315.7,2553.2 L317.7,2553.1 L319.7,2553.1 L321.7,2553.1 L323.7,2553.0 L325.7,2553.0 L327.7,2552.9 L329.7,2552.9 L331.7,2552.8 L333.7,2552.8 L335.7,2552.7 L337.7,2552.7 L339.7,2552.6 L341.7,2552.5 L343.7,2552.4 L345.7,2552.3 L347.7,2552.2 L349.7,2552.1 L351.7,2552.0 L353.7,2551.9 L355.7,2551.7 L357.7,2551.6 L359.7,2551.4 L361.7,2551.3 L363.7,2551.1 L365.7,2550.9 L367.7,2550.7 L369.7,2550.4 L371.7,2550.2 L373.7,2549.9 L375.7,2549.7 L377.7,2549.4 L379.7,2549.1 L381.7,2548.7 L383.7,2548.4 L385.7,2548.0 L387.7,2547.6 L389.7,2547.1 L391.7,2546.7 L393.7,2546.2 L395.7,2545.7 L397.7,2545.1 L399.7,2544.5 L401.7,2543.9 L403.7,2543.2 L405.7,2542.5 L407.7,2541.8 L409.7,2541.0 L411.7,2540.1 L413.7,2539.3 L415.7,2538.3 L417.7,2537.3 L419.7,2536.3 L421.7,2535.2 L423.7,2534.0 L425.7,2532.8 L427.7,2531.5 L429.7,2530.1 L431.7,2528.7 L433.7,2527.2 L435.7,2525.6 L437.7,2523.9 L439.7,2522.2 L441.7,2520.4 L443.7,2518.5 L445.7,2516.4 L447.7,2514.3 L449.7,2512.1 L451.7,2509.8 L453.7,2507.4 L455.7,2504.9 L457.7,2502.3 L459.7,2499.6 L461.7,2496.7 L463.7,2493.8 L465.7,2490.7 L467.7,2487.5 L469.7,2484.2 L471.7,2480.7 L473.7,2477.1 L475.7,2473.4 L477.7,2469.5 L479.7,2465.5 L481.7,2461.4 L483.7,2457.1 L485.7,2452.7 L487.7,2448.1 L489.7,2443.3 L491.7,2438.5 L493.7,2433.4 L495.7,2428.3 L497.7,2422.9 L499.7,2417.4 L501.7,2411.8 L503.7,2406.0 L505.7,2400.0 L507.7,2393.9 L509.7,2387.7 L511.7,2381.2 L513.7,2374.7 L515.7,2368.0 L517.7,2361.1 L519.7,2354.1 L521.7,2346.9 L523.7,2339.6 L525.7,2332.2 L527.7,2324.6 L529.7,2316.9 L531.7,2309.1 L533.7,2301.1 L535.7,2293.1 L537.7,2284.9 L539.7,2276.6 L541.7,2268.2 L543.7,2259.7 L545.7,2251.1 L547.7,2242.4 L549.7,2233.7 L551.7,2224.9 L553.7,2216.0 L555.7,2207.1 L557.7,2198.1 L559.7,2189.1 L561.7,2180.0 L563.7,2171.0 L565.7,2161.9 L567.7,2152.9 L569.7,2143.8 L571.7,2134.8 L573.7,2125.8 L575.7,2116.8 L577.7,2107.9 L579.7,2099.1 L581.7,2090.3 L583.7,2081.6 L585.7,2073.0 L587.7,2064.6 L589.7,2056.2 L591.7,2048.0 L593.7,2039.9 L595.7,2031.9 L597.7,2024.2 L599.7,2016.6 L601.7,2009.1 L603.7,2001.9 L605.7,1994.9 L607.7,1988.1 L609.7,1981.5 L611.7,1975.1 L613.7,1969.0 L615.7,1963.2 L617.7,1957.6 L619.7,1952.3 L621.7,1947.3 L623.7,1942.5 L625.7,1938.0 L627.7,1933.9 L629.7,1930.0 L631.7,1926.5 L633.7,1923.3 L635.7,1920.4 L637.7,1917.8 L639.7,1915.6 L641.7,1913.7 L643.7,1912.2 L645.7,1911.0 L647.7,1910.1 L649.7,1909.6 L651.7,1909.4 L653.7,1909.6 L655.7,1910.1 L657.7,1911.0 L659.7,1912.2 L661.7,1913.7 L663.7,1915.6 L665.7,1917.8 L667.7,1920.4 L669.7,1923.3 L671.7,1926.5 L673.7,1930.0 L675.7,1933.9 L677.7,1938.0 L679.7,1942.5 L681.7,1947.3 L683.7,1952.3 L685.7,1957.6 L687.7,1963.2 L689.7,1969.0 L691.7,1975.1 L693.7,1981.5 L695.7,1988.1 L697.7,1994.9 L699.7,2001.9 L701.7,2009.1 L703.7,2016.6 L705.7,2024.2 L707.7,2031.9 L709.7,2039.9 L711.7,2048.0 L713.7,2056.2 L715.7,2064.6 L717.7,2073.0 L719.7,2081.6 L721.7,2090.3 L723.7,2099.1 L725.7,2107.9 L727.7,2116.8 L729.7,2125.8 L731.7,2134.8 L733.7,2143.8 L735.7,2152.9 L737.7,2161.9 L739.7,2171.0 L741.7,2180.0 L743.7,2189.1 L745.7,2198.1 L747.7,2207.1 L749.7,2216.0 L751.7,2224.9 L753.7,2233.7 L755.7,2242.4 L757.7,2251.1 L759.7,2259.7 L761.7,2268.2 L763.7,2276.6 L765.7,2284.9 L767.7,2293.1 L769.7,2301.1 L771.7,2309.1 L773.7,2316.9 L775.7,2324.6 L777.7,2332.2 L779.7,2339.6 L781.7,2346.9 L783.7,2354.1 L785.7,2361.1 L787.7,2368.0 L789.7,2374.7 L791.7,2381.2 L793.7,2387.7 L795.7,2393.9 L797.7,2400.0 L799.7,2406.0 L801.7,2411.8 L803.7,2417.4 L805.7,2422.9 L807.7,2428.3 L809.7,2433.4 L811.7,2438.5 L813.7,2443.3 L815.7,2448.1 L817.7,2452.7 L819.7,2457.1 L821.7,2461.4 L823.7,2465.5 L825.7,2469.5 L827.7,2473.4 L829.7,2477.1 L831.7,2480.7 L833.7,2484.2 L835.7,2487.5 L837.7,2490.7 L839.7,2493.8 L841.7,2496.7 L843.7,2499.6 L845.7,2502.3 L847.7,2504.9 L849.7,2507.4 L851.7,2509.8 L853.7,2512.1 L855.7,2514.3 L857.7,2516.4 L859.7,2518.5 L861.7,2520.4 L863.7,2522.2 L865.7,2523.9 L867.7,2525.6 L869.7,2527.2 L871.7,2528.7 L873.7,2530.1 L875.7,2531.5 L877.7,2532.8 L879.7,2534.0 L881.7,2535.2 L883.7,2536.3 L885.7,2537.3 L887.7,2538.3 L889.7,2539.3 L891.7,2540.1 L893.7,2541.0 L895.7,2541.8 L897.7,2542.5 L899.7,2543.2 L901.7,2543.9 L903.7,2544.5 L905.7,2545.1 L907.7,2545.7 L909.7,2546.2 L911.7,2546.7 L913.7,2547.1 L915.7,2547.6 L917.7,2548.0 L919.7,2548.4 L921.7,2548.7 L923.7,2549.1 L925.7,2549.4 L927.7,2549.7 L929.7,2549.9 L931.7,2550.2 L933.7,2550.4 L935.7,2550.7 L937.7,2550.9 L939.7,2551.1 L941.7,2551.3 L943.7,2551.4 L945.7,2551.6 L947.7,2551.7 L949.7,2551.9 L951.7,2552.0 L953.7,2552.1 L955.7,2552.2 L957.7,2552.3 L959.7,2552.4 L961.7,2552.5 L963.7,2552.6 L965.7,2552.7 L967.7,2552.7 L969.7,2552.8 L971.7,2552.8 L973.7,2552.9 L975.7,2552.9 L977.7,2553.0 L979.7,2553.0 L981.7,2553.1 L983.7,2553.1 L985.7,2553.1 L987.7,2553.2 L989.7,2553.2 L991.7,2553.2 L993.7,2553.3 L995.7,2553.3 L997.7,2553.3 L999.7,2553.3 L1001.7,2553.3 L1003.7,2553.3 L1005.7,2553.4 L1007.7,2553.4 L1009.7,2553.4 L1011.7,2553.4 L1013.7,2553.4 L1015.7,2553.4 L1017.7,2553.4 L1019.7,2553.4 L1021.7,2553.4 L1023.7,2553.4 L1025.7,2553.4 L1027.7,2553.5 L1029.7,2553.5 L1031.7,2553.5 L1033.7,2553.5 L1035.7,2553.5 L1037.7,2553.5 L1039.7,2553.5 L1041.7,2553.5 L1043.7,2553.5 L1045.7,2553.5 L1047.7,2553.5 L1049.7,2553.5 L1051.7,2553.5 L1053.7,2553.5 L1055.7,2553.5 L1057.7,2553.5 L1059.7,2553.5 L1061.7,2553.5 L1063.7,2553.5 L1065.7,2553.5 L1067.7,2553.5 L1069.7,2553.5 L1071.7,2553.5 L1073.7,2553.5 L1075.7,2553.5 L1077.7,2553.5 L1079.7,2553.5 L1081.7,2553.5 L1083.7,2553.5 L1085.7,2553.5 L1087.7,2553.5 L1089.7,2553.5 L1091.7,2553.5 L1093.7,2553.5 L1095.7,2553.5 L1097.7,2553.5 L1099.7,2553.5 L1101.7,2553.5 L1103.7,2553.5 L1105.7,2553.5 L1107.7,2553.5 L1109.7,2553.5 L1111.7,2553.5 L1113.7,2553.5 L1115.7,2553.5 L1117.7,2553.5 L1119.7,2553.5 L1121.7,2553.5 L1123.7,2553.5 L1125.7,2553.5 L1127.7,2553.5 L1129.7,2553.5 L1131.7,2553.5 L1133.7,2553.5 L1135.7,2553.5 L1137.7,2553.5 L1139.7,2553.5 L1141.7,2553.5 L1143.7,2553.5 L1145.7,2553.5 L1147.7,2553.5 L1149.7,2553.5 L1151.7,2553.5 L1153.7,2553.5 L1155.7,2553.5 L1157.7,2553.5 L1159.7,2553.5 L1161.7,2553.5 L1163.7,2553.5 L1165.7,2553.5 L1167.7,2553.5 L1169.7,2553.5 L1171.7,2553.5 L1173.7,2553.5 L1175.7,2553.5 L1177.7,2553.5 L1179.7,2553.5 L1181.7,2553.5 L1183.7,2553.5 L1185.7,2553.5 L1187.7,2553.5 L1189.7,2553.5 L1191.7,2553.5 L1193.7,2553.5 L1195.7,2553.5 L1197.7,2553.5 L1199.7,2553.5 L1201.7,2553.5 L1203.7,2553.5 L1205.7,2553.5 L1207.7,2553.5 L1209.7,2553.5 L1211.7,2553.5 L1213.7,2553.5 L1215.7,2553.5 L1217.7,2553.5 L1219.7,2553.4 L1221.7,2553.4 L1223.7,2553.4 L1225.7,2553.4 L1227.7,2553.4 L1229.7,2553.4 L1231.7,2553.4 L1233.7,2553.4 L1235.7,2553.4 L1237.7,2553.4 L1239.7,2553.4 L1241.7,2553.3 L1243.7,2553.3 L1245.7,2553.3 L1247.7,2553.3 L1249.7,2553.3 L1251.7,2553.3 L1253.7,2553.2 L1255.7,2553.2 L1257.7,2553.2 L1259.7,2553.1 L1261.7,2553.1 L1263.7,2553.1 L1265.7,2553.0 L1267.7,2553.0 L1269.7,2553.0 L1271.7,2552.9 L1273.7,2552.9 L1275.7,2552.8 L1277.7,2552.7 L1279.7,2552.7 L1281.7,2552.6 L1283.7,2552.5 L1285.7,2552.5 L1287.7,2552.4 L1289.7,2552.3 L1291.7,2552.2 L1293.7,2552.1 L1295.7,2551.9 L1297.7,2551.8 L1299.7,2551.7 L1301.7,2551.5 L1303.7,2551.4 L1305.7,2551.2 L1307.7,2551.0 L1309.7,2550.8 L1311.7,2550.6 L1313.7,2550.4 L1315.7,2550.2 L1317.7,2549.9 L1319.7,2549.7 L1321.7,2549.4 L1323.7,2549.1 L1325.7,2548.8 L1327.7,2548.4 L1329.7,2548.1 L1331.7,2547.7 L1333.7,2547.3 L1335.7,2546.8 L1337.7,2546.4 L1339.7,2545.9 L1341.7,2545.4 L1343.7,2544.8 L1345.7,2544.3 L1347.7,2543.6 L1349.7,2543.0 L1351.7,2542.3 L1353.7,2541.6 L1355.7,2540.8 L1357.7,2540.0 L1359.7,2539.2 L1361.7,2538.3 L1363.7,2537.4 L1365.7,2536.4 L1367.7,2535.3 L1369.7,2534.2 L1371.7,2533.1 L1373.7,2531.9 L1375.7,2530.6 L1377.7,2529.3 L1378.5,2528.8" fill="none" stroke="#000064" stroke-width="3.0" stroke-linejoin="round"/>
<path d="M1378.5,2528.8 L1380.5,2527.4 L1382.5,2525.9 L1384.5,2524.4 L1386.5,2522.8 L1388.5,2521.1 L1390.5,2519.3 L1392.5,2517.5 L1394.5,2515.6 L1396.5,2513.6 L1398.5,2511.6 L1400.5,2509.4 L1402.5,2507.2 L1404.5,2504.9 L1406.5,2502.5 L1408.5,2500.0 L1410.5,2497.4 L1412.5,2494.7 L1414.5,2491.9 L1416.5,2489.0 L1418.5,2486.1 L1420.5,2483.0 L1422.5,2479.8 L1424.5,2476.6 L1426.5,2473.2 L1428.5,2469.7 L1430.5,2466.2 L1432.5,2462.5 L1434.5,2458.7 L1436.5,2454.8 L1438.5,2450.8 L1440.5,2446.7 L1442.5,2442.6 L1444.5,2438.3 L1446.5,2433.9 L1448.5,2429.4 L1450.5,2424.8 L1452.5,2420.1 L1454.5,2415.3 L1456.5,2410.4 L1458.5,2405.4 L1460.5,2400.3 L1462.5,2395.2 L1464.5,2389.9 L1466.5,2384.6 L1468.5,2379.2 L1470.5,2373.7 L1472.5,2368.2 L1474.5,2362.5 L1476.5,2356.9 L1478.5,2351.1 L1480.5,2345.3 L1482.5,2339.5 L1484.5,2333.6 L1486.5,2327.6 L1488.5,2321.7 L1490.5,2315.7 L1492.5,2309.6 L1494.5,2303.6 L1496.5,2297.5 L1498.5,2291.5 L1500.5,2285.4 L1502.5,2279.4 L1504.5,2273.3 L1506.5,2267.3 L1508.5,2261.4 L1510.5,2255.4 L1512.5,2249.5 L1514.5,2243.7 L1516.5,2237.9 L1518.5,2232.1 L1520.5,2226.5 L1522.5,2220.9 L1524.5,2215.4 L1526.5,2210.0 L1528.5,2204.7 L1530.5,2199.6 L1532.5,2194.5 L1534.5,2189.6 L1536.5,2184.8 L1538.5,2180.1 L1540.5,2175.6 L1542.5,2171.2 L1544.5,2167.0 L1546.5,2163.0 L1548.5,2159.1 L1550.5,2155.4 L1552.5,2151.9 L1554.5,2148.5 L1556.5,2145.4 L1558.5,2142.5 L1560.5,2139.7 L1562.5,2137.2 L1564.5,2134.9 L1566.5,2132.8 L1568.5,2130.9 L1570.5,2129.3 L1572.5,2127.8 L1574.5,2126.6 L1576.5,2125.6 L1578.5,2124.9 L1580.5,2124.4 L1582.5,2124.1 L1584.5,2124.0 L1586.5,2124.2 L1588.5,2124.6 L1590.5,2125.2 L1592.5,2126.1 L1594.5,2127.2 L1596.5,2128.5 L1598.5,2130.1 L1600.5,2131.8 L1602.5,2133.8 L1604.5,2136.0 L1606.5,2138.5 L1608.5,2141.1 L1610.5,2143.9 L1612.5,2146.9 L1614.5,2150.2 L1616.5,2153.6 L1618.5,2157.2 L1620.5,2161.0 L1622.5,2165.0 L1624.5,2169.1 L1626.5,2173.4 L1628.5,2177.8 L1630.5,2182.4 L1632.5,2187.1 L1634.5,2192.0 L1636.5,2197.0 L1638.5,2202.1 L1640.5,2207.4 L1642.5,2212.7 L1644.5,2218.2 L1646.5,2223.7 L1648.5,2229.3 L1650.5,2235.0 L1652.5,2240.7 L1654.5,2246.6 L1656.5,2252.4 L1658.5,2258.4 L1660.5,2264.3 L1662.5,2270.3 L1664.5,2276.4 L1666.5,2282.4 L1668.5,2288.5 L1670.5,2294.5 L1672.5,2300.6 L1674.5,2306.6 L1676.5,2312.6 L1678.5,2318.7 L1680.5,2324.6 L1682.5,2330.6 L1684.5,2336.5 L1686.5,2342.4 L1688.5,2348.2 L1690.5,2354.0 L1692.5,2359.7 L1694.5,2365.4 L1696.5,2371.0 L1698.5,2376.5 L1700.5,2381.9 L1702.5,2387.3 L1704.5,2392.6 L1706.5,2397.8 L1708.5,2402.9 L1710.5,2407.9 L1712.5,2412.8 L1714.5,2417.7 L1716.5,2422.4 L1718.5,2427.1 L1720.5,2431.6 L1722.5,2436.1 L1724.5,2440.4 L1726.5,2444.7 L1728.5,2448.8 L1730.5,2452.8 L1732.5,2456.8 L1734.5,2460.6 L1736.5,2464.3 L1738.5,2468.0 L1740.5,2471.5 L1742.5,2474.9 L1744.5,2478.2 L1746.5,2481.4 L1748.5,2484.6 L1750.5,2487.6 L1752.5,2490.5 L1754.5,2493.3 L1756.5,2496.0 L1758.5,2498.7 L1760.5,2501.2 L1762.5,2503.7 L1764.5,2506.0 L1766.5,2508.3 L1768.5,2510.5 L1770.5,2512.6 L1772.5,2514.6 L1774.5,2516.6 L1776.5,2518.4 L1778.5,2520.2 L1780.5,2521.9 L1782.5,2523.6 L1784.5,2525.1 L1786.5,2526.6 L1788.5,2528.1 L1790.5,2529.5 L1792.5,2530.8 L1794.5,2532.0 L1796.5,2533.2 L1798.5,2534.4 L1800.5,2535.4 L1802.5,2536.5 L1804.5,2537.5 L1806.5,2538.4 L1808.5,2539.3 L1810.5,2540.1 L1812.5,2540.9 L1814.5,2541.7 L1816.5,2542.4 L1818.5,2543.1 L1820.5,2543.7 L1822.5,2544.3 L1824.5,2544.9 L1826.5,2545.4 L1828.5,2546.0 L1830.5,2546.4 L1832.5,2546.9 L1834.5,2547.3 L1836.5,2547.7 L1838.5,2548.1 L1840.5,2548.5 L1842.5,2548.8 L1844.5,2549.1 L1846.5,2549.4 L1848.5,2549.7 L1850.5,2550.0 L1852.5,2550.2 L1854.5,2550.4 L1856.5,2550.7 L1858.5,2550.9 L1860.5,2551.1 L1862.5,2551.2 L1864.5,2551.4 L1866.5,2551.6 L1868.5,2551.7 L1870.5,2551.8 L1872.5,2552.0 L1874.5,2552.1 L1876.5,2552.2 L1878.5,2552.3 L1880.5,2552.4 L1882.5,2552.5 L1884.5,2552.5 L1886.5,2552.6 L1888.5,2552.7 L1890.5,2552.8 L1892.5,2552.8 L1894.5,2552.9 L1896.5,2552.9 L1898.5,2553.0 L1900.5,2553.0 L1902.5,2553.0 L1904.5,2553.1 L1906.5,2553.1 L1908.5,2553.2 L1910.5,2553.2 L1912.5,2553.2 L1914.5,2553.2 L1916.5,2553.3 L1918.5,2553.3 L1920.5,2553.3 L1922.5,2553.3 L1924.5,2553.3 L1926.5,2553.3 L1928.5,2553.4 L1930.5,2553.4 L1932.5,2553.4 L1934.5,2553.4 L1936.5,2553.4 L1938.5,2553.4 L1940.5,2553.4 L1942.5,2553.4 L1944.5,2553.4 L1946.5,2553.4 L1948.5,2553.4 L1950.5,2553.5 L1952.5,2553.5 L1954.5,2553.5 L1956.5,2553.5 L1958.5,2553.5 L1960.5,2553.5 L1962.5,2553.5 L1964.5,2553.5 L1966.5,2553.5 L1968.5,2553.5 L1970.5,2553.5 L1972.5,2553.5 L1974.5,2553.5 L1976.5,2553.5 L1978.5,2553.5 L1980.5,2553.5 L1982.5,2553.5 L1984.5,2553.5 L1986.5,2553.5 L1988.5,2553.5 L1990.5,2553.5 L1992.5,2553.5 L1994.5,2553.5 L1995.6,2553.5" fill="none" stroke="#06063c" stroke-width="2.8" stroke-linejoin="round"/>
</g>
<g clip-path="url(#clipB)">
<path d="M189.7,2552.5 H361.7" stroke="#00008c" stroke-width="3.2" fill="none"/>
<path d="M942.7,2552.5 H1304.7" stroke="#00008c" stroke-width="3.2" fill="none"/>
<path d="M1863.5,2552.5 H1995.6" stroke="#2a2a70" stroke-width="3.2" fill="none"/>
</g>
<g class="ax">
<path d="M188.2,1596.0 H1997.1"/>
<path d="M189.7,1596.0 V2583.1"/>
<path d="M1995.6,1596.0 V2556.9"/>
<path d="M162.2,2384.4 H189.7 M162.2,2213.4 H189.7 M162.2,2042.4 H189.7 M162.2,1871.4 H189.7 M162.2,1700.4 H189.7 "/>
<path d="M245.3,2555.4 V2570.5 M300.8,2555.4 V2570.5 M356.4,2555.4 V2570.5 M412.0,2555.4 V2570.5 M467.5,2555.4 V2583.1 M523.1,2555.4 V2570.5 M578.7,2555.4 V2570.5 M634.2,2555.4 V2570.5 M689.8,2555.4 V2570.5 M745.4,2555.4 V2583.1 M800.9,2555.4 V2570.5 M856.5,2555.4 V2570.5 M912.1,2555.4 V2570.5 M967.6,2555.4 V2570.5 M1023.2,2555.4 V2583.1 M1078.8,2555.4 V2570.5 M1134.3,2555.4 V2570.5 M1189.9,2555.4 V2570.5 M1245.5,2555.4 V2570.5 M1301.0,2555.4 V2583.1 M1356.6,2555.4 V2570.5 M1412.2,2555.4 V2570.5 M1467.7,2555.4 V2570.5 M1523.3,2555.4 V2570.5 M1578.9,2555.4 V2583.1 M1634.4,2555.4 V2570.5 M1690.0,2555.4 V2570.5 M1745.6,2555.4 V2570.5 M1801.1,2555.4 V2570.5 M1856.7,2555.4 V2583.1 M1912.3,2555.4 V2570.5 M1967.8,2555.4 V2570.5 "/>
</g>
<g filter="url(#softT)">
<text><tspan x="130.0" y="2657.60" font-size="68.5" textLength="116.42" lengthAdjust="spacingAndGlyphs" stroke="#000" stroke-width="1.6" stroke-linejoin="round">402</tspan></text>
<text><tspan x="407.0" y="2657.60" font-size="68.5" textLength="117.43" lengthAdjust="spacingAndGlyphs" stroke="#000" stroke-width="1.6" stroke-linejoin="round">404</tspan></text>
<text><tspan x="687.0" y="2657.60" font-size="68.5" textLength="117.92" lengthAdjust="spacingAndGlyphs" stroke="#000" stroke-width="1.6" stroke-linejoin="round">406</tspan></text>
<text><tspan x="963.0" y="2657.60" font-size="68.5" textLength="119.43" lengthAdjust="spacingAndGlyphs" stroke="#000" stroke-width="1.6" stroke-linejoin="round">408</tspan></text>
<text><tspan x="1249.5" y="2657.60" font-size="68.5" textLength="104.42" lengthAdjust="spacingAndGlyphs" stroke="#000" stroke-width="1.6" stroke-linejoin="round">410</tspan></text>
<text><tspan x="1526.5" y="2657.60" font-size="68.5" textLength="101.93" lengthAdjust="spacingAndGlyphs" stroke="#000" stroke-width="1.6" stroke-linejoin="round">412</tspan></text>
<text><tspan x="1802.0" y="2657.60" font-size="68.5" textLength="104.44" lengthAdjust="spacingAndGlyphs" stroke="#000" stroke-width="1.6" stroke-linejoin="round">414</tspan></text>
</g>
<g filter="url(#softT)">
<text><tspan x="782.5" y="2755.10" font-size="72.8" textLength="236.08" lengthAdjust="spacingAndGlyphs" stroke="#000" stroke-width="1.8" stroke-linejoin="round">Binding</tspan> <tspan x="1029.5" y="2755.10" font-size="72.8" textLength="215.98" lengthAdjust="spacingAndGlyphs" stroke="#000" stroke-width="1.8" stroke-linejoin="round">Energy</tspan> <tspan x="1264.5" y="2755.10" font-size="72.8" textLength="130.57" lengthAdjust="spacingAndGlyphs" stroke="#000" stroke-width="1.8" stroke-linejoin="round">(eV)</tspan></text>
</g>
<g filter="url(#softT)">
<text><tspan x="978.0" y="1560.40" font-size="100.4" textLength="183.09" lengthAdjust="spacingAndGlyphs" stroke="#000" stroke-width="1.8" stroke-linejoin="round">Cd3</tspan><tspan x="1165.0" y="1560.40" font-size="100.4" textLength="57.67" lengthAdjust="spacingAndGlyphs" stroke="#000" stroke-width="1.8" stroke-linejoin="round">d</tspan></text>
</g>
<g filter="url(#softT)">
<text><tspan x="27.0" y="1625.40" font-size="101" textLength="59.97" lengthAdjust="spacingAndGlyphs" stroke="#000" stroke-width="2.2" stroke-linejoin="round">b</tspan><tspan x="103.5" y="1625.40" font-size="101" textLength="26.68" lengthAdjust="spacingAndGlyphs" stroke="#000" stroke-width="2.2" stroke-linejoin="round">)</tspan></text>
</g>
<g filter="url(#softY)">
<text transform="translate(136.3,0) rotate(-90)"><tspan x="-2269.5" y="0.00" font-size="70.5" textLength="224.02" lengthAdjust="spacingAndGlyphs">Counts</tspan> <tspan x="-2025.5" y="0.00" font-size="70.5" textLength="149.11" lengthAdjust="spacingAndGlyphs">(a.u.)</tspan></text>
</g>
<g filter="url(#softT)">
<text><tspan x="225.5" y="1683.60" font-size="72.8" textLength="176.45" lengthAdjust="spacingAndGlyphs" stroke="#000" stroke-width="1.8" stroke-linejoin="round">AgNP</tspan><tspan x="407.0" y="1683.60" font-size="72.8" textLength="97.44" lengthAdjust="spacingAndGlyphs" stroke="#000" stroke-width="1.8" stroke-linejoin="round">s/L</tspan><tspan x="487.5" y="1683.60" font-size="72.8" textLength="32.17" lengthAdjust="spacingAndGlyphs" stroke="#000" stroke-width="1.8" stroke-linejoin="round">-</tspan><tspan x="520.5" y="1683.60" font-size="72.8" textLength="226.97" lengthAdjust="spacingAndGlyphs" stroke="#000" stroke-width="1.8" stroke-linejoin="round">cys/citr</tspan></text>
<text><tspan x="241.0" y="1771.30" font-size="72.8" textLength="43.42" lengthAdjust="spacingAndGlyphs" stroke="#000" stroke-width="1.8" stroke-linejoin="round">+</tspan> <tspan x="298.5" y="1771.30" font-size="72.8" textLength="91.05" lengthAdjust="spacingAndGlyphs" stroke="#000" stroke-width="1.8" stroke-linejoin="round">Cd</tspan><tspan x="394.0" y="1771.30" font-size="72.8" textLength="72.99" lengthAdjust="spacingAndGlyphs" stroke="#000" stroke-width="1.8" stroke-linejoin="round">(II)</tspan> <tspan x="486.5" y="1771.30" font-size="72.8" textLength="72.99" lengthAdjust="spacingAndGlyphs" stroke="#000" stroke-width="1.8" stroke-linejoin="round">10</tspan> <tspan x="578.0" y="1771.30" font-size="72.8" textLength="142.13" lengthAdjust="spacingAndGlyphs" stroke="#000" stroke-width="1.8" stroke-linejoin="round">ppm</tspan></text>
</g>
<g id="legendB">
<circle cx="1297.2" cy="1649.9" r="8" filter="url(#soft)"/>
<g filter="url(#softT)">
<text><tspan x="1390.5" y="1677.70" font-size="72.8" textLength="72.44" lengthAdjust="spacingAndGlyphs" stroke="#000" stroke-width="1.8" stroke-linejoin="round">Ex</tspan><tspan x="1461.0" y="1677.70" font-size="72.8" textLength="335.03" lengthAdjust="spacingAndGlyphs" stroke="#000" stroke-width="1.8" stroke-linejoin="round">perimental</tspan> <tspan x="1807.5" y="1677.70" font-size="72.8" textLength="145.94" lengthAdjust="spacingAndGlyphs" stroke="#000" stroke-width="1.8" stroke-linejoin="round">Data</tspan></text>
</g>
<path d="M1239,1737.6 H1359.4" stroke="#0000ff" stroke-width="6.8" fill="none"/>
<g filter="url(#softT)">
<text><tspan x="1375.5" y="1762.20" font-size="72.8" textLength="129.97" lengthAdjust="spacingAndGlyphs" stroke="#000" stroke-width="1.8" stroke-linejoin="round">Cd3</tspan><tspan x="1509.0" y="1762.20" font-size="72.8" textLength="42.03" lengthAdjust="spacingAndGlyphs" stroke="#000" stroke-width="1.8" stroke-linejoin="round">d</tspan><tspan x="1552.5" y="1772.05" font-size="46" textLength="68.89" lengthAdjust="spacingAndGlyphs" stroke="#000" stroke-width="1.3" stroke-linejoin="round">5/2</tspan> <tspan x="1636.0" y="1762.20" font-size="72.8" textLength="92.1" lengthAdjust="spacingAndGlyphs" stroke="#000" stroke-width="1.8" stroke-linejoin="round">Cd</tspan><tspan x="1732.0" y="1762.20" font-size="72.8" textLength="71.46" lengthAdjust="spacingAndGlyphs" stroke="#000" stroke-width="1.8" stroke-linejoin="round">(II)</tspan></text>
</g>
<path d="M1239,1822.1 H1359.4" stroke="#8080ff" stroke-width="6.8" fill="none"/>
<g filter="url(#softT)">
<text><tspan x="1375.5" y="1846.80" font-size="72.8" textLength="129.97" lengthAdjust="spacingAndGlyphs" stroke="#000" stroke-width="1.8" stroke-linejoin="round">Cd3</tspan><tspan x="1509.0" y="1846.80" font-size="72.8" textLength="42.03" lengthAdjust="spacingAndGlyphs" stroke="#000" stroke-width="1.8" stroke-linejoin="round">d</tspan><tspan x="1553.5" y="1856.65" font-size="46" textLength="67.84" lengthAdjust="spacingAndGlyphs" stroke="#000" stroke-width="1.3" stroke-linejoin="round">3/2</tspan> <tspan x="1636.0" y="1846.80" font-size="72.8" textLength="92.1" lengthAdjust="spacingAndGlyphs" stroke="#000" stroke-width="1.8" stroke-linejoin="round">Cd</tspan><tspan x="1732.0" y="1846.80" font-size="72.8" textLength="71.46" lengthAdjust="spacingAndGlyphs" stroke="#000" stroke-width="1.8" stroke-linejoin="round">(II)</tspan></text>
</g>
<path d="M1239,1906.5 H1359.4" stroke="#808080" stroke-width="6.8" fill="none"/>
<g filter="url(#softT)">
<text><tspan x="1390.5" y="1934.40" font-size="72.8" textLength="137.45" lengthAdjust="spacingAndGlyphs" stroke="#000" stroke-width="1.8" stroke-linejoin="round">Best</tspan> <tspan x="1543.0" y="1934.40" font-size="72.8" textLength="78.92" lengthAdjust="spacingAndGlyphs" stroke="#000" stroke-width="1.8" stroke-linejoin="round">Fit</tspan></text>
</g>
</g>
</g>
</svg>
</body>
</html>
